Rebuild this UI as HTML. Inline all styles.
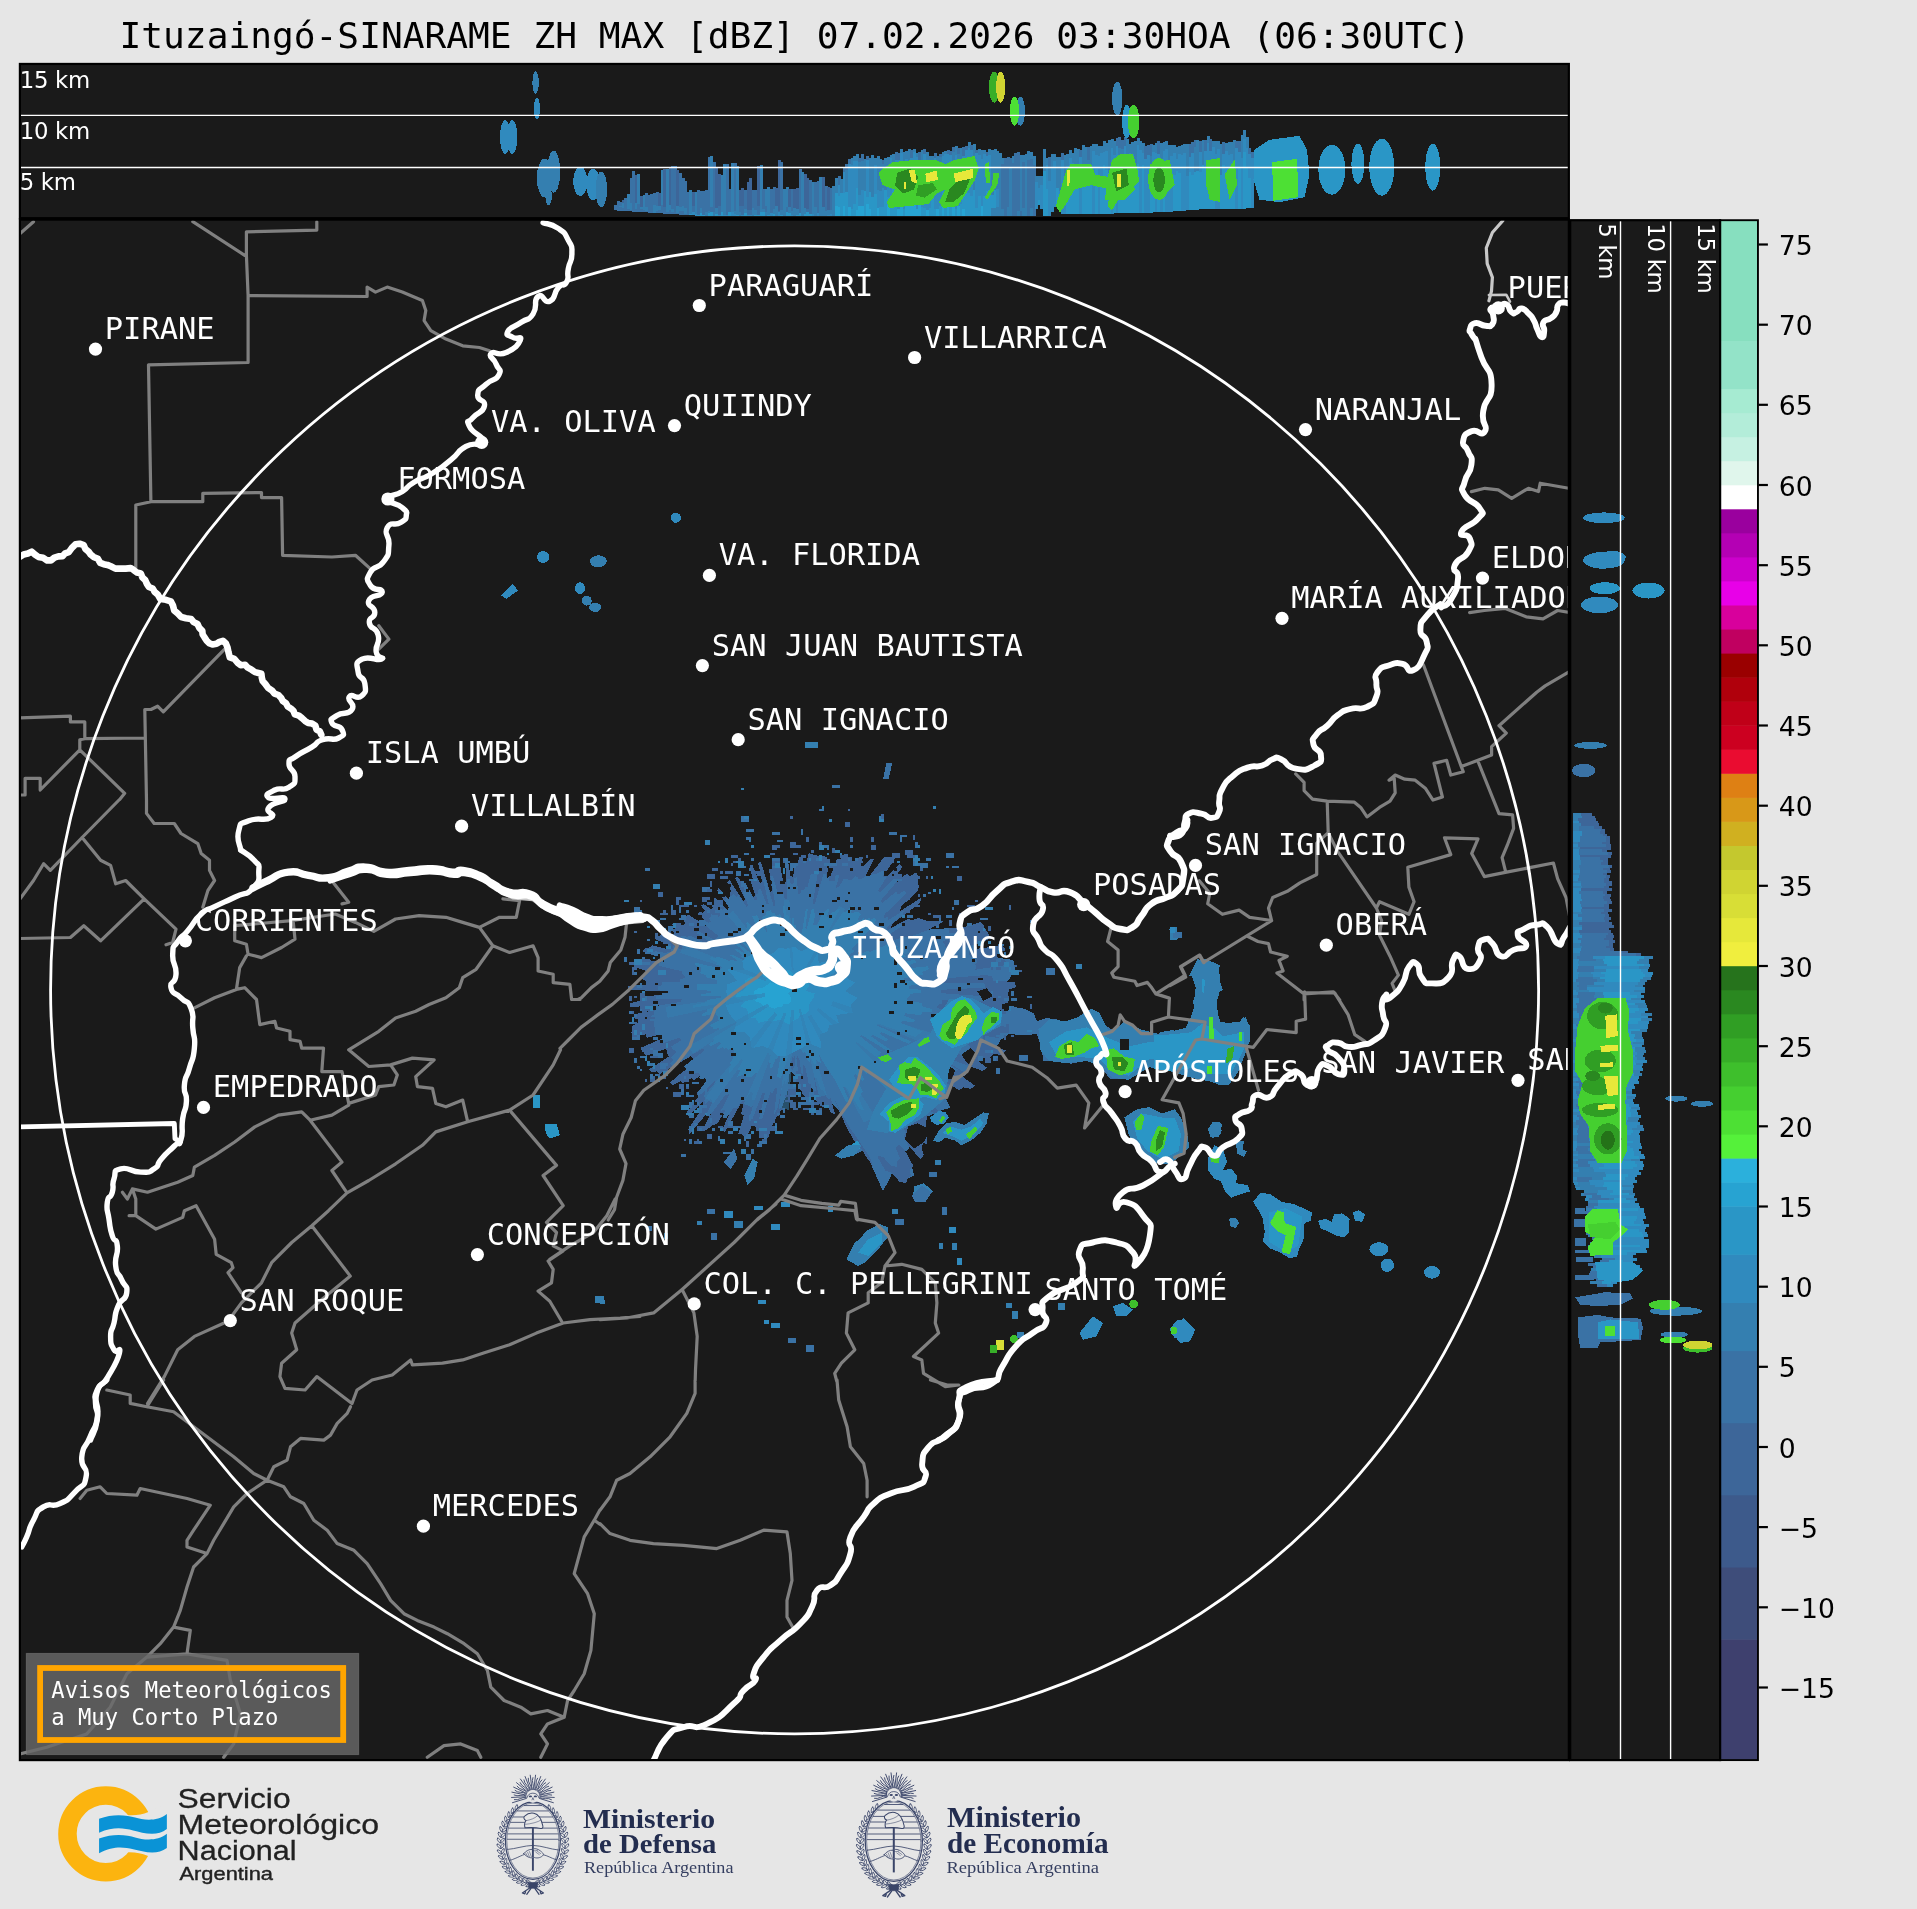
<!DOCTYPE html>
<html lang="es"><head><meta charset="utf-8"><title>Ituzaingó-SINARAME ZH MAX</title>
<style>
html,body{margin:0;padding:0;background:#e6e6e6;}
body{width:1917px;height:1909px;overflow:hidden;}
svg{display:block;position:absolute;left:0;top:0;will-change:transform;}
.mono{font-family:"DejaVu Sans Mono","Liberation Mono",monospace;}
.sans{font-family:"DejaVu Sans","Liberation Sans",sans-serif;}
.city{font-family:"DejaVu Sans Mono","Liberation Mono",monospace;font-size:29.4px;fill:#fff;}
.km{font-family:"DejaVu Sans","Liberation Sans",sans-serif;font-size:22.8px;letter-spacing:-0.3px;fill:#fff;}
.tick{font-family:"DejaVu Sans","Liberation Sans",sans-serif;font-size:26.6px;fill:#000;}
.w{fill:none;stroke:#fff;stroke-linejoin:round;stroke-linecap:round;}
.g{fill:none;stroke:#808080;stroke-width:3.2;stroke-linejoin:round;stroke-linecap:round;}
</style></head><body>
<svg width="1917" height="1909" viewBox="0 0 1917 1909">
<rect width="1917" height="1909" fill="#e6e6e6"/>
<text class="mono" x="119.5" y="48" font-size="36.2" fill="#000" xml:space="preserve">Ituzaingó-SINARAME ZH MAX [dBZ] 07.02.2026 03:30HOA (06:30UTC)</text>
<defs>
<clipPath id="cTop"><rect x="20" y="64" width="1548.8" height="154"/></clipPath>
<clipPath id="cMap"><rect x="20" y="220" width="1548.8" height="1540"/></clipPath>
<clipPath id="cSide"><rect x="1571" y="220" width="150" height="1540"/></clipPath>
</defs>
<rect x="19.9" y="64" width="1549" height="155" fill="#1a1a1a"/>
<rect x="19.9" y="219" width="1549" height="1541" fill="#1a1a1a"/>
<rect x="1568.9" y="220.2" width="151.2" height="1539.9" fill="#1a1a1a"/>
<g clip-path="url(#cTop)">
<g shape-rendering="crispEdges"><ellipse cx="535.6" cy="82.6" rx="3.2" ry="11.3" fill="#347fb0"/>
<ellipse cx="536.9" cy="108.5" rx="3.2" ry="10.7" fill="#308abe"/>
<ellipse cx="505.2" cy="137" rx="5.2" ry="16.8" fill="#308abe"/>
<ellipse cx="512.3" cy="137" rx="5.2" ry="16.8" fill="#308abe"/>
<ellipse cx="544.7" cy="178" rx="7.8" ry="19.4" fill="#347fb0"/>
<ellipse cx="553.7" cy="171.6" rx="6.5" ry="21" fill="#347fb0"/>
<ellipse cx="548.6" cy="195.8" rx="3.2" ry="9.7" fill="#347fb0"/>
<ellipse cx="580.3" cy="181.3" rx="7.1" ry="14.6" fill="#308abe"/>
<ellipse cx="593.2" cy="184.5" rx="7.1" ry="15.5" fill="#308abe"/>
<ellipse cx="601.3" cy="189.4" rx="5.8" ry="17.8" fill="#347fb0"/>
<rect x="614" y="204.7" width="2.9" height="4.9" fill="#3a72a5"/>
<rect x="614" y="209.2" width="2.9" height="1.2" fill="#3a72a5"/>
<rect x="616.6" y="200.9" width="2.9" height="0.7" fill="#3d6699"/>
<rect x="616.6" y="201.3" width="2.9" height="8.8" fill="#3a72a5"/>
<rect x="616.6" y="209.8" width="2.9" height="0.8" fill="#3a72a5"/>
<rect x="619.2" y="202.3" width="2.9" height="4.1" fill="#3a72a5"/>
<rect x="619.2" y="206.1" width="2.9" height="1.1" fill="#347fb0"/>
<rect x="619.2" y="207" width="2.9" height="3.7" fill="#3a72a5"/>
<rect x="621.8" y="200.1" width="2.9" height="3.4" fill="#3d6699"/>
<rect x="621.8" y="203.2" width="2.9" height="5.5" fill="#347fb0"/>
<rect x="621.8" y="208.4" width="2.9" height="2.5" fill="#3a72a5"/>
<rect x="624.4" y="197.7" width="2.9" height="7.1" fill="#3a72a5"/>
<rect x="624.4" y="204.5" width="2.9" height="4.3" fill="#3a72a5"/>
<rect x="624.4" y="208.6" width="2.9" height="2.5" fill="#3a72a5"/>
<rect x="627" y="194.1" width="2.9" height="8.5" fill="#347fb0"/>
<rect x="627" y="202.3" width="2.9" height="7.1" fill="#347fb0"/>
<rect x="627" y="209.1" width="2.9" height="2.2" fill="#3a72a5"/>
<rect x="629.6" y="177.9" width="2.9" height="25.3" fill="#3a72a5"/>
<rect x="629.6" y="202.9" width="2.9" height="7.5" fill="#347fb0"/>
<rect x="629.6" y="210.1" width="2.9" height="1.3" fill="#3a72a5"/>
<rect x="632.2" y="170.5" width="2.9" height="32.7" fill="#3a72a5"/>
<rect x="632.2" y="202.9" width="2.9" height="7.5" fill="#3a72a5"/>
<rect x="632.2" y="210.1" width="2.9" height="1.5" fill="#3a72a5"/>
<rect x="634.8" y="174.7" width="2.9" height="28.4" fill="#3d6699"/>
<rect x="634.8" y="202.9" width="2.9" height="6.6" fill="#347fb0"/>
<rect x="634.8" y="209.1" width="2.9" height="2.6" fill="#3a72a5"/>
<rect x="637.4" y="174.1" width="2.9" height="30.3" fill="#347fb0"/>
<rect x="637.4" y="204.1" width="2.9" height="6" fill="#3a72a5"/>
<rect x="637.4" y="209.8" width="2.9" height="2.1" fill="#3a72a5"/>
<rect x="640" y="196.4" width="2.9" height="11.4" fill="#3d6699"/>
<rect x="640" y="207.4" width="2.9" height="1.9" fill="#347fb0"/>
<rect x="640" y="209" width="2.9" height="3.1" fill="#3a72a5"/>
<rect x="642.6" y="195" width="2.9" height="11.5" fill="#347fb0"/>
<rect x="642.6" y="206.2" width="2.9" height="4.5" fill="#347fb0"/>
<rect x="642.6" y="210.4" width="2.9" height="1.8" fill="#3a72a5"/>
<rect x="645.2" y="193.4" width="2.9" height="14.3" fill="#3a72a5"/>
<rect x="645.2" y="207.3" width="2.9" height="4.1" fill="#347fb0"/>
<rect x="645.2" y="211.1" width="2.9" height="1.3" fill="#3a72a5"/>
<rect x="647.8" y="194.8" width="2.9" height="11.1" fill="#3a72a5"/>
<rect x="647.8" y="205.6" width="2.9" height="4.8" fill="#3a72a5"/>
<rect x="647.8" y="210.1" width="2.9" height="2.5" fill="#3a72a5"/>
<rect x="650.4" y="194.1" width="2.9" height="10.5" fill="#3a72a5"/>
<rect x="650.4" y="204.4" width="2.9" height="6.9" fill="#3a72a5"/>
<rect x="650.4" y="210.9" width="2.9" height="1.8" fill="#3a72a5"/>
<rect x="653" y="192.9" width="2.9" height="12.1" fill="#3a72a5"/>
<rect x="653" y="204.7" width="2.9" height="8.2" fill="#347fb0"/>
<rect x="653" y="212.6" width="2.9" height="0.3" fill="#3a72a5"/>
<rect x="655.6" y="191.8" width="2.9" height="14.8" fill="#3a72a5"/>
<rect x="655.6" y="206.3" width="2.9" height="5.3" fill="#347fb0"/>
<rect x="655.6" y="211.3" width="2.9" height="1.8" fill="#3a72a5"/>
<rect x="658.2" y="192.9" width="2.9" height="13.6" fill="#3d6699"/>
<rect x="658.2" y="206.2" width="2.9" height="3.6" fill="#347fb0"/>
<rect x="658.2" y="209.5" width="2.9" height="3.8" fill="#3a72a5"/>
<rect x="660.8" y="169.8" width="2.9" height="35.8" fill="#347fb0"/>
<rect x="660.8" y="205.3" width="2.9" height="7.9" fill="#3a72a5"/>
<rect x="660.8" y="212.9" width="2.9" height="0.5" fill="#3a72a5"/>
<rect x="663.4" y="169.1" width="2.9" height="38.5" fill="#3d6699"/>
<rect x="663.4" y="207.3" width="2.9" height="6.1" fill="#3a72a5"/>
<rect x="663.4" y="213.1" width="2.9" height="0.5" fill="#3a72a5"/>
<rect x="666" y="169.4" width="2.9" height="39.4" fill="#347fb0"/>
<rect x="666" y="208.6" width="2.9" height="4.2" fill="#347fb0"/>
<rect x="666" y="212.4" width="2.9" height="1.3" fill="#3a72a5"/>
<rect x="668.6" y="167.6" width="2.9" height="37.3" fill="#3d6699"/>
<rect x="668.6" y="204.5" width="2.9" height="5.4" fill="#347fb0"/>
<rect x="668.6" y="209.6" width="2.9" height="4.3" fill="#3a72a5"/>
<rect x="671.2" y="166.3" width="2.9" height="43.1" fill="#3a72a5"/>
<rect x="671.2" y="209.2" width="2.9" height="3.5" fill="#347fb0"/>
<rect x="671.2" y="212.4" width="2.9" height="1.7" fill="#3a72a5"/>
<rect x="673.8" y="166.4" width="2.9" height="42.9" fill="#3a72a5"/>
<rect x="673.8" y="209.1" width="2.9" height="3" fill="#3a72a5"/>
<rect x="673.8" y="211.8" width="2.9" height="2.5" fill="#3a72a5"/>
<rect x="676.4" y="170.1" width="2.9" height="36.1" fill="#3d6699"/>
<rect x="676.4" y="205.9" width="2.9" height="7.4" fill="#347fb0"/>
<rect x="676.4" y="213.1" width="2.9" height="1.3" fill="#3a72a5"/>
<rect x="679" y="173.2" width="2.9" height="34.1" fill="#3a72a5"/>
<rect x="679" y="207.1" width="2.9" height="4.4" fill="#347fb0"/>
<rect x="679" y="211.2" width="2.9" height="3.4" fill="#3a72a5"/>
<rect x="681.6" y="178.3" width="2.9" height="27.6" fill="#3a72a5"/>
<rect x="681.6" y="205.6" width="2.9" height="5.9" fill="#347fb0"/>
<rect x="681.6" y="211.2" width="2.9" height="3.6" fill="#3a72a5"/>
<rect x="684.2" y="181.3" width="2.9" height="26.8" fill="#3a72a5"/>
<rect x="684.2" y="207.8" width="2.9" height="6.4" fill="#347fb0"/>
<rect x="684.2" y="213.8" width="2.9" height="1.1" fill="#3a72a5"/>
<rect x="686.8" y="192.4" width="2.9" height="12.9" fill="#3a72a5"/>
<rect x="686.8" y="205" width="2.9" height="8.6" fill="#3a72a5"/>
<rect x="686.8" y="213.3" width="2.9" height="1.8" fill="#3a72a5"/>
<rect x="689.4" y="189.6" width="2.9" height="20.4" fill="#347fb0"/>
<rect x="689.4" y="209.7" width="2.9" height="4.7" fill="#347fb0"/>
<rect x="689.4" y="214.1" width="2.9" height="1.1" fill="#2a96c6"/>
<rect x="692" y="191.6" width="2.9" height="14.3" fill="#3d6699"/>
<rect x="692" y="205.6" width="2.9" height="6.6" fill="#3a72a5"/>
<rect x="692" y="212" width="2.9" height="3.4" fill="#308abe"/>
<rect x="694.6" y="191.5" width="2.9" height="15.3" fill="#347fb0"/>
<rect x="694.6" y="206.5" width="2.9" height="7.7" fill="#347fb0"/>
<rect x="694.6" y="213.9" width="2.9" height="1.6" fill="#308abe"/>
<rect x="697.2" y="190" width="2.9" height="20.7" fill="#3a72a5"/>
<rect x="697.2" y="210.4" width="2.9" height="4.8" fill="#3a72a5"/>
<rect x="697.2" y="214.9" width="2.9" height="0.8" fill="#2a96c6"/>
<rect x="699.8" y="191.2" width="2.9" height="16.9" fill="#3a72a5"/>
<rect x="699.8" y="207.8" width="2.9" height="5.6" fill="#347fb0"/>
<rect x="699.8" y="213.1" width="2.9" height="2.7" fill="#2a96c6"/>
<rect x="702.4" y="191.2" width="2.9" height="17.3" fill="#3a72a5"/>
<rect x="702.4" y="208.2" width="2.9" height="7.1" fill="#3a72a5"/>
<rect x="702.4" y="215" width="2.9" height="0.8" fill="#2a96c6"/>
<rect x="705" y="190.3" width="2.9" height="18.9" fill="#3a72a5"/>
<rect x="705" y="208.9" width="2.9" height="3.4" fill="#3a72a5"/>
<rect x="705" y="212" width="2.9" height="3.8" fill="#347fb0"/>
<rect x="707.6" y="157.1" width="2.9" height="54.3" fill="#3a72a5"/>
<rect x="707.6" y="211.1" width="2.9" height="1.7" fill="#347fb0"/>
<rect x="707.6" y="212.5" width="2.9" height="3.3" fill="#2a96c6"/>
<rect x="710.2" y="156.4" width="2.9" height="50.4" fill="#347fb0"/>
<rect x="710.2" y="206.5" width="2.9" height="5.8" fill="#3a72a5"/>
<rect x="710.2" y="212" width="2.9" height="3.8" fill="#2a96c6"/>
<rect x="712.8" y="161.9" width="2.9" height="46.3" fill="#3a72a5"/>
<rect x="712.8" y="207.8" width="2.9" height="4.8" fill="#3a72a5"/>
<rect x="712.8" y="212.4" width="2.9" height="3.4" fill="#347fb0"/>
<rect x="715.4" y="167.9" width="2.9" height="40.5" fill="#3d6699"/>
<rect x="715.4" y="208.2" width="2.9" height="6.3" fill="#347fb0"/>
<rect x="715.4" y="214.2" width="2.9" height="1.6" fill="#2a96c6"/>
<rect x="718" y="173.9" width="2.9" height="32.6" fill="#3d6699"/>
<rect x="718" y="206.2" width="2.9" height="9.4" fill="#3a72a5"/>
<rect x="718" y="215.3" width="2.9" height="0.5" fill="#308abe"/>
<rect x="720.6" y="174.5" width="2.9" height="35.3" fill="#347fb0"/>
<rect x="720.6" y="209.5" width="2.9" height="2.4" fill="#347fb0"/>
<rect x="720.6" y="211.6" width="2.9" height="4.2" fill="#2a96c6"/>
<rect x="723.2" y="164.1" width="2.9" height="44.6" fill="#347fb0"/>
<rect x="723.2" y="208.5" width="2.9" height="6.4" fill="#347fb0"/>
<rect x="723.2" y="214.5" width="2.9" height="1.3" fill="#308abe"/>
<rect x="725.8" y="163.5" width="2.9" height="43.3" fill="#3a72a5"/>
<rect x="725.8" y="206.5" width="2.9" height="8.8" fill="#3a72a5"/>
<rect x="725.8" y="215" width="2.9" height="0.8" fill="#308abe"/>
<rect x="728.4" y="189.2" width="2.9" height="17.9" fill="#3a72a5"/>
<rect x="728.4" y="206.8" width="2.9" height="5.4" fill="#3a72a5"/>
<rect x="728.4" y="211.9" width="2.9" height="3.9" fill="#2a96c6"/>
<rect x="731" y="163" width="2.9" height="47.5" fill="#347fb0"/>
<rect x="731" y="210.2" width="2.9" height="1.8" fill="#347fb0"/>
<rect x="731" y="211.7" width="2.9" height="4.1" fill="#308abe"/>
<rect x="733.6" y="163.2" width="2.9" height="47.6" fill="#3a72a5"/>
<rect x="733.6" y="210.5" width="2.9" height="3.5" fill="#347fb0"/>
<rect x="733.6" y="213.8" width="2.9" height="2" fill="#308abe"/>
<rect x="736.2" y="166.2" width="2.9" height="43" fill="#347fb0"/>
<rect x="736.2" y="208.9" width="2.9" height="6.9" fill="#347fb0"/>
<rect x="736.2" y="215.4" width="2.9" height="0.4" fill="#2a96c6"/>
<rect x="738.8" y="189.5" width="2.9" height="16.4" fill="#3d6699"/>
<rect x="738.8" y="205.6" width="2.9" height="7.1" fill="#3a72a5"/>
<rect x="738.8" y="212.3" width="2.9" height="3.5" fill="#347fb0"/>
<rect x="741.4" y="188.3" width="2.9" height="18" fill="#3d6699"/>
<rect x="741.4" y="206.1" width="2.9" height="9" fill="#3a72a5"/>
<rect x="741.4" y="214.8" width="2.9" height="1" fill="#308abe"/>
<rect x="744" y="190" width="2.9" height="19.3" fill="#3a72a5"/>
<rect x="744" y="209.1" width="2.9" height="4.6" fill="#347fb0"/>
<rect x="744" y="213.4" width="2.9" height="2.4" fill="#2a96c6"/>
<rect x="746.6" y="182.1" width="2.9" height="28" fill="#3d6699"/>
<rect x="746.6" y="209.9" width="2.9" height="5.8" fill="#3a72a5"/>
<rect x="746.6" y="215.4" width="2.9" height="0.4" fill="#308abe"/>
<rect x="749.2" y="178.4" width="2.9" height="31.8" fill="#3d6699"/>
<rect x="749.2" y="209.9" width="2.9" height="5.4" fill="#3a72a5"/>
<rect x="749.2" y="215" width="2.9" height="0.8" fill="#308abe"/>
<rect x="751.8" y="190.3" width="2.9" height="17.8" fill="#3a72a5"/>
<rect x="751.8" y="207.8" width="2.9" height="7.9" fill="#347fb0"/>
<rect x="751.8" y="215.3" width="2.9" height="0.5" fill="#347fb0"/>
<rect x="754.4" y="190.1" width="2.9" height="20.2" fill="#3a72a5"/>
<rect x="754.4" y="209.9" width="2.9" height="5.1" fill="#347fb0"/>
<rect x="754.4" y="214.8" width="2.9" height="1" fill="#2a96c6"/>
<rect x="757" y="165.5" width="2.9" height="40.3" fill="#3d6699"/>
<rect x="757" y="205.5" width="2.9" height="10.1" fill="#3a72a5"/>
<rect x="757" y="215.4" width="2.9" height="0.4" fill="#2a96c6"/>
<rect x="759.6" y="165.3" width="2.9" height="45.9" fill="#347fb0"/>
<rect x="759.6" y="210.9" width="2.9" height="1.7" fill="#347fb0"/>
<rect x="759.6" y="212.2" width="2.9" height="3.6" fill="#2a96c6"/>
<rect x="762.2" y="188.6" width="2.9" height="21.2" fill="#3a72a5"/>
<rect x="762.2" y="209.4" width="2.9" height="3" fill="#347fb0"/>
<rect x="762.2" y="212.2" width="2.9" height="3.6" fill="#2a96c6"/>
<rect x="764.8" y="188.9" width="2.9" height="16.9" fill="#347fb0"/>
<rect x="764.8" y="205.6" width="2.9" height="6.3" fill="#3a72a5"/>
<rect x="764.8" y="211.6" width="2.9" height="4.2" fill="#347fb0"/>
<rect x="767.4" y="187.2" width="2.9" height="23.6" fill="#347fb0"/>
<rect x="767.4" y="210.5" width="2.9" height="4.9" fill="#347fb0"/>
<rect x="767.4" y="215.2" width="2.9" height="0.6" fill="#2a96c6"/>
<rect x="770" y="188.9" width="2.9" height="19.3" fill="#3a72a5"/>
<rect x="770" y="207.9" width="2.9" height="5.1" fill="#3a72a5"/>
<rect x="770" y="212.7" width="2.9" height="3.1" fill="#308abe"/>
<rect x="772.6" y="187.4" width="2.9" height="21.7" fill="#3a72a5"/>
<rect x="772.6" y="208.8" width="2.9" height="5.9" fill="#347fb0"/>
<rect x="772.6" y="214.4" width="2.9" height="1.4" fill="#2a96c6"/>
<rect x="775.2" y="187.8" width="2.9" height="18.2" fill="#3d6699"/>
<rect x="775.2" y="205.7" width="2.9" height="8.9" fill="#347fb0"/>
<rect x="775.2" y="214.3" width="2.9" height="1.5" fill="#347fb0"/>
<rect x="777.8" y="159.9" width="2.9" height="51.4" fill="#3d6699"/>
<rect x="777.8" y="211" width="2.9" height="1.6" fill="#3a72a5"/>
<rect x="777.8" y="212.2" width="2.9" height="3.6" fill="#308abe"/>
<rect x="780.4" y="161.7" width="2.9" height="48.3" fill="#3a72a5"/>
<rect x="780.4" y="209.7" width="2.9" height="5.2" fill="#347fb0"/>
<rect x="780.4" y="214.6" width="2.9" height="1.2" fill="#2a96c6"/>
<rect x="783" y="189.2" width="2.9" height="18" fill="#347fb0"/>
<rect x="783" y="206.9" width="2.9" height="6" fill="#347fb0"/>
<rect x="783" y="212.6" width="2.9" height="3.2" fill="#347fb0"/>
<rect x="785.6" y="187.4" width="2.9" height="20" fill="#347fb0"/>
<rect x="785.6" y="207.1" width="2.9" height="5.5" fill="#3a72a5"/>
<rect x="785.6" y="212.3" width="2.9" height="3.5" fill="#2a96c6"/>
<rect x="788.2" y="188.8" width="2.9" height="18.1" fill="#3d6699"/>
<rect x="788.2" y="206.5" width="2.9" height="6.9" fill="#347fb0"/>
<rect x="788.2" y="213.2" width="2.9" height="2.6" fill="#2a96c6"/>
<rect x="790.8" y="189.3" width="2.9" height="22" fill="#3a72a5"/>
<rect x="790.8" y="211" width="2.9" height="4.6" fill="#347fb0"/>
<rect x="790.8" y="215.3" width="2.9" height="0.5" fill="#308abe"/>
<rect x="793.4" y="189.3" width="2.9" height="18.8" fill="#3d6699"/>
<rect x="793.4" y="207.7" width="2.9" height="5.6" fill="#347fb0"/>
<rect x="793.4" y="213" width="2.9" height="2.8" fill="#347fb0"/>
<rect x="796" y="187.8" width="2.9" height="21.3" fill="#3d6699"/>
<rect x="796" y="208.8" width="2.9" height="6.8" fill="#347fb0"/>
<rect x="796" y="215.2" width="2.9" height="0.6" fill="#2a96c6"/>
<rect x="798.6" y="168.9" width="2.9" height="41.5" fill="#3a72a5"/>
<rect x="798.6" y="210.1" width="2.9" height="2.7" fill="#3a72a5"/>
<rect x="798.6" y="212.5" width="2.9" height="3.3" fill="#2a96c6"/>
<rect x="801.2" y="172.3" width="2.9" height="39.1" fill="#347fb0"/>
<rect x="801.2" y="211" width="2.9" height="1.1" fill="#347fb0"/>
<rect x="801.2" y="211.9" width="2.9" height="3.9" fill="#347fb0"/>
<rect x="803.8" y="174.2" width="2.9" height="34" fill="#3d6699"/>
<rect x="803.8" y="207.9" width="2.9" height="6.6" fill="#347fb0"/>
<rect x="803.8" y="214.2" width="2.9" height="1.6" fill="#2a96c6"/>
<rect x="806.4" y="177.8" width="2.9" height="31.1" fill="#3d6699"/>
<rect x="806.4" y="208.6" width="2.9" height="3.3" fill="#3a72a5"/>
<rect x="806.4" y="211.6" width="2.9" height="4.2" fill="#2a96c6"/>
<rect x="809" y="179.9" width="2.9" height="29.1" fill="#3a72a5"/>
<rect x="809" y="208.7" width="2.9" height="5.2" fill="#3a72a5"/>
<rect x="809" y="213.6" width="2.9" height="2.2" fill="#2a96c6"/>
<rect x="811.6" y="182.1" width="2.9" height="29.6" fill="#347fb0"/>
<rect x="811.6" y="211.4" width="2.9" height="2.6" fill="#347fb0"/>
<rect x="811.6" y="213.7" width="2.9" height="2.1" fill="#308abe"/>
<rect x="814.2" y="181.5" width="2.9" height="25.9" fill="#3a72a5"/>
<rect x="814.2" y="207" width="2.9" height="7.7" fill="#347fb0"/>
<rect x="814.2" y="214.5" width="2.9" height="1.3" fill="#347fb0"/>
<rect x="816.8" y="181.4" width="2.9" height="25.1" fill="#3a72a5"/>
<rect x="816.8" y="206.2" width="2.9" height="6.8" fill="#3a72a5"/>
<rect x="816.8" y="212.7" width="2.9" height="3.1" fill="#308abe"/>
<rect x="819.4" y="176.9" width="2.9" height="30.9" fill="#347fb0"/>
<rect x="819.4" y="207.4" width="2.9" height="6.8" fill="#347fb0"/>
<rect x="819.4" y="213.9" width="2.9" height="1.9" fill="#347fb0"/>
<rect x="822" y="176.6" width="2.9" height="30.2" fill="#3d6699"/>
<rect x="822" y="206.5" width="2.9" height="9.3" fill="#347fb0"/>
<rect x="822" y="215.5" width="2.9" height="0.3" fill="#308abe"/>
<rect x="824.6" y="186.1" width="2.9" height="25.3" fill="#3a72a5"/>
<rect x="824.6" y="211.1" width="2.9" height="3.1" fill="#347fb0"/>
<rect x="824.6" y="213.9" width="2.9" height="1.9" fill="#347fb0"/>
<rect x="827.2" y="186.7" width="2.9" height="23.4" fill="#3d6699"/>
<rect x="827.2" y="209.8" width="2.9" height="5.8" fill="#347fb0"/>
<rect x="827.2" y="215.3" width="2.9" height="0.5" fill="#308abe"/>
<rect x="829.8" y="187.5" width="2.9" height="22.8" fill="#3a72a5"/>
<rect x="829.8" y="210" width="2.9" height="4.7" fill="#347fb0"/>
<rect x="829.8" y="214.4" width="2.9" height="1.4" fill="#308abe"/>
<rect x="832.4" y="186.1" width="2.9" height="20.2" fill="#347fb0"/>
<rect x="832.4" y="206" width="2.9" height="6" fill="#347fb0"/>
<rect x="832.4" y="211.7" width="2.9" height="4.1" fill="#347fb0"/>
<rect x="835" y="178.3" width="2.9" height="3.6" fill="#347fb0"/>
<rect x="835" y="181.5" width="2.9" height="11.7" fill="#347fb0"/>
<rect x="835" y="193" width="2.9" height="12.9" fill="#2a96c6"/>
<rect x="835" y="205.6" width="2.9" height="10.2" fill="#27a3d2"/>
<rect x="837.6" y="176.2" width="2.9" height="8.9" fill="#3a72a5"/>
<rect x="837.6" y="184.8" width="2.9" height="11.3" fill="#308abe"/>
<rect x="837.6" y="195.8" width="2.9" height="11.9" fill="#2a96c6"/>
<rect x="837.6" y="207.4" width="2.9" height="8.4" fill="#27a3d2"/>
<rect x="840.2" y="178.7" width="2.9" height="9.2" fill="#347fb0"/>
<rect x="840.2" y="187.6" width="2.9" height="6.2" fill="#347fb0"/>
<rect x="840.2" y="193.4" width="2.9" height="14.6" fill="#2a96c6"/>
<rect x="840.2" y="207.7" width="2.9" height="8.1" fill="#2a96c6"/>
<rect x="842.8" y="168.1" width="2.9" height="4.3" fill="#3a72a5"/>
<rect x="842.8" y="172" width="2.9" height="20.8" fill="#308abe"/>
<rect x="842.8" y="192.5" width="2.9" height="14" fill="#2a96c6"/>
<rect x="842.8" y="206.2" width="2.9" height="9.6" fill="#27a3d2"/>
<rect x="845.4" y="164.4" width="2.9" height="6" fill="#3a72a5"/>
<rect x="845.4" y="170.1" width="2.9" height="22.2" fill="#347fb0"/>
<rect x="845.4" y="192" width="2.9" height="17.2" fill="#2a96c6"/>
<rect x="845.4" y="209" width="2.9" height="6.8" fill="#2a96c6"/>
<rect x="848" y="158.8" width="2.9" height="5.5" fill="#3a72a5"/>
<rect x="848" y="164.1" width="2.9" height="24.9" fill="#308abe"/>
<rect x="848" y="188.6" width="2.9" height="18.9" fill="#308abe"/>
<rect x="848" y="207.2" width="2.9" height="8.6" fill="#27a3d2"/>
<rect x="850.6" y="157.5" width="2.9" height="7.8" fill="#347fb0"/>
<rect x="850.6" y="165" width="2.9" height="30" fill="#308abe"/>
<rect x="850.6" y="194.7" width="2.9" height="14.3" fill="#308abe"/>
<rect x="850.6" y="208.7" width="2.9" height="7.1" fill="#2a96c6"/>
<rect x="853.2" y="156.4" width="2.9" height="4.8" fill="#347fb0"/>
<rect x="853.2" y="160.9" width="2.9" height="30.4" fill="#308abe"/>
<rect x="853.2" y="191" width="2.9" height="13" fill="#308abe"/>
<rect x="853.2" y="203.8" width="2.9" height="12" fill="#2a96c6"/>
<rect x="855.8" y="154.2" width="2.9" height="7.6" fill="#347fb0"/>
<rect x="855.8" y="161.4" width="2.9" height="26.7" fill="#308abe"/>
<rect x="855.8" y="187.8" width="2.9" height="22" fill="#2a96c6"/>
<rect x="855.8" y="209.5" width="2.9" height="6.3" fill="#27a3d2"/>
<rect x="858.4" y="157.8" width="2.9" height="4.8" fill="#3a72a5"/>
<rect x="858.4" y="162.3" width="2.9" height="33.3" fill="#347fb0"/>
<rect x="858.4" y="195.3" width="2.9" height="11.4" fill="#308abe"/>
<rect x="858.4" y="206.4" width="2.9" height="9.4" fill="#27a3d2"/>
<rect x="861" y="153.7" width="2.9" height="8" fill="#3a72a5"/>
<rect x="861" y="161.4" width="2.9" height="28.6" fill="#347fb0"/>
<rect x="861" y="189.7" width="2.9" height="16.7" fill="#308abe"/>
<rect x="861" y="206.1" width="2.9" height="9.7" fill="#27a3d2"/>
<rect x="863.6" y="158.5" width="2.9" height="7.1" fill="#347fb0"/>
<rect x="863.6" y="165.3" width="2.9" height="25.6" fill="#347fb0"/>
<rect x="863.6" y="190.5" width="2.9" height="18.7" fill="#2a96c6"/>
<rect x="863.6" y="208.9" width="2.9" height="6.9" fill="#2a96c6"/>
<rect x="866.2" y="156" width="2.9" height="4.6" fill="#3a72a5"/>
<rect x="866.2" y="160.3" width="2.9" height="37.4" fill="#308abe"/>
<rect x="866.2" y="197.4" width="2.9" height="6.4" fill="#2a96c6"/>
<rect x="866.2" y="203.5" width="2.9" height="12.3" fill="#27a3d2"/>
<rect x="868.8" y="157.7" width="2.9" height="8.6" fill="#347fb0"/>
<rect x="868.8" y="166" width="2.9" height="26.6" fill="#347fb0"/>
<rect x="868.8" y="192.2" width="2.9" height="17.4" fill="#2a96c6"/>
<rect x="868.8" y="209.3" width="2.9" height="6.5" fill="#27a3d2"/>
<rect x="871.4" y="155.1" width="2.9" height="4.5" fill="#347fb0"/>
<rect x="871.4" y="159.2" width="2.9" height="37.7" fill="#347fb0"/>
<rect x="871.4" y="196.7" width="2.9" height="9.1" fill="#2a96c6"/>
<rect x="871.4" y="205.5" width="2.9" height="10.3" fill="#2a96c6"/>
<rect x="874" y="157.6" width="2.9" height="7.5" fill="#347fb0"/>
<rect x="874" y="164.7" width="2.9" height="29.4" fill="#308abe"/>
<rect x="874" y="193.9" width="2.9" height="14.7" fill="#2a96c6"/>
<rect x="874" y="208.3" width="2.9" height="7.5" fill="#2a96c6"/>
<rect x="876.6" y="156.3" width="2.9" height="9.1" fill="#347fb0"/>
<rect x="876.6" y="165.1" width="2.9" height="25" fill="#347fb0"/>
<rect x="876.6" y="189.8" width="2.9" height="18.6" fill="#308abe"/>
<rect x="876.6" y="208.1" width="2.9" height="7.7" fill="#27a3d2"/>
<rect x="879.2" y="159.3" width="2.9" height="5.1" fill="#347fb0"/>
<rect x="879.2" y="164" width="2.9" height="27.7" fill="#347fb0"/>
<rect x="879.2" y="191.4" width="2.9" height="15.5" fill="#308abe"/>
<rect x="879.2" y="206.6" width="2.9" height="9.2" fill="#2a96c6"/>
<rect x="881.8" y="160.3" width="2.9" height="3.6" fill="#3a72a5"/>
<rect x="881.8" y="163.6" width="2.9" height="24.5" fill="#347fb0"/>
<rect x="881.8" y="187.8" width="2.9" height="19.5" fill="#308abe"/>
<rect x="881.8" y="207" width="2.9" height="8.8" fill="#2a96c6"/>
<rect x="884.4" y="157.8" width="2.9" height="8.7" fill="#347fb0"/>
<rect x="884.4" y="166.2" width="2.9" height="24.3" fill="#347fb0"/>
<rect x="884.4" y="190.2" width="2.9" height="14" fill="#2a96c6"/>
<rect x="884.4" y="203.9" width="2.9" height="11.9" fill="#2a96c6"/>
<rect x="887" y="157" width="2.9" height="8.9" fill="#347fb0"/>
<rect x="887" y="165.6" width="2.9" height="31.9" fill="#308abe"/>
<rect x="887" y="197.2" width="2.9" height="7.6" fill="#2a96c6"/>
<rect x="887" y="204.5" width="2.9" height="11.3" fill="#27a3d2"/>
<rect x="889.6" y="155.1" width="2.9" height="3.3" fill="#347fb0"/>
<rect x="889.6" y="158.1" width="2.9" height="38.8" fill="#308abe"/>
<rect x="889.6" y="196.7" width="2.9" height="7.4" fill="#308abe"/>
<rect x="889.6" y="203.8" width="2.9" height="12" fill="#2a96c6"/>
<rect x="892.2" y="153.9" width="2.9" height="7.9" fill="#347fb0"/>
<rect x="892.2" y="161.5" width="2.9" height="28.1" fill="#308abe"/>
<rect x="892.2" y="189.3" width="2.9" height="20" fill="#2a96c6"/>
<rect x="892.2" y="209" width="2.9" height="6.8" fill="#2a96c6"/>
<rect x="894.8" y="151.6" width="2.9" height="8.8" fill="#3a72a5"/>
<rect x="894.8" y="160.1" width="2.9" height="34.5" fill="#308abe"/>
<rect x="894.8" y="194.3" width="2.9" height="15.4" fill="#2a96c6"/>
<rect x="894.8" y="209.3" width="2.9" height="6.5" fill="#2a96c6"/>
<rect x="897.4" y="152.7" width="2.9" height="7.9" fill="#3a72a5"/>
<rect x="897.4" y="160.3" width="2.9" height="33.7" fill="#308abe"/>
<rect x="897.4" y="193.7" width="2.9" height="15.7" fill="#308abe"/>
<rect x="897.4" y="209.1" width="2.9" height="6.7" fill="#27a3d2"/>
<rect x="900" y="149.4" width="2.9" height="3.7" fill="#347fb0"/>
<rect x="900" y="152.8" width="2.9" height="41.3" fill="#308abe"/>
<rect x="900" y="193.9" width="2.9" height="10.2" fill="#308abe"/>
<rect x="900" y="203.8" width="2.9" height="12" fill="#27a3d2"/>
<rect x="902.6" y="152" width="2.9" height="7.4" fill="#347fb0"/>
<rect x="902.6" y="159.2" width="2.9" height="35.7" fill="#347fb0"/>
<rect x="902.6" y="194.5" width="2.9" height="15.1" fill="#308abe"/>
<rect x="902.6" y="209.4" width="2.9" height="6.4" fill="#2a96c6"/>
<rect x="905.2" y="150.5" width="2.9" height="9" fill="#347fb0"/>
<rect x="905.2" y="159.2" width="2.9" height="30.7" fill="#308abe"/>
<rect x="905.2" y="189.6" width="2.9" height="15.3" fill="#308abe"/>
<rect x="905.2" y="204.6" width="2.9" height="11.2" fill="#27a3d2"/>
<rect x="907.8" y="148.8" width="2.9" height="8.1" fill="#347fb0"/>
<rect x="907.8" y="156.6" width="2.9" height="32.9" fill="#347fb0"/>
<rect x="907.8" y="189.3" width="2.9" height="16.9" fill="#2a96c6"/>
<rect x="907.8" y="205.9" width="2.9" height="9.9" fill="#27a3d2"/>
<rect x="910.4" y="150" width="2.9" height="8" fill="#3a72a5"/>
<rect x="910.4" y="157.7" width="2.9" height="34.9" fill="#308abe"/>
<rect x="910.4" y="192.4" width="2.9" height="12.9" fill="#308abe"/>
<rect x="910.4" y="205" width="2.9" height="10.8" fill="#27a3d2"/>
<rect x="913" y="148.9" width="2.9" height="3.5" fill="#347fb0"/>
<rect x="913" y="152.1" width="2.9" height="44.1" fill="#308abe"/>
<rect x="913" y="195.9" width="2.9" height="8.6" fill="#308abe"/>
<rect x="913" y="204.2" width="2.9" height="11.6" fill="#27a3d2"/>
<rect x="915.6" y="152.5" width="2.9" height="4.6" fill="#347fb0"/>
<rect x="915.6" y="156.8" width="2.9" height="36" fill="#308abe"/>
<rect x="915.6" y="192.5" width="2.9" height="16.2" fill="#308abe"/>
<rect x="915.6" y="208.5" width="2.9" height="7.3" fill="#27a3d2"/>
<rect x="918.2" y="151.8" width="2.9" height="8.6" fill="#3a72a5"/>
<rect x="918.2" y="160.1" width="2.9" height="30.2" fill="#347fb0"/>
<rect x="918.2" y="190" width="2.9" height="15.1" fill="#2a96c6"/>
<rect x="918.2" y="204.8" width="2.9" height="11" fill="#27a3d2"/>
<rect x="920.8" y="150.2" width="2.9" height="4.9" fill="#347fb0"/>
<rect x="920.8" y="154.8" width="2.9" height="35.6" fill="#347fb0"/>
<rect x="920.8" y="190.1" width="2.9" height="17" fill="#308abe"/>
<rect x="920.8" y="206.9" width="2.9" height="8.9" fill="#2a96c6"/>
<rect x="923.4" y="149.3" width="2.9" height="5" fill="#3a72a5"/>
<rect x="923.4" y="154" width="2.9" height="40.5" fill="#308abe"/>
<rect x="923.4" y="194.2" width="2.9" height="14.1" fill="#308abe"/>
<rect x="923.4" y="208" width="2.9" height="7.8" fill="#2a96c6"/>
<rect x="926" y="151.9" width="2.9" height="3.9" fill="#347fb0"/>
<rect x="926" y="155.5" width="2.9" height="32.4" fill="#347fb0"/>
<rect x="926" y="187.6" width="2.9" height="22.2" fill="#308abe"/>
<rect x="926" y="209.5" width="2.9" height="6.3" fill="#27a3d2"/>
<rect x="928.6" y="155.8" width="2.9" height="3.5" fill="#347fb0"/>
<rect x="928.6" y="159" width="2.9" height="36.4" fill="#347fb0"/>
<rect x="928.6" y="195.2" width="2.9" height="13.5" fill="#308abe"/>
<rect x="928.6" y="208.4" width="2.9" height="7.4" fill="#2a96c6"/>
<rect x="931.2" y="155.7" width="2.9" height="8.5" fill="#347fb0"/>
<rect x="931.2" y="163.9" width="2.9" height="27.9" fill="#347fb0"/>
<rect x="931.2" y="191.5" width="2.9" height="17.7" fill="#2a96c6"/>
<rect x="931.2" y="208.9" width="2.9" height="6.9" fill="#2a96c6"/>
<rect x="933.8" y="153.2" width="2.9" height="5.3" fill="#3a72a5"/>
<rect x="933.8" y="158.2" width="2.9" height="37.6" fill="#308abe"/>
<rect x="933.8" y="195.5" width="2.9" height="14.1" fill="#308abe"/>
<rect x="933.8" y="209.3" width="2.9" height="6.5" fill="#2a96c6"/>
<rect x="936.4" y="156" width="2.9" height="5.8" fill="#347fb0"/>
<rect x="936.4" y="161.4" width="2.9" height="34.5" fill="#308abe"/>
<rect x="936.4" y="195.6" width="2.9" height="13.7" fill="#308abe"/>
<rect x="936.4" y="209" width="2.9" height="6.8" fill="#27a3d2"/>
<rect x="939" y="153.5" width="2.9" height="3.7" fill="#3a72a5"/>
<rect x="939" y="156.9" width="2.9" height="32.9" fill="#347fb0"/>
<rect x="939" y="189.5" width="2.9" height="16.4" fill="#308abe"/>
<rect x="939" y="205.7" width="2.9" height="10.1" fill="#2a96c6"/>
<rect x="941.6" y="151.7" width="2.9" height="4.9" fill="#347fb0"/>
<rect x="941.6" y="156.3" width="2.9" height="34.8" fill="#308abe"/>
<rect x="941.6" y="190.8" width="2.9" height="13.3" fill="#2a96c6"/>
<rect x="941.6" y="203.8" width="2.9" height="12" fill="#27a3d2"/>
<rect x="944.2" y="150.7" width="2.9" height="3.4" fill="#347fb0"/>
<rect x="944.2" y="153.8" width="2.9" height="37.5" fill="#308abe"/>
<rect x="944.2" y="191.1" width="2.9" height="14.4" fill="#308abe"/>
<rect x="944.2" y="205.1" width="2.9" height="10.7" fill="#2a96c6"/>
<rect x="946.8" y="150" width="2.9" height="4.2" fill="#3a72a5"/>
<rect x="946.8" y="153.9" width="2.9" height="35.7" fill="#308abe"/>
<rect x="946.8" y="189.3" width="2.9" height="17" fill="#2a96c6"/>
<rect x="946.8" y="206" width="2.9" height="9.8" fill="#27a3d2"/>
<rect x="949.4" y="150.8" width="2.9" height="4.1" fill="#3a72a5"/>
<rect x="949.4" y="154.6" width="2.9" height="37.7" fill="#308abe"/>
<rect x="949.4" y="192" width="2.9" height="17.3" fill="#2a96c6"/>
<rect x="949.4" y="209" width="2.9" height="6.8" fill="#2a96c6"/>
<rect x="952" y="146.8" width="2.9" height="5" fill="#3a72a5"/>
<rect x="952" y="151.5" width="2.9" height="37.1" fill="#347fb0"/>
<rect x="952" y="188.2" width="2.9" height="19.3" fill="#308abe"/>
<rect x="952" y="207.2" width="2.9" height="8.6" fill="#27a3d2"/>
<rect x="954.6" y="145.8" width="2.9" height="9" fill="#347fb0"/>
<rect x="954.6" y="154.5" width="2.9" height="40.2" fill="#308abe"/>
<rect x="954.6" y="194.4" width="2.9" height="14.9" fill="#308abe"/>
<rect x="954.6" y="209" width="2.9" height="6.8" fill="#2a96c6"/>
<rect x="957.2" y="147.5" width="2.9" height="7" fill="#3a72a5"/>
<rect x="957.2" y="154.2" width="2.9" height="35.3" fill="#347fb0"/>
<rect x="957.2" y="189.2" width="2.9" height="17.2" fill="#308abe"/>
<rect x="957.2" y="206.1" width="2.9" height="9.7" fill="#27a3d2"/>
<rect x="959.8" y="148.4" width="2.9" height="4.2" fill="#347fb0"/>
<rect x="959.8" y="152.3" width="2.9" height="44.2" fill="#347fb0"/>
<rect x="959.8" y="196.3" width="2.9" height="7.7" fill="#308abe"/>
<rect x="959.8" y="203.7" width="2.9" height="12.1" fill="#2a96c6"/>
<rect x="962.4" y="147.4" width="2.9" height="8.4" fill="#3a72a5"/>
<rect x="962.4" y="155.5" width="2.9" height="35.6" fill="#308abe"/>
<rect x="962.4" y="190.8" width="2.9" height="18.3" fill="#2a96c6"/>
<rect x="962.4" y="208.8" width="2.9" height="7" fill="#27a3d2"/>
<rect x="965" y="145.5" width="2.9" height="5.1" fill="#3a72a5"/>
<rect x="965" y="150.4" width="2.9" height="43.1" fill="#308abe"/>
<rect x="965" y="193.2" width="2.9" height="13.9" fill="#2a96c6"/>
<rect x="965" y="206.8" width="2.9" height="9" fill="#2a96c6"/>
<rect x="967.6" y="141.7" width="2.9" height="7" fill="#347fb0"/>
<rect x="967.6" y="148.4" width="2.9" height="44.7" fill="#308abe"/>
<rect x="967.6" y="192.8" width="2.9" height="12.4" fill="#2a96c6"/>
<rect x="967.6" y="204.9" width="2.9" height="10.9" fill="#2a96c6"/>
<rect x="970.2" y="145" width="2.9" height="5.7" fill="#3a72a5"/>
<rect x="970.2" y="150.4" width="2.9" height="46.1" fill="#308abe"/>
<rect x="970.2" y="196.2" width="2.9" height="11.4" fill="#2a96c6"/>
<rect x="970.2" y="207.3" width="2.9" height="8.5" fill="#2a96c6"/>
<rect x="972.8" y="143.9" width="2.9" height="4.1" fill="#347fb0"/>
<rect x="972.8" y="147.7" width="2.9" height="42.3" fill="#347fb0"/>
<rect x="972.8" y="189.7" width="2.9" height="19.8" fill="#2a96c6"/>
<rect x="972.8" y="209.2" width="2.9" height="6.6" fill="#2a96c6"/>
<rect x="975.4" y="149.7" width="2.9" height="3.7" fill="#3a72a5"/>
<rect x="975.4" y="153.1" width="2.9" height="42.8" fill="#308abe"/>
<rect x="975.4" y="195.6" width="2.9" height="12.5" fill="#308abe"/>
<rect x="975.4" y="207.8" width="2.9" height="8" fill="#2a96c6"/>
<rect x="978" y="149.4" width="2.9" height="5.4" fill="#347fb0"/>
<rect x="978" y="154.5" width="2.9" height="41.7" fill="#308abe"/>
<rect x="978" y="195.9" width="2.9" height="8.5" fill="#2a96c6"/>
<rect x="978" y="204.1" width="2.9" height="11.7" fill="#2a96c6"/>
<rect x="980.6" y="149.9" width="2.9" height="9.1" fill="#347fb0"/>
<rect x="980.6" y="158.7" width="2.9" height="37" fill="#308abe"/>
<rect x="980.6" y="195.4" width="2.9" height="10.7" fill="#308abe"/>
<rect x="980.6" y="205.8" width="2.9" height="10" fill="#27a3d2"/>
<rect x="983.2" y="150" width="2.9" height="4.5" fill="#347fb0"/>
<rect x="983.2" y="154.2" width="2.9" height="42" fill="#308abe"/>
<rect x="983.2" y="195.9" width="2.9" height="9.8" fill="#2a96c6"/>
<rect x="983.2" y="205.4" width="2.9" height="10.4" fill="#2a96c6"/>
<rect x="985.8" y="151.7" width="2.9" height="4.9" fill="#3a72a5"/>
<rect x="985.8" y="156.3" width="2.9" height="35.2" fill="#308abe"/>
<rect x="985.8" y="191.1" width="2.9" height="12.9" fill="#2a96c6"/>
<rect x="985.8" y="203.7" width="2.9" height="12.1" fill="#2a96c6"/>
<rect x="988.4" y="149" width="2.9" height="6.5" fill="#347fb0"/>
<rect x="988.4" y="155.2" width="2.9" height="35.2" fill="#308abe"/>
<rect x="988.4" y="190.1" width="2.9" height="18.1" fill="#2a96c6"/>
<rect x="988.4" y="207.9" width="2.9" height="7.9" fill="#2a96c6"/>
<rect x="991" y="149.5" width="2.9" height="7.9" fill="#347fb0"/>
<rect x="991" y="157.1" width="2.9" height="38.4" fill="#347fb0"/>
<rect x="991" y="195.2" width="2.9" height="12.8" fill="#2a96c6"/>
<rect x="991" y="207.7" width="2.9" height="8.1" fill="#347fb0"/>
<rect x="993.6" y="149.3" width="2.9" height="9.1" fill="#347fb0"/>
<rect x="993.6" y="158.1" width="2.9" height="32.4" fill="#347fb0"/>
<rect x="993.6" y="190.2" width="2.9" height="18.3" fill="#2a96c6"/>
<rect x="993.6" y="208.2" width="2.9" height="7.6" fill="#347fb0"/>
<rect x="996.2" y="151.1" width="2.9" height="5.9" fill="#347fb0"/>
<rect x="996.2" y="156.7" width="2.9" height="32.2" fill="#347fb0"/>
<rect x="996.2" y="188.5" width="2.9" height="18.3" fill="#308abe"/>
<rect x="996.2" y="206.6" width="2.9" height="9.2" fill="#347fb0"/>
<rect x="998.8" y="153.3" width="2.9" height="3.3" fill="#347fb0"/>
<rect x="998.8" y="156.3" width="2.9" height="54" fill="#347fb0"/>
<rect x="998.8" y="210" width="2.9" height="5.8" fill="#347fb0"/>
<rect x="1001.4" y="158.4" width="2.9" height="5.8" fill="#347fb0"/>
<rect x="1001.4" y="163.9" width="2.9" height="44.9" fill="#3a72a5"/>
<rect x="1001.4" y="208.6" width="2.9" height="7.2" fill="#347fb0"/>
<rect x="1004" y="158.2" width="2.9" height="6.1" fill="#3a72a5"/>
<rect x="1004" y="164.1" width="2.9" height="47.6" fill="#3a72a5"/>
<rect x="1004" y="211.4" width="2.9" height="4.4" fill="#3a72a5"/>
<rect x="1006.6" y="156.7" width="2.9" height="3.7" fill="#3a72a5"/>
<rect x="1006.6" y="160.1" width="2.9" height="47.3" fill="#3a72a5"/>
<rect x="1006.6" y="207.1" width="2.9" height="8.7" fill="#347fb0"/>
<rect x="1009.2" y="157.9" width="2.9" height="9.1" fill="#3a72a5"/>
<rect x="1009.2" y="166.7" width="2.9" height="41.9" fill="#347fb0"/>
<rect x="1009.2" y="208.3" width="2.9" height="7.5" fill="#347fb0"/>
<rect x="1011.8" y="156.2" width="2.9" height="6.8" fill="#347fb0"/>
<rect x="1011.8" y="162.6" width="2.9" height="47.9" fill="#3a72a5"/>
<rect x="1011.8" y="210.3" width="2.9" height="5.5" fill="#3a72a5"/>
<rect x="1014.4" y="152.7" width="2.9" height="3.5" fill="#3a72a5"/>
<rect x="1014.4" y="155.9" width="2.9" height="54.8" fill="#3a72a5"/>
<rect x="1014.4" y="210.3" width="2.9" height="5.5" fill="#3a72a5"/>
<rect x="1017" y="151.6" width="2.9" height="6.6" fill="#3a72a5"/>
<rect x="1017" y="157.9" width="2.9" height="53.2" fill="#3a72a5"/>
<rect x="1017" y="210.8" width="2.9" height="5" fill="#347fb0"/>
<rect x="1019.6" y="154.7" width="2.9" height="4.3" fill="#347fb0"/>
<rect x="1019.6" y="158.8" width="2.9" height="52.7" fill="#347fb0"/>
<rect x="1019.6" y="211.2" width="2.9" height="4.6" fill="#3a72a5"/>
<rect x="1022.2" y="154.8" width="2.9" height="7.6" fill="#347fb0"/>
<rect x="1022.2" y="162.1" width="2.9" height="46.1" fill="#3a72a5"/>
<rect x="1022.2" y="207.9" width="2.9" height="7.9" fill="#347fb0"/>
<rect x="1024.8" y="154" width="2.9" height="7.8" fill="#347fb0"/>
<rect x="1024.8" y="161.5" width="2.9" height="49.9" fill="#347fb0"/>
<rect x="1024.8" y="211.1" width="2.9" height="4.7" fill="#347fb0"/>
<rect x="1027.4" y="150.7" width="2.9" height="9.3" fill="#347fb0"/>
<rect x="1027.4" y="159.7" width="2.9" height="51" fill="#3a72a5"/>
<rect x="1027.4" y="210.3" width="2.9" height="5.5" fill="#3a72a5"/>
<rect x="1030" y="151.5" width="2.9" height="7.8" fill="#347fb0"/>
<rect x="1030" y="159" width="2.9" height="49.3" fill="#3a72a5"/>
<rect x="1030" y="207.9" width="2.9" height="7.9" fill="#347fb0"/>
<rect x="1032.6" y="156.4" width="2.9" height="8.8" fill="#347fb0"/>
<rect x="1032.6" y="164.9" width="2.9" height="45.4" fill="#3a72a5"/>
<rect x="1032.6" y="210" width="2.9" height="5.8" fill="#3a72a5"/>
<rect x="1035.2" y="176" width="2.9" height="6.4" fill="#347fb0"/>
<rect x="1035.2" y="182.1" width="2.9" height="27" fill="#308abe"/>
<rect x="1037.8" y="176" width="2.9" height="12.3" fill="#347fb0"/>
<rect x="1037.8" y="188" width="2.9" height="12.6" fill="#308abe"/>
<rect x="1037.8" y="200.3" width="2.9" height="5" fill="#2a96c6"/>
<rect x="1040.4" y="176" width="2.9" height="9.3" fill="#347fb0"/>
<rect x="1040.4" y="185" width="2.9" height="24.3" fill="#308abe"/>
<rect x="1043" y="149.3" width="2.9" height="13" fill="#347fb0"/>
<rect x="1043" y="162" width="2.9" height="9.7" fill="#347fb0"/>
<rect x="1043" y="171.3" width="2.9" height="44.5" fill="#2a96c6"/>
<rect x="1045.6" y="157.5" width="2.9" height="8.2" fill="#347fb0"/>
<rect x="1045.6" y="165.4" width="2.9" height="23.9" fill="#308abe"/>
<rect x="1045.6" y="189" width="2.9" height="26.8" fill="#2a96c6"/>
<rect x="1048.2" y="156.7" width="2.9" height="10.8" fill="#3a72a5"/>
<rect x="1048.2" y="167.3" width="2.9" height="13.5" fill="#347fb0"/>
<rect x="1048.2" y="180.5" width="2.9" height="35.3" fill="#308abe"/>
<rect x="1050.8" y="154.1" width="2.9" height="13.7" fill="#347fb0"/>
<rect x="1050.8" y="167.6" width="2.9" height="20.6" fill="#308abe"/>
<rect x="1050.8" y="187.9" width="2.9" height="23.9" fill="#308abe"/>
<rect x="1053.4" y="153.5" width="2.9" height="7.4" fill="#347fb0"/>
<rect x="1053.4" y="160.6" width="2.9" height="22.8" fill="#308abe"/>
<rect x="1053.4" y="183.1" width="2.9" height="23.7" fill="#308abe"/>
<rect x="1056" y="156.8" width="2.9" height="6.8" fill="#347fb0"/>
<rect x="1056" y="163.4" width="2.9" height="24.9" fill="#347fb0"/>
<rect x="1056" y="188" width="2.9" height="18.5" fill="#2a96c6"/>
<rect x="1058.6" y="157.4" width="2.9" height="6.8" fill="#347fb0"/>
<rect x="1058.6" y="163.9" width="2.9" height="27.1" fill="#347fb0"/>
<rect x="1058.6" y="190.7" width="2.9" height="20.1" fill="#308abe"/>
<rect x="1061.2" y="153.1" width="2.9" height="7.2" fill="#3a72a5"/>
<rect x="1061.2" y="160" width="2.9" height="26.8" fill="#308abe"/>
<rect x="1061.2" y="186.5" width="2.9" height="27.8" fill="#308abe"/>
<rect x="1063.8" y="155.4" width="2.9" height="11.4" fill="#347fb0"/>
<rect x="1063.8" y="166.4" width="2.9" height="17" fill="#347fb0"/>
<rect x="1063.8" y="183.1" width="2.9" height="31.2" fill="#308abe"/>
<rect x="1066.4" y="154.3" width="2.9" height="11.5" fill="#347fb0"/>
<rect x="1066.4" y="165.5" width="2.9" height="15" fill="#308abe"/>
<rect x="1066.4" y="180.1" width="2.9" height="34.1" fill="#2a96c6"/>
<rect x="1069" y="149.6" width="2.9" height="8.4" fill="#347fb0"/>
<rect x="1069" y="157.7" width="2.9" height="14.8" fill="#308abe"/>
<rect x="1069" y="172.2" width="2.9" height="42" fill="#2a96c6"/>
<rect x="1071.6" y="152.5" width="2.9" height="11.1" fill="#347fb0"/>
<rect x="1071.6" y="163.3" width="2.9" height="21.7" fill="#308abe"/>
<rect x="1071.6" y="184.7" width="2.9" height="29.5" fill="#2a96c6"/>
<rect x="1074.2" y="147.9" width="2.9" height="9.6" fill="#347fb0"/>
<rect x="1074.2" y="157.2" width="2.9" height="19.2" fill="#347fb0"/>
<rect x="1074.2" y="176.1" width="2.9" height="38" fill="#2a96c6"/>
<rect x="1076.8" y="149.2" width="2.9" height="6.7" fill="#347fb0"/>
<rect x="1076.8" y="155.6" width="2.9" height="18.5" fill="#347fb0"/>
<rect x="1076.8" y="173.8" width="2.9" height="40.3" fill="#2a96c6"/>
<rect x="1079.4" y="150" width="2.9" height="7.7" fill="#3a72a5"/>
<rect x="1079.4" y="157.4" width="2.9" height="21.2" fill="#308abe"/>
<rect x="1079.4" y="178.3" width="2.9" height="35.8" fill="#308abe"/>
<rect x="1082" y="144.9" width="2.9" height="10.2" fill="#347fb0"/>
<rect x="1082" y="154.8" width="2.9" height="20.7" fill="#347fb0"/>
<rect x="1082" y="175.2" width="2.9" height="38.8" fill="#2a96c6"/>
<rect x="1084.6" y="146.8" width="2.9" height="14" fill="#347fb0"/>
<rect x="1084.6" y="160.4" width="2.9" height="11.8" fill="#347fb0"/>
<rect x="1084.6" y="171.9" width="2.9" height="42.1" fill="#2a96c6"/>
<rect x="1087.2" y="146.9" width="2.9" height="13.8" fill="#3a72a5"/>
<rect x="1087.2" y="160.4" width="2.9" height="14.8" fill="#347fb0"/>
<rect x="1087.2" y="174.8" width="2.9" height="39.1" fill="#2a96c6"/>
<rect x="1089.8" y="146.2" width="2.9" height="10.2" fill="#347fb0"/>
<rect x="1089.8" y="156.1" width="2.9" height="19.1" fill="#347fb0"/>
<rect x="1089.8" y="174.9" width="2.9" height="39" fill="#2a96c6"/>
<rect x="1092.4" y="143.8" width="2.9" height="7.1" fill="#347fb0"/>
<rect x="1092.4" y="150.5" width="2.9" height="26.2" fill="#308abe"/>
<rect x="1092.4" y="176.5" width="2.9" height="37.4" fill="#308abe"/>
<rect x="1095" y="144" width="2.9" height="11.5" fill="#347fb0"/>
<rect x="1095" y="155.2" width="2.9" height="13.6" fill="#308abe"/>
<rect x="1095" y="168.5" width="2.9" height="45.4" fill="#2a96c6"/>
<rect x="1097.6" y="146.2" width="2.9" height="10.3" fill="#347fb0"/>
<rect x="1097.6" y="156.2" width="2.9" height="24.1" fill="#308abe"/>
<rect x="1097.6" y="180" width="2.9" height="33.8" fill="#308abe"/>
<rect x="1100.2" y="146.2" width="2.9" height="7.3" fill="#347fb0"/>
<rect x="1100.2" y="153.2" width="2.9" height="24.3" fill="#308abe"/>
<rect x="1100.2" y="177.3" width="2.9" height="36.5" fill="#2a96c6"/>
<rect x="1102.8" y="140.9" width="2.9" height="11" fill="#347fb0"/>
<rect x="1102.8" y="151.5" width="2.9" height="13.5" fill="#308abe"/>
<rect x="1102.8" y="164.7" width="2.9" height="49" fill="#2a96c6"/>
<rect x="1105.4" y="142.7" width="2.9" height="8.9" fill="#347fb0"/>
<rect x="1105.4" y="151.3" width="2.9" height="19" fill="#308abe"/>
<rect x="1105.4" y="169.9" width="2.9" height="43.7" fill="#2a96c6"/>
<rect x="1108" y="140.2" width="2.9" height="9" fill="#347fb0"/>
<rect x="1108" y="148.9" width="2.9" height="24.2" fill="#347fb0"/>
<rect x="1108" y="172.9" width="2.9" height="40.7" fill="#2a96c6"/>
<rect x="1110.6" y="139.2" width="2.9" height="8.7" fill="#347fb0"/>
<rect x="1110.6" y="147.6" width="2.9" height="23.8" fill="#308abe"/>
<rect x="1110.6" y="171.1" width="2.9" height="42.4" fill="#308abe"/>
<rect x="1113.2" y="141.1" width="2.9" height="14.1" fill="#347fb0"/>
<rect x="1113.2" y="154.9" width="2.9" height="12.4" fill="#308abe"/>
<rect x="1113.2" y="167" width="2.9" height="46.4" fill="#2a96c6"/>
<rect x="1115.8" y="137.5" width="2.9" height="8.9" fill="#3a72a5"/>
<rect x="1115.8" y="146.1" width="2.9" height="16.8" fill="#308abe"/>
<rect x="1115.8" y="162.6" width="2.9" height="50.8" fill="#308abe"/>
<rect x="1118.4" y="137.1" width="2.9" height="11.6" fill="#3a72a5"/>
<rect x="1118.4" y="148.3" width="2.9" height="15.6" fill="#347fb0"/>
<rect x="1118.4" y="163.7" width="2.9" height="49.6" fill="#2a96c6"/>
<rect x="1121" y="139.9" width="2.9" height="9.8" fill="#3a72a5"/>
<rect x="1121" y="149.4" width="2.9" height="14.1" fill="#347fb0"/>
<rect x="1121" y="163.2" width="2.9" height="50" fill="#2a96c6"/>
<rect x="1123.6" y="137.3" width="2.9" height="9.4" fill="#3a72a5"/>
<rect x="1123.6" y="146.4" width="2.9" height="13.3" fill="#308abe"/>
<rect x="1123.6" y="159.4" width="2.9" height="53.7" fill="#2a96c6"/>
<rect x="1126.2" y="139.3" width="2.9" height="14.1" fill="#347fb0"/>
<rect x="1126.2" y="153.1" width="2.9" height="14" fill="#347fb0"/>
<rect x="1126.2" y="166.8" width="2.9" height="46.3" fill="#2a96c6"/>
<rect x="1128.8" y="143.7" width="2.9" height="9.5" fill="#347fb0"/>
<rect x="1128.8" y="152.9" width="2.9" height="16" fill="#308abe"/>
<rect x="1128.8" y="168.6" width="2.9" height="44.5" fill="#2a96c6"/>
<rect x="1131.4" y="141.9" width="2.9" height="12.3" fill="#347fb0"/>
<rect x="1131.4" y="153.9" width="2.9" height="20.5" fill="#308abe"/>
<rect x="1131.4" y="174.1" width="2.9" height="38.9" fill="#2a96c6"/>
<rect x="1134" y="140.7" width="2.9" height="13.3" fill="#347fb0"/>
<rect x="1134" y="153.7" width="2.9" height="17.7" fill="#347fb0"/>
<rect x="1134" y="171.1" width="2.9" height="41.8" fill="#2a96c6"/>
<rect x="1136.6" y="138.1" width="2.9" height="7.3" fill="#347fb0"/>
<rect x="1136.6" y="145.1" width="2.9" height="19.1" fill="#308abe"/>
<rect x="1136.6" y="163.8" width="2.9" height="49" fill="#2a96c6"/>
<rect x="1139.2" y="140.9" width="2.9" height="9.7" fill="#347fb0"/>
<rect x="1139.2" y="150.3" width="2.9" height="21.5" fill="#308abe"/>
<rect x="1139.2" y="171.5" width="2.9" height="41.3" fill="#308abe"/>
<rect x="1141.8" y="143.1" width="2.9" height="9.7" fill="#347fb0"/>
<rect x="1141.8" y="152.5" width="2.9" height="13.1" fill="#308abe"/>
<rect x="1141.8" y="165.3" width="2.9" height="47.4" fill="#2a96c6"/>
<rect x="1144.4" y="145.7" width="2.9" height="13.7" fill="#3a72a5"/>
<rect x="1144.4" y="159.2" width="2.9" height="19.6" fill="#308abe"/>
<rect x="1144.4" y="178.4" width="2.9" height="34.2" fill="#308abe"/>
<rect x="1147" y="144.8" width="2.9" height="10.2" fill="#3a72a5"/>
<rect x="1147" y="154.7" width="2.9" height="12.8" fill="#308abe"/>
<rect x="1147" y="167.3" width="2.9" height="45.3" fill="#308abe"/>
<rect x="1149.6" y="144.2" width="2.9" height="12.6" fill="#3a72a5"/>
<rect x="1149.6" y="156.4" width="2.9" height="16.3" fill="#347fb0"/>
<rect x="1149.6" y="172.4" width="2.9" height="40.1" fill="#2a96c6"/>
<rect x="1152.2" y="144.7" width="2.9" height="7.9" fill="#347fb0"/>
<rect x="1152.2" y="152.3" width="2.9" height="20.8" fill="#308abe"/>
<rect x="1152.2" y="172.8" width="2.9" height="39.6" fill="#2a96c6"/>
<rect x="1154.8" y="143.3" width="2.9" height="9.6" fill="#347fb0"/>
<rect x="1154.8" y="152.6" width="2.9" height="15.5" fill="#308abe"/>
<rect x="1154.8" y="167.8" width="2.9" height="44.6" fill="#308abe"/>
<rect x="1157.4" y="141.4" width="2.9" height="12.4" fill="#3a72a5"/>
<rect x="1157.4" y="153.5" width="2.9" height="18.9" fill="#308abe"/>
<rect x="1157.4" y="172.1" width="2.9" height="40.2" fill="#2a96c6"/>
<rect x="1160" y="142.8" width="2.9" height="8.3" fill="#347fb0"/>
<rect x="1160" y="150.9" width="2.9" height="19.1" fill="#347fb0"/>
<rect x="1160" y="169.6" width="2.9" height="42.6" fill="#308abe"/>
<rect x="1162.6" y="142" width="2.9" height="9.7" fill="#347fb0"/>
<rect x="1162.6" y="151.3" width="2.9" height="21" fill="#308abe"/>
<rect x="1162.6" y="172.1" width="2.9" height="39.9" fill="#2a96c6"/>
<rect x="1165.2" y="140.6" width="2.9" height="8.7" fill="#347fb0"/>
<rect x="1165.2" y="149.1" width="2.9" height="25.2" fill="#308abe"/>
<rect x="1165.2" y="173.9" width="2.9" height="37.9" fill="#308abe"/>
<rect x="1167.8" y="145.3" width="2.9" height="14" fill="#347fb0"/>
<rect x="1167.8" y="159" width="2.9" height="11.2" fill="#347fb0"/>
<rect x="1167.8" y="169.8" width="2.9" height="41.8" fill="#308abe"/>
<rect x="1170.4" y="144.8" width="2.9" height="11.4" fill="#347fb0"/>
<rect x="1170.4" y="155.8" width="2.9" height="18.9" fill="#308abe"/>
<rect x="1170.4" y="174.5" width="2.9" height="37" fill="#308abe"/>
<rect x="1173" y="145.4" width="2.9" height="7.5" fill="#347fb0"/>
<rect x="1173" y="152.6" width="2.9" height="22.8" fill="#308abe"/>
<rect x="1173" y="175.1" width="2.9" height="36.1" fill="#2a96c6"/>
<rect x="1175.6" y="147" width="2.9" height="12.4" fill="#347fb0"/>
<rect x="1175.6" y="159.1" width="2.9" height="11.7" fill="#308abe"/>
<rect x="1175.6" y="170.5" width="2.9" height="40.5" fill="#2a96c6"/>
<rect x="1178.2" y="146.3" width="2.9" height="8.1" fill="#347fb0"/>
<rect x="1178.2" y="154.1" width="2.9" height="19" fill="#308abe"/>
<rect x="1178.2" y="172.8" width="2.9" height="38.1" fill="#2a96c6"/>
<rect x="1180.8" y="145.1" width="2.9" height="10.2" fill="#347fb0"/>
<rect x="1180.8" y="155" width="2.9" height="22" fill="#308abe"/>
<rect x="1180.8" y="176.7" width="2.9" height="34" fill="#308abe"/>
<rect x="1183.4" y="144.3" width="2.9" height="8.9" fill="#347fb0"/>
<rect x="1183.4" y="152.9" width="2.9" height="18.9" fill="#308abe"/>
<rect x="1183.4" y="171.5" width="2.9" height="39" fill="#308abe"/>
<rect x="1186" y="143.7" width="2.9" height="9.2" fill="#347fb0"/>
<rect x="1186" y="152.6" width="2.9" height="23.7" fill="#347fb0"/>
<rect x="1186" y="176" width="2.9" height="34.3" fill="#308abe"/>
<rect x="1188.6" y="143.9" width="2.9" height="13.5" fill="#3a72a5"/>
<rect x="1188.6" y="157.1" width="2.9" height="15.4" fill="#308abe"/>
<rect x="1188.6" y="172.3" width="2.9" height="37.8" fill="#2a96c6"/>
<rect x="1191.2" y="142" width="2.9" height="11.6" fill="#3a72a5"/>
<rect x="1191.2" y="153.3" width="2.9" height="22.5" fill="#308abe"/>
<rect x="1191.2" y="175.4" width="2.9" height="34.4" fill="#2a96c6"/>
<rect x="1193.8" y="139.7" width="2.9" height="7.1" fill="#3a72a5"/>
<rect x="1193.8" y="146.5" width="2.9" height="25.7" fill="#347fb0"/>
<rect x="1193.8" y="172" width="2.9" height="37.7" fill="#2a96c6"/>
<rect x="1196.4" y="139.5" width="2.9" height="7.5" fill="#347fb0"/>
<rect x="1196.4" y="146.7" width="2.9" height="24.6" fill="#347fb0"/>
<rect x="1196.4" y="171" width="2.9" height="38.5" fill="#2a96c6"/>
<rect x="1199" y="141.4" width="2.9" height="11.2" fill="#3a72a5"/>
<rect x="1199" y="152.3" width="2.9" height="19.5" fill="#308abe"/>
<rect x="1199" y="171.5" width="2.9" height="37.8" fill="#2a96c6"/>
<rect x="1201.6" y="140.4" width="2.9" height="7.9" fill="#347fb0"/>
<rect x="1201.6" y="148" width="2.9" height="17.3" fill="#347fb0"/>
<rect x="1201.6" y="165" width="2.9" height="44.2" fill="#2a96c6"/>
<rect x="1204.2" y="139.7" width="2.9" height="11.7" fill="#3a72a5"/>
<rect x="1204.2" y="151.1" width="2.9" height="17.6" fill="#308abe"/>
<rect x="1204.2" y="168.4" width="2.9" height="40.8" fill="#2a96c6"/>
<rect x="1206.8" y="135.9" width="2.9" height="7.4" fill="#347fb0"/>
<rect x="1206.8" y="143" width="2.9" height="21.9" fill="#308abe"/>
<rect x="1206.8" y="164.6" width="2.9" height="44.5" fill="#2a96c6"/>
<rect x="1209.4" y="139" width="2.9" height="11.9" fill="#3a72a5"/>
<rect x="1209.4" y="150.6" width="2.9" height="16.7" fill="#308abe"/>
<rect x="1209.4" y="167" width="2.9" height="42.1" fill="#2a96c6"/>
<rect x="1212" y="140.5" width="2.9" height="6.4" fill="#347fb0"/>
<rect x="1212" y="146.5" width="2.9" height="21.9" fill="#308abe"/>
<rect x="1212" y="168.1" width="2.9" height="40.9" fill="#2a96c6"/>
<rect x="1214.6" y="141.2" width="2.9" height="13" fill="#347fb0"/>
<rect x="1214.6" y="153.9" width="2.9" height="14.7" fill="#308abe"/>
<rect x="1214.6" y="168.3" width="2.9" height="40.7" fill="#308abe"/>
<rect x="1217.2" y="140.5" width="2.9" height="9.2" fill="#347fb0"/>
<rect x="1217.2" y="149.4" width="2.9" height="13.8" fill="#308abe"/>
<rect x="1217.2" y="162.8" width="2.9" height="46.1" fill="#308abe"/>
<rect x="1219.8" y="143.5" width="2.9" height="13.8" fill="#347fb0"/>
<rect x="1219.8" y="157" width="2.9" height="18.6" fill="#347fb0"/>
<rect x="1219.8" y="175.2" width="2.9" height="33.7" fill="#2a96c6"/>
<rect x="1222.4" y="142.2" width="2.9" height="12.4" fill="#3a72a5"/>
<rect x="1222.4" y="154.2" width="2.9" height="10.6" fill="#308abe"/>
<rect x="1222.4" y="164.6" width="2.9" height="44.2" fill="#2a96c6"/>
<rect x="1225" y="142.6" width="2.9" height="9" fill="#347fb0"/>
<rect x="1225" y="151.3" width="2.9" height="18" fill="#308abe"/>
<rect x="1225" y="169" width="2.9" height="39.8" fill="#2a96c6"/>
<rect x="1227.6" y="141.9" width="2.9" height="13.6" fill="#347fb0"/>
<rect x="1227.6" y="155.2" width="2.9" height="14.2" fill="#308abe"/>
<rect x="1227.6" y="169.1" width="2.9" height="39.6" fill="#2a96c6"/>
<rect x="1230.2" y="141.6" width="2.9" height="12.9" fill="#347fb0"/>
<rect x="1230.2" y="154.2" width="2.9" height="13.9" fill="#308abe"/>
<rect x="1230.2" y="167.8" width="2.9" height="40.9" fill="#2a96c6"/>
<rect x="1232.8" y="140.1" width="2.9" height="14.2" fill="#347fb0"/>
<rect x="1232.8" y="154" width="2.9" height="12.6" fill="#347fb0"/>
<rect x="1232.8" y="166.3" width="2.9" height="42.4" fill="#2a96c6"/>
<rect x="1235.4" y="140.6" width="2.9" height="7.2" fill="#3a72a5"/>
<rect x="1235.4" y="147.5" width="2.9" height="19.2" fill="#308abe"/>
<rect x="1235.4" y="166.4" width="2.9" height="42.2" fill="#308abe"/>
<rect x="1238" y="140.7" width="2.9" height="11.4" fill="#3a72a5"/>
<rect x="1238" y="151.8" width="2.9" height="16" fill="#308abe"/>
<rect x="1238" y="167.5" width="2.9" height="41" fill="#2a96c6"/>
<rect x="1240.6" y="134.7" width="2.9" height="6.7" fill="#347fb0"/>
<rect x="1240.6" y="141.1" width="2.9" height="17.2" fill="#347fb0"/>
<rect x="1240.6" y="158" width="2.9" height="50.5" fill="#308abe"/>
<rect x="1243.2" y="129.5" width="2.9" height="10.1" fill="#347fb0"/>
<rect x="1243.2" y="139.3" width="2.9" height="13.2" fill="#308abe"/>
<rect x="1243.2" y="152.3" width="2.9" height="56.2" fill="#2a96c6"/>
<rect x="1245.8" y="137.3" width="2.9" height="11.2" fill="#347fb0"/>
<rect x="1245.8" y="148.2" width="2.9" height="19.5" fill="#308abe"/>
<rect x="1245.8" y="167.4" width="2.9" height="41" fill="#2a96c6"/>
<rect x="1248.4" y="147.7" width="2.9" height="7" fill="#3a72a5"/>
<rect x="1248.4" y="154.3" width="2.9" height="23.6" fill="#308abe"/>
<rect x="1248.4" y="177.7" width="2.9" height="30.7" fill="#2a96c6"/>
<rect x="1251" y="151.6" width="2.9" height="7.1" fill="#3a72a5"/>
<rect x="1251" y="158.4" width="2.9" height="25.9" fill="#308abe"/>
<rect x="1251" y="184" width="2.9" height="24.3" fill="#308abe"/>
<polygon points="878.4,172.7 882.6,168.5 893,162.2 911.8,160.2 936.8,160.2 945.2,164.3 953.5,160.2 974.4,156 978.6,168.5 974.4,181 966.1,193.5 957.7,206.1 943.1,208.1 938.9,201.9 945.2,189.4 936.8,193.5 928.5,204 907.6,206.1 888.9,208.1 886.8,201.9 895.1,189.4 882.6,185.2" fill="#45cf30"/>
<polygon points="897.2,172.7 909.7,168.5 918.1,176.8 913.9,189.4 903.5,193.5 895.1,185.2" fill="#2a8820"/>
<polygon points="949.4,189.4 961.9,176.8 970.2,178.9 964,193.5 953.5,201.9 945.2,201.9" fill="#2a8820"/>
<polygon points="918.1,185.2 932.7,183.1 936.8,189.4 924.3,197.7 916,195.6" fill="#309e24"/>
<polygon points="908.7,169.5 914.9,169.5 917,183.1 911.8,182.1" fill="#e6e83a"/>
<polygon points="925.4,173.7 936.8,170.6 937.9,180 926.4,182.1" fill="#e6e83a"/>
<polygon points="953.5,173.7 973.4,168.5 973.4,177.9 955.6,182.1" fill="#e6e83a"/>
<polygon points="903.5,182.1 906,182.1 906,189.4 903.5,189.4" fill="#e6e83a"/>
<polygon points="984.8,164.3 989,162.2 990.1,183.1 985.9,183.1" fill="#45cf30"/>
<polygon points="993.2,172.7 999.4,172.7 997.4,185.2 986.9,199.8 984.8,197.7 992.1,185.2" fill="#45cf30"/>
<polygon points="1055.8,206.1 1062,185.2 1066.2,170.6 1070.4,164.3 1091.3,164.3 1095.4,174.8 1107.9,176.8 1112.1,160.2 1120.5,153.9 1133,153.9 1137.2,168.5 1139.2,181 1130.9,189.4 1120.5,195.6 1112.1,210.2 1107.9,206.1 1110,189.4 1091.3,185.2 1074.6,189.4 1066.2,204 1060,212.3" fill="#45cf30"/>
<polygon points="1104.8,199.7 1109.8,169.7 1129.7,154.8 1134.7,189.7 1124.7,199.7" fill="#45cf30"/>
<polygon points="1149.7,164.7 1169.7,159.7 1174.7,184.7 1159.7,199.7 1149.7,189.7" fill="#45cf30"/>
<polygon points="1207.1,169.7 1217.1,164.7 1219.6,194.7 1209.6,199.7" fill="#45cf30"/>
<polygon points="1224.6,174.7 1234.6,159.7 1237.1,184.7 1229.6,199.7" fill="#45cf30"/>
<ellipse cx="1160.7" cy="177.2" rx="7" ry="11" fill="#2a8820"/>
<polygon points="1112.1,172.7 1126.7,168.5 1128.8,185.2 1116.3,191.5" fill="#2a8820"/>
<polygon points="1067.3,169.5 1070.4,169.5 1069.3,186.2 1066.6,186.2" fill="#e6e83a"/>
<polygon points="1117.3,173.7 1120.9,173.7 1120.5,187.3 1117.3,187.3" fill="#e6e83a"/>
<ellipse cx="1159.1" cy="178.9" rx="10.9" ry="20.9" fill="#45cf30"/>
<ellipse cx="1159.1" cy="180" rx="5.8" ry="12.5" fill="#2a8820"/>
<polygon points="1206,160.2 1220,158.1 1220,201.9 1210.2,199.8 1206,185.2" fill="#45cf30"/>
<polygon points="1254.5,149.8 1269.5,139.8 1299.5,135.8 1307,149.8 1309.5,174.7 1304.5,197.2 1279.5,202.2 1259.5,199.7 1253.5,179.7" fill="#2a96c6"/>
<polygon points="1272,162.2 1297,158.8 1298.5,197.2 1273.5,200.7" fill="#4de034"/>
<ellipse cx="1331.9" cy="169.7" rx="13.5" ry="25" fill="#2a96c6"/>
<ellipse cx="1357.9" cy="163.7" rx="6.5" ry="20" fill="#2a96c6"/>
<ellipse cx="1381.8" cy="167.2" rx="12.5" ry="28.5" fill="#2a96c6"/>
<ellipse cx="1432.8" cy="167.2" rx="7.5" ry="23.5" fill="#2a96c6"/>
<ellipse cx="994.2" cy="87.1" rx="5.2" ry="15.6" fill="#37ae28"/>
<ellipse cx="1000.7" cy="87.1" rx="4.6" ry="15.6" fill="#d0d432"/>
<ellipse cx="1020.3" cy="111.1" rx="4.6" ry="14.6" fill="#347fb0"/>
<ellipse cx="1014.5" cy="111.1" rx="4.6" ry="14.6" fill="#4de034"/>
<ellipse cx="1117.3" cy="98.6" rx="5.2" ry="16.7" fill="#347fb0"/>
<ellipse cx="1126.7" cy="121.6" rx="4.6" ry="16.7" fill="#2a96c6"/>
<ellipse cx="1133.6" cy="121.6" rx="5.8" ry="16.7" fill="#45cf30"/></g>
<line x1="20" y1="115.4" x2="1569" y2="115.4" stroke="#fff" stroke-width="1.4"/>
<line x1="20" y1="167.5" x2="1569" y2="167.5" stroke="#fff" stroke-width="1.4"/>
<text class="km" x="19.7" y="88.2">15 km</text>
<text class="km" x="19.7" y="138.7">10 km</text>
<text class="km" x="19.7" y="190">5 km</text>
</g>
<g clip-path="url(#cMap)">
<g shape-rendering="crispEdges"><polygon points="788.6,912.9 867.1,936.4 930,947.4 1013.3,960 1014.9,969.4 1008.6,980.4 992.9,988.3 977.2,991.4 970.9,997.7 983.4,1000.9 992.9,1007.1 1002.3,1013.4 1008.6,1010.3 1014.9,1007.1 1024.3,1008.7 1033.7,1013.4 1036.9,1021.3 1046.3,1018.1 1058.9,1019.7 1065.2,1026 1074.6,1019.7 1087.2,1010.3 1096.6,1013.4 1102.9,1022.9 1110.7,1029.1 1120,1029.1 1120,1079.4 1110.7,1079.4 1102.9,1070 1096.6,1063.7 1087.2,1060.6 1071.4,1063.7 1055.7,1060.6 1043.2,1060.6 1041.6,1048 1036.9,1033.9 1024.3,1035.4 1008.6,1033.9 1000.7,1040.1 992.9,1052.7 983.4,1048 977.2,1054.3 970.9,1066.9 961.4,1076.3 955.1,1079.4 950.4,1090.4 945.7,1098.3 950.4,1107.7 939.4,1110.9 930,1115.6 920.6,1118.7 911.1,1125 904.9,1132.9 898.6,1140.7 904.9,1151.7 911.1,1164.3 914.3,1175.3 904.9,1180 898.6,1175.3 893.9,1169 889.1,1180 882.9,1191 876.6,1176.9 870.3,1162.7 864,1150.2 854.6,1154.9 835.7,1156.4 848.3,1147 857.7,1140.7 854.6,1129.7 845.1,1117.2 838.9,1110.9 829.4,1101.4 820,1095.1 788.6,1070" fill="#3a72a5"/>
<polygon points="1008.5,989.8 1008.5,992.3 1008.4,994.8 1008.6,997.3 1008.5,999.8 1008.4,1002.3 1002.2,1004.3 1002,1006.7 1001.8,1009.2 995.8,1011 995.5,1013.3 995.2,1015.6 965.1,1013.8 964.9,1015.8 964.5,1017.7 1009.5,1027.7 1009,1030.2 1008.6,1032.7 1000.2,1033.5 999.7,1035.9 999.1,1038.3 965.3,1032.4 964.7,1034.4 963.7,1036.2 1006.3,1050.5 1004.2,1052.6 1002.2,1054.6 993.3,1054.4 991.2,1056.3 989.2,1058.1 982.9,1058.4 980.8,1060.1 978.8,1061.8 987.2,1067.7 985,1069.4 982.8,1071 950.1,1059.1 948.2,1060.4 946.5,1061.7 966.7,1073.8 964.8,1075.3 962.9,1076.9 975,1085.8 972.9,1087.4 970.9,1088.9 963.5,1087.4 961.5,1088.8 959.4,1090.2 921.9,1069.4 920.3,1070.4 918.6,1071.5 920.5,1074.8 918.8,1075.7 917.6,1077.1 929,1087.5 928.3,1089.4 927.6,1091.3 918.9,1087 918.2,1088.8 917.5,1090.6 937.9,1110.1 937,1112.2 936,1114.3 928.1,1110.1 927.2,1112.1 926.2,1114.1 927.3,1118.1 926.3,1120.1 925.8,1122.6 926.3,1126.3 926.3,1129.5 926.3,1132.8 927.4,1137.4 927.2,1140.7 927,1144 922.8,1142.7 922.4,1145.9 922,1149.2 923.7,1155.1 922.1,1157.1 920.5,1159 905.2,1142.2 903.7,1143.8 902.2,1145.5 913.5,1166.3 911.8,1168.1 910,1170 910.7,1175.7 908.8,1177.5 906.9,1179.4 906.3,1183.5 902.9,1182.6 899.4,1181.7 891.8,1172.8 888.6,1171.8 885.4,1170.8 866,1136.3 863.4,1135.4 860.9,1134.4 873.4,1167 866.8,1157.5 860.5,1147.9 858.3,1147.6 852.1,1137.2 846.1,1126.6 832.8,1095.1 831.3,1094.6 829.8,1094.2 835,1114.3 833.2,1113.7 831.4,1113.1 828.4,1108.1 826.8,1107.4 825.1,1106.8 823.8,1107.3 822.2,1106.6 820.6,1105.9 818.3,1101.9 816.8,1101.2 815.3,1100.4 810.8,1082.3 809.5,1081.3 808.3,1080.2 810,1100.2 808.5,1098.8 807.1,1097.4 805.9,1098 804.5,1096.5 803.1,1095 801.6,1091.5 800.3,1089.5 799.1,1087.5 796.9,1059.7 796.1,1058.3 795.3,1056.8 794.5,1066.4 793.6,1068.1 792.6,1069.8 791.7,1068.9 790.7,1070.6 789.7,1072.2 787.4,1091.9 785.8,1096.9 784,1101.9 782.2,1106.5 780.3,1111.4 778.2,1116.3 776.7,1116.6 774.5,1121.3 772.1,1125.9 768.4,1137.9 766.6,1137.9 764.8,1137.9 763,1137.8 761.2,1137.8 759.4,1137.7 759.4,1130.8 757.6,1130.7 755.9,1130.5 755.4,1126.1 753.7,1125.9 752.1,1125.8 746.7,1136.9 744.9,1136.7 743.1,1136.4 742,1134.1 740.1,1134.1 738.2,1134.1 744.1,1114.5 742.4,1114.5 740.8,1114.4 743.5,1104.4 741.9,1104.3 740.4,1104.1 725.3,1131.6 723.4,1131.4 721.4,1131.2 737.4,1097.2 735.9,1097 734.4,1096.7 717.1,1123.8 714.6,1124.5 712,1125.3 707,1129.8 704.3,1130.4 701.6,1131 711.3,1113.1 708.9,1113.6 707.5,1112.6 689.2,1134.7 688.8,1131.8 688.4,1128.9 703.3,1106.5 703.1,1104 702.9,1101.6 688.2,1116.5 687.6,1114.2 687.1,1111.9 698,1097 697.6,1095 697.2,1092.9 707.1,1080.3 706.8,1078.5 706.1,1077.2 708,1073.3 706.8,1072.5 705.7,1071.7 694.1,1080.2 692.8,1079.3 691.5,1078.3 682.9,1083.4 681.6,1082.3 680.2,1081.2 672.7,1085 671.3,1083.8 669.9,1082.5 694.8,1062.2 693.8,1061.2 692.7,1060.2 692.6,1058.5 691.6,1057.5 690.6,1056.4 659.7,1074 658.4,1072.7 657.1,1071.3 651.4,1072.4 650.3,1070.8 649.2,1069.2 669,1056.5 668.1,1055.1 667.2,1053.7 667.4,1051.8 666.6,1050.4 665.7,1048.9 645.8,1056 644.9,1054.3 644,1052.7 642.2,1051.3 641.3,1049.6 640.5,1047.9 669.4,1035.3 668.7,1033.9 668.1,1032.5 646.9,1037.8 646.2,1036.1 645.5,1034.4 632.7,1036.2 632,1034.4 631.5,1032.5 631.8,1030.4 631.7,1028.4 631.5,1026.4 638,1023.1 637.9,1021.2 637.9,1019.3 633.8,1018.1 633.8,1016.2 633.8,1014.3 666.6,1007.8 666.6,1006.3 666.7,1004.7 630.1,1007.1 630.2,1005.1 630.4,1003.2 640.8,1000.5 641,998.7 641.2,996.9 664.9,994.3 665.1,992.8 665.3,991.3 627.9,989.8 627.8,987.9 627.8,985.9 646.2,984.6 646.2,982.9 646.3,981.2 642.2,979.1 642.3,977.4 642.4,975.6 645.4,974.1 645.5,972.4 645.7,970.7 635.2,967.4 635.5,965.6 635.7,963.7 637.1,962 637.3,960.2 637.7,958.4 670.3,963.4 670.5,961.9 670.8,960.5 642.9,952 643.3,950.2 644.2,948.6 648.9,948 650.4,946.7 651.9,945.3 674,950.6 675.3,949.5 676.6,948.4 655.1,939.1 656.7,937.8 658.3,936.6 659.8,935.4 661.4,934.2 663,933.1 671.3,934.9 672.8,933.9 674.5,933 671.7,929.9 673.6,929.1 675.5,928.3 671.7,924.5 673.7,923.7 675.7,923 682.9,925.4 684,924.3 685.2,923.2 684.1,920.8 685.3,919.8 686.5,918.7 685.6,916.3 686.8,915.3 688.1,914.4 712.2,930 713.2,929.3 714.2,928.5 697.3,913.8 698.5,913 699.7,912.2 702.6,912.7 703.8,911.9 705.1,911.1 701,905.6 702.3,904.9 703.7,904.1 711,909.1 712.2,908.5 713.1,907.5 713.1,905.5 713.8,904.2 714.4,902.9 713.6,900 714.3,898.6 715,897.3 731.5,914.7 732.1,913.7 732.8,912.6 716.9,890.5 717.8,889.2 718.6,887.9 731.2,902.7 731.9,901.6 732.7,900.5 729.5,893.4 730.4,892.3 731.2,891.1 727.3,882.3 728.3,881.1 729.3,879.9 743.3,901.1 744.3,900.5 745.3,899.9 735,877.9 736.3,877.3 737.6,876.6 743.5,885.3 744.8,884.7 746,884.2 753.2,897 754.2,896.5 755.3,896 750.7,881.3 751.9,880.8 753.2,880.4 749.3,865.7 750.8,865.2 752.2,864.7 759.7,882.8 761,882.4 762.2,882 758.1,862.7 759.5,862.3 761,862 770,891.6 771.2,891.4 772.3,891.2 768.9,869.4 770.3,869.2 771.7,869 771.8,861 773.3,860.8 774.8,860.6 776.3,860.4 777.8,860.3 779.4,860.2 783.2,882.4 784.5,882.3 785.7,882.3 785.7,863.7 787.2,863.7 788.6,863.7 790.5,876.4 791.9,876.5 793.2,876.5 794.5,866.1 795.9,866 797.4,866 799.1,856.9 800.7,856.9 802.2,856.9 803.5,860.8 805,860.9 806.5,860.9 808.8,853.4 810.4,853.5 812,853.6 813.5,854.7 815.1,854.8 816.7,855 818,856.4 819.6,856.6 821.2,856.8 822.9,856.2 824.5,856.4 826,856.7 827.2,858.5 828.8,858.8 830.4,858.7 825.1,883.1 826.5,882.8 828,882.6 837,859 838.8,858.8 840.6,858.5 843.8,854.4 845.7,854.2 847.5,854 847.9,857.5 849.8,857.4 851.6,857.3 851.9,860.8 853.8,860.7 855.6,860.7 859.4,856.7 861.3,856.7 863.3,856.8 860.5,865.7 862.3,865.8 864.1,865.9 869.7,859.6 871.9,859.2 874.2,858.8 864.7,877.5 866.6,877.3 868.6,877.1 883.7,857.5 886.1,857.3 888.5,857.2 891.1,856.9 893.5,856.8 895.9,856.8 883.2,876.3 885.3,876.4 887.4,876.5 900,864 901.2,865.6 902.4,867.1 890.2,883.5 891.2,884.8 892.2,886.2 907.1,873.2 908.2,874.8 909.3,876.4 916,872.5 917,874.2 918.1,875.9 916.1,880.3 917.1,882 918,883.7 918.9,885.4 918.5,888.2 918,891 900.9,906.7 900.4,909.1 899.8,911.4 921.4,897.6 920.7,900.3 919.9,903.1 892.4,923.8 891.7,925.9 891,927.9 908.2,918.8 910.1,919.4 912,920.1 918.9,918 920.9,918.8 922.9,919.6 925.5,920.2 927.5,921.1 930.8,921.4 934.7,921.4 939.3,921.3 944,921.2 923.7,932.3 927.7,932.4 931.6,932.5 936.8,932.3 940.8,932.7 944.8,933.1 980.8,922 982.6,923.8 984.3,925.7 984.4,928.1 986,930 987.7,932 988.3,934.2 989.9,936.2 991.5,938.2 974.6,944.9 976,946.8 977.4,948.7 1002.7,945.5 1004.2,947.8 1005.7,950 996.6,954.2 997.3,956.5 998,958.8 1005.4,960.2 1006,962.6 1006.7,965 952.9,973.1 953.4,975 953.8,976.8 992.2,976 992.7,978.3 993.1,980.5 1015.1,982.1 1015.5,984.7 1015.9,987.2" fill="#3d6699"/>
<polygon points="941.3,989.8 941.3,991.5 941.3,993.2 986.1,996.5 986,998.7 985.9,1000.9 942,1000.1 941.9,1001.8 941.8,1003.5 937.6,1004.8 937.4,1006.5 937.2,1008.2 958.6,1012.9 958.3,1014.8 958,1016.7 986.6,1023.7 986.2,1025.9 985.8,1028.1 957.9,1024.5 957.5,1026.4 957.1,1028.3 985.8,1037.5 985.2,1039.7 984.1,1041.8 971.5,1040.6 969.8,1042.3 968.1,1044 970.5,1047 968.7,1048.7 966.9,1050.3 965.3,1052 963.4,1053.5 961.6,1055.1 938.8,1048.1 937.1,1049.4 935.5,1050.6 937.4,1053.4 935.7,1054.6 934.1,1055.9 957.9,1069.5 956.1,1071 954.3,1072.4 943.5,1069 941.8,1070.4 940.1,1071.6 943.3,1075.7 941.5,1077 939.7,1078.2 909.1,1061.4 907.7,1062.4 906.2,1063.3 913.2,1069.8 911.6,1070.8 910.5,1072 921.6,1082.1 921,1084 920.3,1085.8 917.5,1085.9 916.8,1087.7 916.1,1089.5 919.7,1094.9 918.9,1096.7 918.1,1098.5 912.8,1096.4 912,1098.1 911.2,1099.9 892.2,1084.1 891.4,1085.6 891,1087.5 913.6,1113.2 913.6,1116.1 913.6,1119 896.7,1103.3 896.6,1105.9 896.4,1108.4 885,1097.7 884.8,1100 884.5,1102.3 906.1,1132.7 904.8,1134.4 903.4,1136 909.4,1147.9 907.8,1149.7 906.3,1151.4 899,1144.8 897.5,1146.4 895.9,1148 899.9,1158.5 898.2,1160.2 896.5,1161.8 896.8,1166.9 893.6,1166.1 890.4,1165.3 883.5,1157.2 880.6,1156.3 877.7,1155.4 877.8,1160.6 874.8,1159.5 871.9,1158.4 867.3,1153.3 861.2,1144.5 855.4,1135.7 850.7,1128.9 845.2,1119.7 840,1110.3 834.2,1098.8 832.6,1098.4 831,1097.9 830,1099.1 828.5,1098.6 826.9,1098.1 823.4,1090.7 822,1090.1 820.6,1089.5 816.6,1078.5 815.4,1078 814.2,1077.4 816.2,1091.7 814.8,1091 813.4,1090.3 811.2,1084.8 809.9,1083.7 808.6,1082.6 805.4,1067.2 804.3,1066.3 803.3,1065.3 803.4,1074.8 802.3,1073.6 801.2,1072.4 799.3,1058.8 798.4,1057.4 797.6,1056.1 796.9,1059.1 796.1,1057.7 795.3,1056.2 794.5,1056.4 793.7,1057.9 792.9,1059.4 792.2,1055.2 791.4,1056.6 790.5,1057.9 788.5,1076.2 787.1,1080.4 785.6,1084.7 785.1,1079.6 783.6,1083.4 782,1087.1 778.1,1106.5 776.1,1110.8 773.9,1115 777.2,1088.2 776,1088.2 774.8,1088.2 772.7,1092.5 771.4,1092.5 770.2,1092.4 762.3,1119 760.7,1119 759.1,1118.8 764.8,1093.4 763.5,1093.2 762.3,1093.1 752.5,1119.1 750.9,1118.9 749.3,1118.7 754.5,1099.6 753.1,1099.6 751.6,1099.6 753,1092.5 751.6,1092.5 750.2,1092.4 744.9,1101.2 743.4,1101.1 741.9,1101 736.7,1108.2 735.1,1108 733.5,1107.8 726.3,1118.2 724.5,1117.9 722.7,1117.6 725.5,1109.3 723.2,1110 720.9,1110.7 729.3,1094.2 727.3,1094.7 725.2,1095.1 709.5,1115.8 707,1116.3 705.6,1115.3 712.1,1103.3 711.7,1101 711.4,1098.7 704.9,1104.5 704.6,1102.1 704.4,1099.7 715.6,1083.8 715.2,1082.1 714.8,1080.4 698.4,1096.6 697.9,1094.6 697.6,1092.5 706.1,1081.3 705.8,1079.5 705.1,1078.2 701.7,1079.4 700.5,1078.5 699.2,1077.6 700.2,1074.7 699,1073.8 697.8,1072.9 694.6,1073.6 693.4,1072.6 692.2,1071.7 689.2,1072.1 688,1071 686.8,1070 686.1,1068.6 684.9,1067.5 683.8,1066.4 704.9,1050.2 704,1049.3 703.1,1048.4 672.2,1066.2 671,1065 669.9,1063.7 673.1,1059.9 672.2,1058.5 671.2,1057.2 676.3,1052.6 675.5,1051.3 674.6,1050 672.7,1049.2 671.9,1047.8 671.1,1046.5 681.3,1040.2 680.6,1038.9 679.9,1037.6 661.9,1043.4 661.2,1041.9 660.4,1040.4 662.6,1037.8 661.9,1036.3 661.2,1034.8 656,1034.8 655.3,1033.2 654.7,1031.7 655.3,1029.7 654.7,1028.1 654.4,1026.5 653.8,1024.9 653.7,1023.2 653.6,1021.5 649.7,1020.6 649.6,1018.8 649.6,1017.1 653.7,1014.6 653.7,1012.9 653.7,1011.3 656,1009.3 656.1,1007.6 656.2,1006 681.4,1001.7 681.5,1000.4 681.6,999 656.1,999.5 656.3,997.8 656.5,996.2 662.3,994.4 662.5,992.9 662.7,991.3 657.9,989.8 657.9,988.2 657.8,986.6 662.2,985.2 662.2,983.6 662.3,982.1 679.9,981.8 680,980.5 680.1,979.1 684.6,978.2 684.7,977 684.8,975.7 681.9,974 682,972.7 682.2,971.3 659,965.9 659.3,964.3 659.5,962.7 663.6,962 663.8,960.4 664.2,958.9 650.6,953.9 651,952.2 651.9,950.7 666.7,953.1 668,951.9 669.3,950.7 667,948.4 668.4,947.2 669.8,946.1 684.2,949.7 685.5,948.7 686.8,947.7 670.6,939.7 672.1,938.7 673.6,937.7 682.9,940.1 684.3,939.2 685.8,938.3 686.6,937.2 688.3,936.5 690,935.8 711.7,945.8 713,945.2 714.4,944.8 696.6,933.2 697.5,932.3 698.6,931.4 714.4,939.8 715.3,939 716.2,938.3 717.1,937.6 717.9,936.9 718.8,936.2 700.7,921.6 701.8,920.8 702.9,920 708.8,922.9 709.9,922.1 711,921.4 709.2,918.2 710.4,917.5 711.5,916.8 710.8,914.4 712,913.7 713.1,913 718.8,916.7 719.9,916.1 720.8,915.2 717.7,910.2 718.3,909 718.9,907.7 722.9,910.3 723.5,909.1 724.2,907.9 727.5,909.9 728.1,908.8 728.8,907.7 724.9,900.7 725.6,899.5 726.4,898.3 728.4,898.8 729.2,897.7 730,896.5 731.5,896.3 732.3,895.2 733.1,894.1 736.4,896.8 737.3,895.8 738.1,894.7 746.5,906.7 747.5,906.1 748.4,905.6 742.3,891.7 743.5,891.1 744.6,890.5 742.7,883.7 744,883.1 745.2,882.5 754.8,900.6 755.8,900.1 756.9,899.7 756,894.6 757.1,894.1 758.3,893.7 758.1,889.8 759.3,889.4 760.5,889 766.7,904.2 767.7,903.9 768.7,903.6 762.8,879.3 764.1,878.9 765.4,878.6 773.5,905.7 774.5,905.5 775.5,905.4 770.4,876.5 771.8,876.3 773.1,876.2 777.2,891.7 778.4,891.6 779.5,891.5 781,894 782.2,893.9 783.3,893.8 785,899.2 786,899.1 787.1,899.1 786.7,878.6 788,878.6 789.3,878.6 790.8,883.8 792,883.8 793.3,883.9 794.5,877.5 795.8,877.5 797.1,877.4 797.9,893.8 799,893.8 800.1,893.8 801.5,890.4 802.6,890.4 803.8,890.4 805.3,886.9 806.5,886.9 807.7,887 810.8,873.7 812.2,873.8 813.5,874 814.9,874.1 816.3,874.3 817.6,874.5 812.8,903.5 813.9,903.7 814.9,903.9 823.5,873.6 824.8,873.9 826.3,873.8 826.6,877.8 828.1,877.5 829.6,877.2 829.7,881.5 831.2,881.3 832.7,881.1 836.2,875.1 837.8,874.9 839.4,874.8 835.8,887.6 837.2,887.5 838.7,887.4 844,878.6 845.6,878.6 847.2,878.6 847.9,880.3 849.5,880.3 851.1,880.4 854.8,876.4 856.4,876.5 858.1,876.7 858.4,879.1 860.3,878.8 862.2,878.5 865.5,876.2 867.5,876 869.5,875.7 872.8,873.8 874.9,873.6 876.9,873.5 880.5,871.5 882.6,871.4 884.8,871.4 882.3,877.4 884.4,877.4 886.5,877.5 878,890.3 878.9,891.5 879.9,892.7 898,874.9 899,876.4 900.1,877.9 880.5,900.8 881.3,902 882.1,903.2 896.1,891.6 897,893.1 897.9,894.5 904.6,890.6 905.5,892.2 906.4,893.7 884.7,914.2 884.3,916.2 884,918.2 888.5,916.3 888.1,918.4 887.6,920.5 904.2,910.1 903.5,912.5 902.8,914.9 887.2,927.3 886.6,929.3 885.9,931.2 900.2,923.7 902,924.3 903.8,925 883.4,938.5 884.9,939 886.3,939.6 885.6,941.3 887,942 889.3,942.2 903.3,936.7 906.9,936.6 910.5,936.5 931.8,928.7 936,928.8 940.2,929 947,928.2 951.3,928.6 955.6,929 959.6,929.7 961.2,931.3 962.7,933 942.3,941.8 943.6,943.3 944.9,944.8 945.5,946.5 946.8,948 948,949.6 973.3,945.2 974.7,947.1 976,949 968.3,952.9 969.5,954.7 970.8,956.6 975.8,957.8 976.4,959.9 977.1,962 975.4,964.4 975.9,966.4 976.5,968.5 971.5,971.2 972,973.2 972.4,975.3 938.9,979.7 939.3,981.4 939.6,983 984.4,983.2 984.8,985.4 985.1,987.6" fill="#3a72a5"/>
<polygon points="921.3,989.8 921.3,991.3 921.3,992.8 909.6,993.8 909.6,995.2 909.5,996.5 907.4,997.7 907.3,999 907.2,1000.3 922.1,1003.2 922,1004.7 921.8,1006.2 932.3,1009.2 932.1,1010.8 931.8,1012.4 921.8,1012.2 921.5,1013.7 921.3,1015.2 904.9,1013.3 904.7,1014.6 904.4,1015.8 914.9,1019.8 914.6,1021.2 913.8,1022.5 902.6,1020.8 901.6,1021.9 900.5,1022.9 922.1,1031.3 920.8,1032.5 919.5,1033.6 918.1,1034.8 916.8,1035.9 915.4,1037 878.3,1023.6 877.3,1024.4 876.4,1025.1 911.1,1041.7 909.7,1042.7 908.4,1043.7 881.7,1032.3 880.7,1033.1 879.8,1033.9 887.9,1039.4 886.8,1040.3 885.7,1041.1 872.5,1034.9 871.6,1035.5 870.7,1036.2 891.8,1050.6 890.5,1051.4 889.3,1052.1 861.8,1035.2 860.9,1035.7 860.3,1036.5 880.8,1052.5 880.3,1053.7 879.9,1054.9 878.1,1055.2 877.7,1056.4 877.2,1057.6 856.7,1042 856.3,1042.9 855.9,1043.8 882,1068.6 881.4,1069.9 880.8,1071.2 878.3,1070.7 877.6,1072 877.3,1073.6 877.6,1075.9 877.6,1077.9 877.6,1080 867.2,1070.5 867.1,1072.4 867,1074.2 860.7,1068.6 860.5,1070.3 860.3,1072 864.1,1078.8 863.2,1079.9 862.3,1080.9 855.4,1073.6 854.5,1074.5 853.7,1075.4 863,1091.4 862,1092.5 861,1093.5 860.6,1095.6 859.6,1096.7 858.5,1097.7 864.1,1110.4 861.9,1109.8 859.8,1109.3 846.4,1087.5 844.7,1086.9 843,1086.4 849.8,1103.1 847.8,1102.4 845.9,1101.7 834,1078.4 830.7,1073.7 827.5,1068.9 824.6,1064.2 821.6,1059.2 818.8,1054.2 821,1062.7 820,1062.4 818.9,1062.1 817.5,1060.6 816.5,1060.2 815.5,1059.9 815.8,1064.2 814.8,1063.8 813.8,1063.4 811.7,1058.9 810.8,1058.5 809.8,1058 809.9,1062.2 808.9,1061.7 808,1061.2 805.7,1053.5 804.8,1052.7 804,1052 803.4,1052.8 802.5,1052 801.7,1051.2 799.8,1040.4 799.2,1039.7 798.5,1039 797.7,1036.2 797.2,1035.3 796.6,1034.4 796.4,1043.8 795.7,1042.7 795.1,1041.5 794.5,1043 793.9,1044.2 793.2,1045.4 792.4,1049.2 791.7,1050.4 790.9,1051.6 790.4,1048.2 789.5,1051.1 788.5,1053.9 787,1060.8 785.9,1063.8 784.6,1066.8 782.8,1072.8 781.4,1075.8 779.9,1078.8 779.1,1077.1 778,1077.2 777,1077.2 780.5,1055.5 779.7,1055.5 778.9,1055.5 777.2,1059 776.4,1059 775.5,1058.9 772.1,1068.1 771.1,1068 770.1,1067.9 770.6,1063.3 769.7,1063.2 768.8,1063.1 770.9,1054.7 770,1054.7 769.2,1054.7 768.8,1053.4 767.9,1053.4 767.1,1053.4 757.6,1072.8 756.4,1072.7 755.3,1072.6 752.1,1076.8 750.9,1076.7 749.7,1076.6 748.1,1077 746.9,1076.8 745.7,1076.6 746,1073.8 744.4,1074.3 742.8,1074.8 740.7,1075.9 739,1076.3 737.3,1076.7 740.3,1070.2 738.7,1070.5 737.7,1069.9 742.6,1061.2 742.4,1059.7 742.2,1058.3 728.9,1073.8 728.7,1072.1 728.5,1070.3 730.9,1065.5 730.6,1064.2 730.3,1062.8 732.9,1058.2 732.6,1056.9 732.4,1055.6 734.3,1052.1 734.2,1050.9 733.6,1050 731.8,1050.4 730.9,1049.8 730.1,1049.2 728.1,1049.6 727.3,1048.9 726.4,1048.3 724.5,1048.5 723.7,1047.8 722.8,1047.1 718.3,1049.3 717.5,1048.6 716.6,1047.8 720.7,1043.4 719.9,1042.7 719.1,1042 711,1046.1 710.2,1045.3 709.3,1044.4 714.1,1040.1 713.3,1039.2 712.5,1038.4 736.4,1023.4 735.9,1022.7 735.5,1022.1 719.4,1029.7 718.9,1028.9 718.4,1028 713.6,1029.3 713.1,1028.4 712.5,1027.4 710.8,1027.1 710.3,1026.1 709.8,1025.2 718.6,1020.5 718.2,1019.6 717.7,1018.8 718.2,1017.6 717.8,1016.7 717.4,1015.8 716.4,1015.2 716,1014.3 715.6,1013.4 702.5,1016.2 702.1,1015.1 701.8,1014.1 707.1,1011.6 707,1010.5 707,1009.5 721.1,1005.4 721.1,1004.5 721,1003.6 692.7,1007.8 692.7,1006.5 692.7,1005.3 706.6,1002.2 706.6,1001.1 706.7,1000.1 720.6,997.6 720.6,996.7 720.7,995.8 700.7,996.4 700.9,995.3 701,994.2 710.9,992.7 711,991.7 711.2,990.8 697.2,989.8 697.1,988.7 697.1,987.5 697,986.4 697,985.3 697,984.1 716.9,984.4 716.9,983.5 717,982.6 716.5,981.6 716.6,980.7 716.7,979.8 706.1,977.4 706.2,976.3 706.4,975.3 700.2,973.2 700.4,972.1 700.6,971 701,969.9 701.3,968.8 701.5,967.8 694.7,964.9 695,963.8 695.6,962.7 720.8,968.7 721.6,968 722.4,967.3 715.7,964.2 716.6,963.5 717.4,962.8 709.6,958.9 710.6,958.1 711.6,957.4 715.2,957.8 716.2,957.1 717.1,956.4 729.3,960.8 730.1,960.2 731,959.7 735.5,961 736.4,960.6 737.3,960.3 729.7,955.3 730.7,954.9 731.8,954.6 744,960.7 744.6,960.2 745.1,959.7 740.9,956.3 741.5,955.8 742.1,955.3 734.7,949.5 735.4,948.9 736.1,948.4 743.7,952.9 744.3,952.4 744.9,952 732.2,941.1 733,940.6 733.8,940 750,952.5 750.6,952.1 751.2,951.7 740.5,941.2 741.3,940.7 742,940.3 753.3,950 753.9,949.7 754.4,949.2 753.8,947.7 754.1,947 754.4,946.3 744.6,934.4 745.1,933.6 745.5,932.8 749.3,936 749.8,935.2 750.2,934.5 746.3,928.2 746.9,927.3 747.4,926.5 746.1,923.2 746.7,922.4 747.3,921.5 753.9,929.6 754.4,928.8 755,928.1 754.8,926.3 755.4,925.6 756,924.8 752.1,916.4 753,915.9 753.8,915.4 755.1,915.8 756,915.3 756.9,914.9 766.3,931.9 767,931.6 767.6,931.3 762.1,917 762.9,916.7 763.8,916.3 764.6,915.8 765.4,915.4 766.3,915.1 766.2,912 767.1,911.6 768,911.3 768.9,910.9 769.8,910.6 770.7,910.3 772.5,913.1 773.4,912.8 774.3,912.6 776,915.7 776.9,915.5 777.8,915.3 778.5,914.5 779.4,914.3 780.3,914.2 783.8,929.2 784.5,929.2 785.2,929.1 782.7,905.6 783.7,905.6 784.6,905.5 786.7,915.4 787.6,915.4 788.4,915.4 789.9,924.5 790.7,924.5 791.5,924.5 792,917.7 792.8,917.8 793.7,917.8 794.5,925 795.3,925 796,925 796.5,931.6 797.2,931.6 797.9,931.6 798.3,935.1 799,935.2 799.6,935.2 800.5,933 801.1,933 801.8,933.1 805.9,909 806.8,909.1 807.8,909.2 805.3,928.4 806,928.5 806.8,928.6 811.8,908.6 812.7,908.8 813.7,908.9 813.7,913 814.6,913.1 815.5,913.1 813.1,924.8 814,924.7 814.9,924.5 815.4,925.5 816.3,925.3 817.2,925.2 822.6,912.6 823.7,912.4 824.8,912.3 827.3,908.7 828.4,908.6 829.6,908.5 826.9,917 828,917 829,917 832.3,912.2 833.4,912.3 834.6,912.3 837.4,909.2 838.5,909.2 839.7,909.3 828.3,931.2 829.3,931.1 830.4,930.9 843,912.2 844.3,912.1 845.7,911.9 850.8,906.4 852.3,906.3 853.8,906.2 850.4,912.8 851.8,912.8 853.2,912.8 855.2,912.1 856.6,912.2 858.1,912.2 859.2,912.7 859.9,913.7 860.6,914.6 857.8,919.5 858.5,920.4 859.2,921.3 863.6,918.2 864.3,919.2 864.9,920.2 869.2,917.7 869.8,918.7 870.5,919.8 874.7,917.6 875.4,918.7 876,919.8 874.8,922.4 874.5,924.2 874.2,926 863.1,936.2 862.8,937.7 862.5,939.2 852.2,947.9 851.8,949.2 851.5,950.4 854.3,949.5 853.8,950.8 853.4,952 846.9,957 847.8,957.3 848.7,957.7 855.6,954.5 856.6,954.9 857.6,955.3 867.4,951 868.6,951.5 870.4,951.7 887.8,944.3 890.9,944.2 894,944.1 892.8,946 895.8,946.1 898.8,946.2 892.6,950.2 895.4,950.4 898.2,950.7 893.2,953.9 894.1,954.9 895,955.8 903.8,954.3 904.7,955.4 905.7,956.5 893.5,961.4 894.3,962.4 895.1,963.5 914.4,959.9 915.3,961.2 916.2,962.4 908.3,965.6 909.1,966.8 909.9,968.1 927.9,966.3 928.4,967.8 928.9,969.3 922.1,971.9 922.5,973.3 922.9,974.8 903.7,978.3 904,979.6 904.3,980.8 926.8,980.6 927.1,982.1 927.4,983.6 908.5,985.8 908.7,987.1 908.9,988.5" fill="#347fb0"/>
<polygon points="857.2,997.8 850.6,1004.9 852.6,1012.7 836,1015 838.8,1023.1 829.5,1025.5 827.2,1031.9 819.8,1034.2 821.4,1048.5 809,1043.4 802.5,1047.9 795,1051.7 786.5,1055.8 777.3,1056.3 770.1,1049.1 762.8,1045.9 751.7,1048.3 750,1037.7 745.3,1032.4 733.8,1031.7 736.7,1021.9 731.5,1016.9 727.9,1011 725.5,1004.5 727.1,997.8 726.3,991.2 727.5,984.5 737,980.6 727.4,969.2 743.8,970.3 742.3,960.7 748.2,956 756.4,954.1 764.7,953.8 772.4,953.6 778.7,948.2 786.5,948.7 794.6,946.5 801.2,951.6 812,946.2 817.4,952.9 818.7,962.6 829.1,962.1 842.6,961.7 832.3,975.6 845.4,977.3 854.7,982.5 845.5,991.3" fill="#308abe"/>
<polygon points="813.6,997.8 810.7,1001.7 808.7,1005.4 809.6,1010 806.4,1013.5 800.5,1015.2 797.6,1018.8 792.9,1021.1 788.5,1024.4 781.4,1020 776.5,1020.6 771.3,1021.6 766.1,1020.8 758.7,1023 755.8,1018.4 748.3,1018.2 748.2,1012.6 746.5,1008.8 740.4,1006.3 745.4,1001.4 735.3,997.8 737.4,993.3 744,990.2 746.2,986.6 744.6,981.1 748.8,977.8 754.4,975.9 762.3,977.7 764.5,971.1 771.6,975.6 776.5,970.8 782.2,971.7 789.1,969.9 793.5,973.7 794.6,979.8 805.3,977 807.8,981.4 809.3,985.7 805.7,991 814.6,993.4" fill="#2a96c6"/>
<polygon points="790.1,995.8 791.1,998.4 791.3,1001.4 788.9,1003.7 783,1003.6 782.3,1007.1 778,1007 774.5,1008.6 770.7,1007.3 767,1007 763.7,1006 761.8,1003.7 758.7,1002.5 754.9,1001 757.2,998 756.6,995.8 753.1,993.1 755.2,990.7 757.7,988.6 761.9,987.9 764.5,986.6 767.3,985 770.4,982.2 774.4,983.7 778.8,982.9 780.7,986.3 784.2,987.1 787.2,988.7 790.6,990.4 788.1,993.6" fill="#27a3d2"/>
<polygon points="794,1009.8 789.2,1109.7 778.9,1108.8 791.5,1009.6" fill="#347fb0" fill-opacity="0.55"/>
<polygon points="786.4,1013.4 752,1107.3 743.5,1103.9 783.9,1012.5" fill="#347fb0" fill-opacity="0.55"/>
<polygon points="777.5,1014.5 713.1,1103.7 703.7,1096.3 774.6,1012.3" fill="#347fb0" fill-opacity="0.55"/>
<polygon points="800.7,1008.8 826.8,1094.9 819.1,1097 798.7,1009.4" fill="#347fb0" fill-opacity="0.55"/>
<polygon points="769.3,1006.1 692.8,1053.6 688.4,1046 767.8,1003.4" fill="#347fb0" fill-opacity="0.55"/>
<polygon points="765.3,996.8 667.6,1017.8 665.6,1006.9 764.7,993.2" fill="#347fb0" fill-opacity="0.55"/>
<polygon points="765.8,981 680.3,952.9 683.3,944.7 766.9,978.1" fill="#347fb0" fill-opacity="0.55"/>
<polygon points="777.5,971.5 727.5,915.6 733.1,910.9 779.5,969.8" fill="#347fb0" fill-opacity="0.55"/>
<polygon points="811.1,1014.8 875,1116.4 863.9,1122.8 807.9,1016.6" fill="#347fb0" fill-opacity="0.55"/>
<polygon points="818.5,1007.9 905,1075.8 898.4,1083.7 816.4,1010.3" fill="#347fb0" fill-opacity="0.55"/>
<polygon points="832.9,1001.2 937.5,1035 933.1,1047.1 831.2,1005.7" fill="#347fb0" fill-opacity="0.55"/>
<polygon points="822.1,978.1 905.7,944.7 908.7,952.9 823.2,981" fill="#347fb0" fill-opacity="0.55"/>
<polygon points="805.8,967.5 839,905.8 845,909.3 808.1,968.8" fill="#347fb0" fill-opacity="0.55"/>
<polygon points="791.9,970 783.9,900.4 789.4,899.9 793.6,969.8" fill="#347fb0" fill-opacity="0.55"/>
<rect x="925.6" y="858" width="5.2" height="2.6" fill="#3a72a5"/>
<rect x="642.2" y="995.8" width="5.2" height="5.2" fill="#3a72a5"/>
<rect x="787.8" y="860.6" width="2.6" height="2.6" fill="#3a72a5"/>
<rect x="686.4" y="1094.6" width="7.8" height="2.6" fill="#3a72a5"/>
<rect x="655.2" y="920.4" width="5.2" height="5.2" fill="#3a72a5"/>
<rect x="717.6" y="1136.2" width="2.6" height="5.2" fill="#3a72a5"/>
<rect x="683.8" y="1138.8" width="2.6" height="2.6" fill="#3d6699"/>
<rect x="764.4" y="855.4" width="5.2" height="2.6" fill="#347fb0"/>
<rect x="665.6" y="1068.6" width="2.6" height="5.2" fill="#3d6699"/>
<rect x="738.4" y="871" width="2.6" height="2.6" fill="#3a72a5"/>
<rect x="668.2" y="930.8" width="2.6" height="2.6" fill="#3d6699"/>
<rect x="795.6" y="1076.4" width="2.6" height="5.2" fill="#347fb0"/>
<rect x="709.8" y="1118" width="2.6" height="5.2" fill="#3a72a5"/>
<rect x="686.4" y="1112.8" width="7.8" height="2.6" fill="#347fb0"/>
<rect x="897" y="860.6" width="2.6" height="2.6" fill="#347fb0"/>
<rect x="930.8" y="876.2" width="2.6" height="2.6" fill="#347fb0"/>
<rect x="652.6" y="1003.6" width="5.2" height="2.6" fill="#3a72a5"/>
<rect x="915.2" y="845" width="5.2" height="2.6" fill="#347fb0"/>
<rect x="832" y="876.2" width="5.2" height="5.2" fill="#3a72a5"/>
<rect x="738.4" y="1138.8" width="2.6" height="5.2" fill="#347fb0"/>
<rect x="806" y="1099.8" width="7.8" height="5.2" fill="#3a72a5"/>
<rect x="647.4" y="925.6" width="2.6" height="2.6" fill="#347fb0"/>
<rect x="1008.8" y="904.8" width="2.6" height="5.2" fill="#3d6699"/>
<rect x="691.6" y="1102.4" width="2.6" height="2.6" fill="#3d6699"/>
<rect x="650" y="1076.4" width="5.2" height="5.2" fill="#3d6699"/>
<rect x="634.4" y="1058.2" width="2.6" height="5.2" fill="#3a72a5"/>
<rect x="694.2" y="904.8" width="2.6" height="2.6" fill="#3d6699"/>
<rect x="644.8" y="1001" width="5.2" height="2.6" fill="#3d6699"/>
<rect x="907.4" y="907.4" width="2.6" height="5.2" fill="#3d6699"/>
<rect x="915.2" y="842.4" width="2.6" height="5.2" fill="#3a72a5"/>
<rect x="847.6" y="808.6" width="2.6" height="2.6" fill="#3d6699"/>
<rect x="811.2" y="850.2" width="2.6" height="2.6" fill="#3d6699"/>
<rect x="751.4" y="1131" width="2.6" height="2.6" fill="#347fb0"/>
<rect x="650" y="972.4" width="7.8" height="2.6" fill="#3d6699"/>
<rect x="689" y="1102.4" width="2.6" height="2.6" fill="#3a72a5"/>
<rect x="712.4" y="1128.4" width="2.6" height="2.6" fill="#3a72a5"/>
<rect x="980.2" y="1047.8" width="2.6" height="2.6" fill="#3d6699"/>
<rect x="959.4" y="912.6" width="2.6" height="2.6" fill="#3d6699"/>
<rect x="793" y="1076.4" width="2.6" height="5.2" fill="#347fb0"/>
<rect x="787.8" y="1094.6" width="2.6" height="5.2" fill="#3d6699"/>
<rect x="806" y="1094.6" width="7.8" height="2.6" fill="#3d6699"/>
<rect x="644.8" y="951.6" width="5.2" height="2.6" fill="#3a72a5"/>
<rect x="819" y="1107.6" width="2.6" height="2.6" fill="#3d6699"/>
<rect x="988" y="977.6" width="2.6" height="2.6" fill="#3d6699"/>
<rect x="707.2" y="1133.6" width="5.2" height="5.2" fill="#3d6699"/>
<rect x="634.4" y="1014" width="2.6" height="2.6" fill="#3a72a5"/>
<rect x="1011.4" y="1034.8" width="2.6" height="2.6" fill="#3d6699"/>
<rect x="920.4" y="868.4" width="2.6" height="2.6" fill="#3d6699"/>
<rect x="936" y="923" width="2.6" height="2.6" fill="#3d6699"/>
<rect x="741" y="816.4" width="7.8" height="5.2" fill="#3a72a5"/>
<rect x="689" y="1105" width="2.6" height="2.6" fill="#3a72a5"/>
<rect x="741" y="881.4" width="2.6" height="2.6" fill="#347fb0"/>
<rect x="629.2" y="962" width="5.2" height="2.6" fill="#3d6699"/>
<rect x="813.8" y="1094.6" width="2.6" height="5.2" fill="#347fb0"/>
<rect x="998.4" y="943.8" width="5.2" height="2.6" fill="#3a72a5"/>
<rect x="681.2" y="904.8" width="5.2" height="2.6" fill="#3d6699"/>
<rect x="629.2" y="1021.8" width="5.2" height="2.6" fill="#3a72a5"/>
<rect x="782.6" y="860.6" width="2.6" height="2.6" fill="#3d6699"/>
<rect x="650" y="1063.4" width="2.6" height="2.6" fill="#3a72a5"/>
<rect x="990.6" y="1008.8" width="2.6" height="2.6" fill="#3a72a5"/>
<rect x="886.6" y="860.6" width="7.8" height="2.6" fill="#3d6699"/>
<rect x="689" y="1125.8" width="5.2" height="5.2" fill="#3a72a5"/>
<rect x="657.8" y="1055.6" width="5.2" height="2.6" fill="#347fb0"/>
<rect x="933.4" y="806" width="2.6" height="2.6" fill="#347fb0"/>
<rect x="655.2" y="933.4" width="2.6" height="2.6" fill="#347fb0"/>
<rect x="639.6" y="899.6" width="2.6" height="2.6" fill="#3d6699"/>
<rect x="715" y="902.2" width="7.8" height="5.2" fill="#3a72a5"/>
<rect x="743.6" y="873.6" width="5.2" height="2.6" fill="#3a72a5"/>
<rect x="668.2" y="925.6" width="5.2" height="5.2" fill="#3a72a5"/>
<rect x="993.2" y="1024.4" width="2.6" height="2.6" fill="#3a72a5"/>
<rect x="839.8" y="852.8" width="2.6" height="2.6" fill="#347fb0"/>
<rect x="694.2" y="1123.2" width="2.6" height="2.6" fill="#3a72a5"/>
<rect x="722.8" y="1151.8" width="7.8" height="2.6" fill="#3a72a5"/>
<rect x="839.8" y="860.6" width="2.6" height="5.2" fill="#3d6699"/>
<rect x="837.2" y="850.2" width="2.6" height="2.6" fill="#3a72a5"/>
<rect x="743.6" y="1136.2" width="2.6" height="5.2" fill="#3a72a5"/>
<rect x="639.6" y="1019.2" width="7.8" height="2.6" fill="#3d6699"/>
<rect x="1014" y="964.6" width="2.6" height="2.6" fill="#3d6699"/>
<rect x="699.4" y="912.6" width="7.8" height="2.6" fill="#3d6699"/>
<rect x="639.6" y="1055.6" width="5.2" height="2.6" fill="#347fb0"/>
<rect x="785.2" y="1099.8" width="7.8" height="2.6" fill="#3d6699"/>
<rect x="985.4" y="1016.6" width="2.6" height="2.6" fill="#347fb0"/>
<rect x="819" y="842.4" width="2.6" height="5.2" fill="#3d6699"/>
<rect x="985.4" y="1021.8" width="2.6" height="2.6" fill="#3a72a5"/>
<rect x="946.4" y="915.2" width="5.2" height="2.6" fill="#3a72a5"/>
<rect x="821.6" y="806" width="2.6" height="2.6" fill="#347fb0"/>
<rect x="995.8" y="980.2" width="2.6" height="2.6" fill="#347fb0"/>
<rect x="795.6" y="1079" width="5.2" height="2.6" fill="#3d6699"/>
<rect x="644.8" y="1055.6" width="2.6" height="5.2" fill="#347fb0"/>
<rect x="644.8" y="1079" width="2.6" height="2.6" fill="#3d6699"/>
<rect x="655.2" y="1053" width="7.8" height="5.2" fill="#3a72a5"/>
<rect x="663" y="910" width="2.6" height="5.2" fill="#3d6699"/>
<rect x="808.6" y="858" width="2.6" height="5.2" fill="#347fb0"/>
<rect x="772.2" y="845" width="7.8" height="2.6" fill="#3d6699"/>
<rect x="639.6" y="1032.2" width="2.6" height="2.6" fill="#347fb0"/>
<rect x="780" y="1115.4" width="5.2" height="2.6" fill="#3a72a5"/>
<rect x="642.2" y="990.6" width="2.6" height="5.2" fill="#347fb0"/>
<rect x="660.4" y="1076.4" width="5.2" height="2.6" fill="#3d6699"/>
<rect x="977.6" y="1055.6" width="5.2" height="5.2" fill="#3a72a5"/>
<rect x="715" y="915.2" width="2.6" height="5.2" fill="#3a72a5"/>
<rect x="1019.2" y="969.8" width="2.6" height="2.6" fill="#3d6699"/>
<rect x="816.4" y="1110.2" width="5.2" height="5.2" fill="#3a72a5"/>
<rect x="785.2" y="860.6" width="2.6" height="5.2" fill="#3a72a5"/>
<rect x="652.6" y="1037.4" width="5.2" height="2.6" fill="#3a72a5"/>
<rect x="639.6" y="1055.6" width="5.2" height="2.6" fill="#3a72a5"/>
<rect x="782.6" y="858" width="5.2" height="2.6" fill="#3a72a5"/>
<rect x="733.2" y="860.6" width="7.8" height="2.6" fill="#3d6699"/>
<rect x="746.2" y="1154.4" width="5.2" height="5.2" fill="#3a72a5"/>
<rect x="652.6" y="1050.4" width="5.2" height="5.2" fill="#3a72a5"/>
<rect x="629.2" y="920.4" width="5.2" height="2.6" fill="#3a72a5"/>
<rect x="787.8" y="1084.2" width="2.6" height="5.2" fill="#3a72a5"/>
<rect x="660.4" y="912.6" width="7.8" height="2.6" fill="#3d6699"/>
<rect x="689" y="923" width="5.2" height="2.6" fill="#3a72a5"/>
<rect x="790.4" y="1102.4" width="5.2" height="5.2" fill="#3d6699"/>
<rect x="980.2" y="975" width="7.8" height="5.2" fill="#3d6699"/>
<rect x="772.2" y="1128.4" width="5.2" height="2.6" fill="#3a72a5"/>
<rect x="702" y="897" width="5.2" height="5.2" fill="#3d6699"/>
<rect x="988" y="1050.4" width="5.2" height="2.6" fill="#347fb0"/>
<rect x="988" y="1016.6" width="2.6" height="2.6" fill="#347fb0"/>
<rect x="748.8" y="868.4" width="2.6" height="2.6" fill="#3a72a5"/>
<rect x="660.4" y="917.8" width="5.2" height="2.6" fill="#3a72a5"/>
<rect x="707.2" y="902.2" width="5.2" height="2.6" fill="#3d6699"/>
<rect x="829.4" y="863.2" width="7.8" height="5.2" fill="#3d6699"/>
<rect x="717.6" y="860.6" width="2.6" height="2.6" fill="#347fb0"/>
<rect x="748.8" y="839.8" width="2.6" height="2.6" fill="#3a72a5"/>
<rect x="1027" y="1029.6" width="5.2" height="2.6" fill="#347fb0"/>
<rect x="637" y="985.4" width="2.6" height="2.6" fill="#3a72a5"/>
<rect x="826.8" y="852.8" width="2.6" height="2.6" fill="#347fb0"/>
<rect x="730.6" y="863.2" width="2.6" height="2.6" fill="#3d6699"/>
<rect x="642.2" y="1008.8" width="5.2" height="5.2" fill="#3d6699"/>
<rect x="889.2" y="858" width="5.2" height="2.6" fill="#3d6699"/>
<rect x="720.2" y="1138.8" width="5.2" height="5.2" fill="#347fb0"/>
<rect x="894.4" y="873.6" width="7.8" height="5.2" fill="#3d6699"/>
<rect x="673.4" y="946.4" width="2.6" height="5.2" fill="#3a72a5"/>
<rect x="982.8" y="1055.6" width="2.6" height="2.6" fill="#3d6699"/>
<rect x="795.6" y="1071.2" width="2.6" height="2.6" fill="#3d6699"/>
<rect x="696.8" y="1102.4" width="2.6" height="2.6" fill="#3a72a5"/>
<rect x="735.8" y="871" width="5.2" height="5.2" fill="#3a72a5"/>
<rect x="743.6" y="852.8" width="5.2" height="2.6" fill="#3a72a5"/>
<rect x="647.4" y="1045.2" width="2.6" height="2.6" fill="#3d6699"/>
<rect x="754" y="1120.6" width="5.2" height="2.6" fill="#347fb0"/>
<rect x="912.6" y="863.2" width="7.8" height="2.6" fill="#3a72a5"/>
<rect x="790.4" y="842.4" width="5.2" height="5.2" fill="#3d6699"/>
<rect x="795.6" y="1092" width="5.2" height="2.6" fill="#347fb0"/>
<rect x="670.8" y="943.8" width="2.6" height="5.2" fill="#3d6699"/>
<rect x="993.2" y="1006.2" width="5.2" height="5.2" fill="#3d6699"/>
<rect x="629.2" y="1047.8" width="5.2" height="5.2" fill="#3d6699"/>
<rect x="676" y="923" width="5.2" height="5.2" fill="#3d6699"/>
<rect x="725.4" y="858" width="2.6" height="5.2" fill="#347fb0"/>
<rect x="988" y="1011.4" width="7.8" height="2.6" fill="#347fb0"/>
<rect x="806" y="837.2" width="2.6" height="5.2" fill="#3d6699"/>
<rect x="785.2" y="1094.6" width="7.8" height="2.6" fill="#3d6699"/>
<rect x="1003.6" y="1034.8" width="2.6" height="5.2" fill="#3d6699"/>
<rect x="925.6" y="876.2" width="2.6" height="2.6" fill="#3d6699"/>
<rect x="728" y="1131" width="5.2" height="2.6" fill="#3a72a5"/>
<rect x="912.6" y="878.8" width="5.2" height="5.2" fill="#3d6699"/>
<rect x="650" y="1073.8" width="2.6" height="2.6" fill="#3d6699"/>
<rect x="803.4" y="1084.2" width="7.8" height="5.2" fill="#3d6699"/>
<rect x="1003.6" y="962" width="7.8" height="2.6" fill="#3a72a5"/>
<rect x="1001" y="998.4" width="5.2" height="2.6" fill="#3d6699"/>
<rect x="624" y="956.8" width="2.6" height="5.2" fill="#3a72a5"/>
<rect x="673.4" y="1092" width="7.8" height="5.2" fill="#3d6699"/>
<rect x="1008.8" y="1006.2" width="5.2" height="2.6" fill="#3a72a5"/>
<rect x="772.2" y="847.6" width="2.6" height="2.6" fill="#3d6699"/>
<rect x="686.4" y="1086.8" width="2.6" height="2.6" fill="#3d6699"/>
<rect x="704.6" y="1112.8" width="2.6" height="2.6" fill="#347fb0"/>
<rect x="982.8" y="1034.8" width="2.6" height="5.2" fill="#3d6699"/>
<rect x="696.8" y="1138.8" width="2.6" height="5.2" fill="#3d6699"/>
<rect x="808.6" y="1097.2" width="2.6" height="5.2" fill="#347fb0"/>
<rect x="652.6" y="956.8" width="2.6" height="2.6" fill="#347fb0"/>
<rect x="793" y="852.8" width="5.2" height="2.6" fill="#3d6699"/>
<rect x="842.4" y="860.6" width="5.2" height="5.2" fill="#3a72a5"/>
<rect x="761.8" y="1120.6" width="7.8" height="2.6" fill="#3d6699"/>
<rect x="910" y="915.2" width="2.6" height="2.6" fill="#3a72a5"/>
<rect x="798.2" y="1102.4" width="7.8" height="2.6" fill="#3a72a5"/>
<rect x="915.2" y="855.4" width="2.6" height="2.6" fill="#347fb0"/>
<rect x="1003.6" y="962" width="5.2" height="5.2" fill="#347fb0"/>
<rect x="928.2" y="891.8" width="2.6" height="2.6" fill="#3a72a5"/>
<rect x="712.4" y="868.4" width="5.2" height="2.6" fill="#3d6699"/>
<rect x="819" y="845" width="5.2" height="5.2" fill="#347fb0"/>
<rect x="769.6" y="1125.8" width="5.2" height="5.2" fill="#3d6699"/>
<rect x="787.8" y="1089.4" width="7.8" height="5.2" fill="#3d6699"/>
<rect x="647.4" y="949" width="7.8" height="2.6" fill="#3d6699"/>
<rect x="990.6" y="990.6" width="2.6" height="5.2" fill="#3a72a5"/>
<rect x="634.4" y="1021.8" width="2.6" height="2.6" fill="#3d6699"/>
<rect x="772.2" y="858" width="7.8" height="2.6" fill="#3a72a5"/>
<rect x="733.2" y="1125.8" width="5.2" height="5.2" fill="#347fb0"/>
<rect x="829.4" y="819" width="2.6" height="2.6" fill="#347fb0"/>
<rect x="657.8" y="891.8" width="5.2" height="5.2" fill="#3d6699"/>
<rect x="652.6" y="920.4" width="7.8" height="2.6" fill="#3a72a5"/>
<rect x="995.8" y="1034.8" width="5.2" height="2.6" fill="#3a72a5"/>
<rect x="980.2" y="917.8" width="7.8" height="2.6" fill="#3a72a5"/>
<rect x="806" y="1084.2" width="5.2" height="2.6" fill="#3d6699"/>
<rect x="751.4" y="858" width="2.6" height="2.6" fill="#3a72a5"/>
<rect x="946.4" y="852.8" width="7.8" height="5.2" fill="#3a72a5"/>
<rect x="759.2" y="1141.4" width="7.8" height="2.6" fill="#3a72a5"/>
<rect x="824.2" y="1105" width="5.2" height="2.6" fill="#347fb0"/>
<rect x="782.6" y="1107.6" width="2.6" height="5.2" fill="#3a72a5"/>
<rect x="738.4" y="863.2" width="5.2" height="5.2" fill="#347fb0"/>
<rect x="660.4" y="1063.4" width="7.8" height="2.6" fill="#3a72a5"/>
<rect x="735.8" y="860.6" width="7.8" height="2.6" fill="#347fb0"/>
<rect x="741" y="881.4" width="2.6" height="5.2" fill="#3a72a5"/>
<rect x="806" y="1089.4" width="5.2" height="2.6" fill="#3d6699"/>
<rect x="993.2" y="993.2" width="2.6" height="2.6" fill="#3d6699"/>
<rect x="946.4" y="865.8" width="2.6" height="2.6" fill="#3a72a5"/>
<rect x="990.6" y="967.2" width="2.6" height="2.6" fill="#3d6699"/>
<rect x="639.6" y="1068.6" width="2.6" height="2.6" fill="#3a72a5"/>
<rect x="933.4" y="889.2" width="2.6" height="2.6" fill="#347fb0"/>
<rect x="634.4" y="995.8" width="2.6" height="2.6" fill="#3d6699"/>
<rect x="982.8" y="928.2" width="2.6" height="2.6" fill="#3a72a5"/>
<rect x="938.6" y="889.2" width="2.6" height="5.2" fill="#347fb0"/>
<rect x="982.8" y="928.2" width="2.6" height="2.6" fill="#347fb0"/>
<rect x="634.4" y="972.4" width="2.6" height="2.6" fill="#3a72a5"/>
<rect x="917.8" y="858" width="2.6" height="2.6" fill="#3d6699"/>
<rect x="865.8" y="855.4" width="2.6" height="2.6" fill="#3d6699"/>
<rect x="811.2" y="1105" width="2.6" height="2.6" fill="#3d6699"/>
<rect x="746.2" y="837.2" width="5.2" height="2.6" fill="#3a72a5"/>
<rect x="803.4" y="1107.6" width="5.2" height="2.6" fill="#3d6699"/>
<rect x="707.2" y="873.6" width="7.8" height="5.2" fill="#3d6699"/>
<rect x="899.6" y="834.6" width="7.8" height="2.6" fill="#3a72a5"/>
<rect x="681.2" y="1089.4" width="2.6" height="5.2" fill="#3a72a5"/>
<rect x="715" y="899.6" width="7.8" height="5.2" fill="#3d6699"/>
<rect x="642.2" y="956.8" width="2.6" height="2.6" fill="#3a72a5"/>
<rect x="967.2" y="923" width="5.2" height="2.6" fill="#3a72a5"/>
<rect x="774.8" y="847.6" width="2.6" height="2.6" fill="#3d6699"/>
<rect x="1008.8" y="1006.2" width="2.6" height="5.2" fill="#347fb0"/>
<rect x="655.2" y="941.2" width="2.6" height="2.6" fill="#347fb0"/>
<rect x="665.6" y="1060.8" width="2.6" height="2.6" fill="#347fb0"/>
<rect x="933.4" y="915.2" width="7.8" height="2.6" fill="#3d6699"/>
<rect x="668.2" y="943.8" width="2.6" height="2.6" fill="#3a72a5"/>
<rect x="707.2" y="910" width="2.6" height="2.6" fill="#3a72a5"/>
<rect x="709.8" y="881.4" width="2.6" height="5.2" fill="#3d6699"/>
<rect x="634.4" y="959.4" width="7.8" height="5.2" fill="#347fb0"/>
<rect x="858" y="860.6" width="5.2" height="2.6" fill="#3d6699"/>
<rect x="790.4" y="816.4" width="2.6" height="2.6" fill="#3d6699"/>
<rect x="642.2" y="1024.4" width="2.6" height="5.2" fill="#347fb0"/>
<rect x="717.6" y="1125.8" width="5.2" height="2.6" fill="#3d6699"/>
<rect x="902.2" y="915.2" width="2.6" height="2.6" fill="#347fb0"/>
<rect x="800.8" y="855.4" width="5.2" height="2.6" fill="#3d6699"/>
<rect x="790.4" y="1099.8" width="2.6" height="5.2" fill="#3d6699"/>
<rect x="670.8" y="904.8" width="2.6" height="5.2" fill="#3a72a5"/>
<rect x="712.4" y="904.8" width="7.8" height="2.6" fill="#3d6699"/>
<rect x="746.2" y="829.4" width="7.8" height="2.6" fill="#3a72a5"/>
<rect x="806" y="1094.6" width="2.6" height="2.6" fill="#3d6699"/>
<rect x="907.4" y="915.2" width="5.2" height="2.6" fill="#3a72a5"/>
<rect x="988" y="941.2" width="2.6" height="2.6" fill="#347fb0"/>
<rect x="738.4" y="858" width="2.6" height="2.6" fill="#3d6699"/>
<rect x="634.4" y="964.6" width="2.6" height="5.2" fill="#3d6699"/>
<rect x="917.8" y="894.4" width="2.6" height="2.6" fill="#3d6699"/>
<rect x="691.6" y="1099.8" width="2.6" height="2.6" fill="#347fb0"/>
<rect x="743.6" y="865.8" width="2.6" height="2.6" fill="#3a72a5"/>
<rect x="806" y="860.6" width="7.8" height="2.6" fill="#3d6699"/>
<rect x="735.8" y="1125.8" width="5.2" height="2.6" fill="#3a72a5"/>
<rect x="1008.8" y="946.4" width="2.6" height="2.6" fill="#347fb0"/>
<rect x="694.2" y="1141.4" width="2.6" height="2.6" fill="#3d6699"/>
<rect x="746.2" y="1133.6" width="5.2" height="5.2" fill="#3a72a5"/>
<rect x="923" y="894.4" width="2.6" height="2.6" fill="#3a72a5"/>
<rect x="686.4" y="1068.6" width="5.2" height="2.6" fill="#3a72a5"/>
<rect x="798.2" y="1084.2" width="2.6" height="2.6" fill="#3a72a5"/>
<rect x="663" y="1071.2" width="5.2" height="5.2" fill="#347fb0"/>
<rect x="761.8" y="1118" width="5.2" height="2.6" fill="#3d6699"/>
<rect x="780" y="1107.6" width="2.6" height="2.6" fill="#3d6699"/>
<rect x="1016.6" y="1032.2" width="2.6" height="2.6" fill="#3a72a5"/>
<rect x="657.8" y="959.4" width="5.2" height="2.6" fill="#3a72a5"/>
<rect x="826.8" y="845" width="2.6" height="5.2" fill="#3a72a5"/>
<rect x="829.4" y="863.2" width="7.8" height="2.6" fill="#3a72a5"/>
<rect x="634.4" y="1029.6" width="2.6" height="5.2" fill="#347fb0"/>
<rect x="678.6" y="907.4" width="2.6" height="5.2" fill="#3a72a5"/>
<rect x="1003.6" y="998.4" width="5.2" height="2.6" fill="#3a72a5"/>
<rect x="855.4" y="858" width="2.6" height="2.6" fill="#3a72a5"/>
<rect x="912.6" y="876.2" width="7.8" height="2.6" fill="#3d6699"/>
<rect x="681.2" y="917.8" width="2.6" height="2.6" fill="#3a72a5"/>
<rect x="629.2" y="1011.4" width="5.2" height="2.6" fill="#3a72a5"/>
<rect x="647.4" y="938.6" width="2.6" height="2.6" fill="#3a72a5"/>
<rect x="657.8" y="1076.4" width="2.6" height="5.2" fill="#347fb0"/>
<rect x="808.6" y="1092" width="5.2" height="5.2" fill="#3a72a5"/>
<rect x="686.4" y="904.8" width="2.6" height="2.6" fill="#3d6699"/>
<rect x="949" y="920.4" width="2.6" height="5.2" fill="#3d6699"/>
<rect x="920.4" y="863.2" width="7.8" height="5.2" fill="#3a72a5"/>
<rect x="691.6" y="1128.4" width="2.6" height="5.2" fill="#347fb0"/>
<rect x="728" y="881.4" width="2.6" height="2.6" fill="#3d6699"/>
<rect x="790.4" y="865.8" width="2.6" height="5.2" fill="#3a72a5"/>
<rect x="891.8" y="852.8" width="7.8" height="5.2" fill="#3d6699"/>
<rect x="972.4" y="1040" width="7.8" height="2.6" fill="#3d6699"/>
<rect x="951.6" y="865.8" width="7.8" height="2.6" fill="#3a72a5"/>
<rect x="691.6" y="1102.4" width="2.6" height="2.6" fill="#3a72a5"/>
<rect x="637" y="1027" width="5.2" height="5.2" fill="#3d6699"/>
<rect x="1011.4" y="972.4" width="2.6" height="2.6" fill="#3d6699"/>
<rect x="998.4" y="949" width="2.6" height="5.2" fill="#347fb0"/>
<rect x="746.2" y="1118" width="2.6" height="2.6" fill="#3d6699"/>
<rect x="689" y="1138.8" width="2.6" height="5.2" fill="#3a72a5"/>
<rect x="676" y="897" width="5.2" height="2.6" fill="#3d6699"/>
<rect x="678.6" y="904.8" width="2.6" height="2.6" fill="#3d6699"/>
<rect x="1027" y="995.8" width="5.2" height="2.6" fill="#3a72a5"/>
<rect x="681.2" y="915.2" width="5.2" height="5.2" fill="#3a72a5"/>
<rect x="741" y="787.8" width="2.6" height="2.6" fill="#347fb0"/>
<rect x="683.8" y="1076.4" width="2.6" height="5.2" fill="#3a72a5"/>
<rect x="790.4" y="865.8" width="5.2" height="2.6" fill="#3a72a5"/>
<rect x="839.8" y="855.4" width="5.2" height="2.6" fill="#3d6699"/>
<rect x="728" y="1120.6" width="5.2" height="5.2" fill="#3a72a5"/>
<rect x="699.4" y="1141.4" width="2.6" height="2.6" fill="#3a72a5"/>
<rect x="696.8" y="1125.8" width="7.8" height="5.2" fill="#3d6699"/>
<rect x="912.6" y="858" width="7.8" height="2.6" fill="#347fb0"/>
<rect x="813.8" y="871" width="5.2" height="2.6" fill="#347fb0"/>
<rect x="650" y="1047.8" width="2.6" height="2.6" fill="#3a72a5"/>
<rect x="691.6" y="1081.6" width="7.8" height="2.6" fill="#3a72a5"/>
<rect x="631.8" y="1037.4" width="5.2" height="2.6" fill="#3a72a5"/>
<rect x="956.8" y="876.2" width="5.2" height="5.2" fill="#3d6699"/>
<rect x="644.8" y="1006.2" width="7.8" height="5.2" fill="#347fb0"/>
<rect x="1011.4" y="990.6" width="2.6" height="5.2" fill="#3a72a5"/>
<rect x="904.8" y="850.2" width="7.8" height="5.2" fill="#3d6699"/>
<rect x="928.2" y="923" width="2.6" height="2.6" fill="#3d6699"/>
<rect x="756.6" y="871" width="5.2" height="5.2" fill="#347fb0"/>
<rect x="889.2" y="832" width="7.8" height="2.6" fill="#3a72a5"/>
<rect x="683.8" y="1076.4" width="2.6" height="5.2" fill="#3a72a5"/>
<rect x="985.4" y="1050.4" width="5.2" height="2.6" fill="#3a72a5"/>
<rect x="774.8" y="1125.8" width="2.6" height="2.6" fill="#347fb0"/>
<rect x="665.6" y="1060.8" width="2.6" height="2.6" fill="#3d6699"/>
<rect x="644.8" y="959.4" width="5.2" height="2.6" fill="#3d6699"/>
<rect x="756.6" y="871" width="7.8" height="5.2" fill="#3d6699"/>
<rect x="798.2" y="1102.4" width="2.6" height="5.2" fill="#3a72a5"/>
<rect x="980.2" y="1050.4" width="2.6" height="2.6" fill="#3d6699"/>
<rect x="756.6" y="1120.6" width="2.6" height="2.6" fill="#3d6699"/>
<rect x="650" y="1055.6" width="7.8" height="2.6" fill="#3d6699"/>
<rect x="699.4" y="1105" width="7.8" height="2.6" fill="#3a72a5"/>
<rect x="855.4" y="865.8" width="5.2" height="2.6" fill="#3d6699"/>
<rect x="660.4" y="951.6" width="2.6" height="5.2" fill="#3a72a5"/>
<rect x="813.8" y="1102.4" width="5.2" height="2.6" fill="#3d6699"/>
<rect x="668.2" y="946.4" width="2.6" height="5.2" fill="#3d6699"/>
<rect x="993.2" y="1055.6" width="5.2" height="5.2" fill="#3a72a5"/>
<rect x="995.8" y="967.2" width="5.2" height="2.6" fill="#3d6699"/>
<rect x="798.2" y="1084.2" width="2.6" height="5.2" fill="#3a72a5"/>
<rect x="650" y="1073.8" width="2.6" height="5.2" fill="#3a72a5"/>
<rect x="717.6" y="891.8" width="5.2" height="2.6" fill="#347fb0"/>
<rect x="748.8" y="1115.4" width="2.6" height="5.2" fill="#3a72a5"/>
<rect x="904.8" y="894.4" width="5.2" height="5.2" fill="#3d6699"/>
<rect x="733.2" y="1125.8" width="5.2" height="2.6" fill="#3a72a5"/>
<rect x="774.8" y="1123.2" width="2.6" height="2.6" fill="#3a72a5"/>
<rect x="741" y="1149.2" width="5.2" height="5.2" fill="#347fb0"/>
<rect x="681.2" y="936" width="5.2" height="2.6" fill="#3a72a5"/>
<rect x="644.8" y="1008.8" width="5.2" height="2.6" fill="#3d6699"/>
<rect x="962" y="930.8" width="5.2" height="2.6" fill="#3d6699"/>
<rect x="730.6" y="855.4" width="7.8" height="2.6" fill="#3d6699"/>
<rect x="871" y="845" width="5.2" height="5.2" fill="#3d6699"/>
<rect x="878.8" y="816.4" width="5.2" height="5.2" fill="#347fb0"/>
<rect x="993.2" y="1050.4" width="5.2" height="2.6" fill="#3d6699"/>
<rect x="670.8" y="910" width="5.2" height="5.2" fill="#3d6699"/>
<rect x="650" y="1016.6" width="5.2" height="2.6" fill="#3d6699"/>
<rect x="842.4" y="860.6" width="5.2" height="2.6" fill="#3d6699"/>
<rect x="990.6" y="962" width="7.8" height="5.2" fill="#347fb0"/>
<rect x="759.2" y="1128.4" width="7.8" height="2.6" fill="#347fb0"/>
<rect x="681.2" y="1154.4" width="5.2" height="2.6" fill="#3a72a5"/>
<rect x="829.4" y="876.2" width="5.2" height="5.2" fill="#3d6699"/>
<rect x="800.8" y="1097.2" width="7.8" height="2.6" fill="#3a72a5"/>
<rect x="774.8" y="1131" width="7.8" height="2.6" fill="#347fb0"/>
<rect x="673.4" y="923" width="2.6" height="5.2" fill="#347fb0"/>
<rect x="725.4" y="1125.8" width="7.8" height="2.6" fill="#3d6699"/>
<rect x="772.2" y="865.8" width="2.6" height="2.6" fill="#3a72a5"/>
<rect x="850.2" y="837.2" width="2.6" height="5.2" fill="#3d6699"/>
<rect x="634.4" y="930.8" width="2.6" height="2.6" fill="#3d6699"/>
<rect x="639.6" y="910" width="2.6" height="5.2" fill="#3a72a5"/>
<rect x="631.8" y="969.8" width="2.6" height="5.2" fill="#3d6699"/>
<rect x="751.4" y="871" width="7.8" height="2.6" fill="#3d6699"/>
<rect x="657.8" y="969.8" width="7.8" height="5.2" fill="#347fb0"/>
<rect x="834.6" y="850.2" width="5.2" height="2.6" fill="#347fb0"/>
<rect x="748.8" y="878.8" width="7.8" height="2.6" fill="#347fb0"/>
<rect x="936" y="925.6" width="2.6" height="2.6" fill="#3a72a5"/>
<rect x="681.2" y="1105" width="7.8" height="5.2" fill="#347fb0"/>
<rect x="1029.6" y="920.4" width="5.2" height="2.6" fill="#3a72a5"/>
<rect x="665.6" y="1042.6" width="2.6" height="5.2" fill="#347fb0"/>
<rect x="808.6" y="1107.6" width="7.8" height="5.2" fill="#347fb0"/>
<rect x="694.2" y="1110.2" width="2.6" height="2.6" fill="#347fb0"/>
<rect x="751.4" y="845" width="2.6" height="2.6" fill="#347fb0"/>
<rect x="712.4" y="912.6" width="2.6" height="2.6" fill="#3d6699"/>
<rect x="847.6" y="858" width="2.6" height="2.6" fill="#3a72a5"/>
<rect x="1011.4" y="998.4" width="5.2" height="2.6" fill="#3a72a5"/>
<rect x="1003.6" y="951.6" width="2.6" height="5.2" fill="#347fb0"/>
<rect x="1008.8" y="967.2" width="2.6" height="5.2" fill="#347fb0"/>
<rect x="652.6" y="1063.4" width="2.6" height="5.2" fill="#347fb0"/>
<rect x="894.4" y="878.8" width="7.8" height="2.6" fill="#3a72a5"/>
<rect x="699.4" y="1128.4" width="2.6" height="2.6" fill="#3a72a5"/>
<rect x="699.4" y="920.4" width="5.2" height="5.2" fill="#3a72a5"/>
<rect x="702" y="886.6" width="7.8" height="5.2" fill="#3a72a5"/>
<rect x="689" y="1115.4" width="5.2" height="2.6" fill="#3a72a5"/>
<rect x="644.8" y="868.4" width="5.2" height="2.6" fill="#3a72a5"/>
<rect x="624" y="899.6" width="5.2" height="2.6" fill="#347fb0"/>
<rect x="803.4" y="1084.2" width="2.6" height="2.6" fill="#347fb0"/>
<rect x="995.8" y="1058.2" width="2.6" height="2.6" fill="#3d6699"/>
<rect x="975" y="899.6" width="2.6" height="2.6" fill="#3d6699"/>
<rect x="678.6" y="1084.2" width="5.2" height="5.2" fill="#3d6699"/>
<rect x="681.2" y="915.2" width="2.6" height="2.6" fill="#3a72a5"/>
<rect x="769.6" y="852.8" width="5.2" height="2.6" fill="#3d6699"/>
<rect x="639.6" y="998.4" width="2.6" height="5.2" fill="#3d6699"/>
<rect x="985.4" y="1058.2" width="5.2" height="5.2" fill="#3d6699"/>
<rect x="811.2" y="1112.8" width="2.6" height="2.6" fill="#3d6699"/>
<rect x="1003.6" y="985.4" width="5.2" height="5.2" fill="#3d6699"/>
<rect x="793" y="1102.4" width="2.6" height="2.6" fill="#3d6699"/>
<rect x="660.4" y="954.2" width="2.6" height="5.2" fill="#3a72a5"/>
<rect x="720.2" y="1128.4" width="2.6" height="2.6" fill="#347fb0"/>
<rect x="795.6" y="845" width="5.2" height="2.6" fill="#3d6699"/>
<rect x="819" y="855.4" width="2.6" height="5.2" fill="#347fb0"/>
<rect x="793" y="1079" width="2.6" height="2.6" fill="#3a72a5"/>
<rect x="790.4" y="1084.2" width="5.2" height="5.2" fill="#3a72a5"/>
<rect x="748.8" y="878.8" width="5.2" height="2.6" fill="#3a72a5"/>
<rect x="816.4" y="1094.6" width="2.6" height="2.6" fill="#347fb0"/>
<rect x="793" y="1084.2" width="2.6" height="2.6" fill="#347fb0"/>
<rect x="631.8" y="967.2" width="2.6" height="5.2" fill="#3d6699"/>
<rect x="642.2" y="998.4" width="2.6" height="2.6" fill="#347fb0"/>
<rect x="631.8" y="1011.4" width="2.6" height="2.6" fill="#3d6699"/>
<rect x="899.6" y="837.2" width="2.6" height="5.2" fill="#3a72a5"/>
<rect x="704.6" y="1089.4" width="2.6" height="5.2" fill="#3a72a5"/>
<rect x="808.6" y="1110.2" width="2.6" height="2.6" fill="#347fb0"/>
<rect x="1001" y="1011.4" width="2.6" height="2.6" fill="#3d6699"/>
<rect x="756.6" y="1144" width="5.2" height="2.6" fill="#3a72a5"/>
<rect x="707.2" y="889.2" width="5.2" height="2.6" fill="#3d6699"/>
<rect x="1011.4" y="969.8" width="7.8" height="5.2" fill="#347fb0"/>
<rect x="795.6" y="1073.8" width="5.2" height="2.6" fill="#347fb0"/>
<rect x="652.6" y="1050.4" width="2.6" height="2.6" fill="#3a72a5"/>
<rect x="915.2" y="904.8" width="5.2" height="2.6" fill="#3d6699"/>
<rect x="647.4" y="1060.8" width="2.6" height="5.2" fill="#347fb0"/>
<rect x="1003.6" y="951.6" width="2.6" height="2.6" fill="#3a72a5"/>
<rect x="660.4" y="1066" width="5.2" height="2.6" fill="#3a72a5"/>
<rect x="764.4" y="1138.8" width="2.6" height="2.6" fill="#3d6699"/>
<rect x="832" y="847.6" width="2.6" height="5.2" fill="#3d6699"/>
<rect x="746.2" y="1141.4" width="2.6" height="5.2" fill="#3d6699"/>
<rect x="800.8" y="829.4" width="2.6" height="5.2" fill="#3a72a5"/>
<rect x="704.6" y="839.8" width="5.2" height="5.2" fill="#347fb0"/>
<rect x="720.2" y="876.2" width="5.2" height="2.6" fill="#3d6699"/>
<rect x="660.4" y="928.2" width="5.2" height="2.6" fill="#347fb0"/>
<rect x="912.6" y="860.6" width="5.2" height="2.6" fill="#3a72a5"/>
<rect x="655.2" y="1019.2" width="5.2" height="5.2" fill="#3a72a5"/>
<rect x="790.4" y="1094.6" width="5.2" height="2.6" fill="#3a72a5"/>
<rect x="665.6" y="946.4" width="5.2" height="2.6" fill="#347fb0"/>
<rect x="637" y="1034.8" width="2.6" height="5.2" fill="#3a72a5"/>
<rect x="720.2" y="876.2" width="7.8" height="2.6" fill="#3d6699"/>
<rect x="982.8" y="930.8" width="2.6" height="2.6" fill="#3d6699"/>
<rect x="686.4" y="1084.2" width="2.6" height="2.6" fill="#3a72a5"/>
<rect x="720.2" y="871" width="2.6" height="2.6" fill="#3d6699"/>
<rect x="637" y="1066" width="2.6" height="2.6" fill="#3a72a5"/>
<rect x="655.2" y="1073.8" width="2.6" height="2.6" fill="#3a72a5"/>
<rect x="634.4" y="917.8" width="5.2" height="2.6" fill="#3a72a5"/>
<rect x="1029.6" y="1003.6" width="2.6" height="5.2" fill="#3d6699"/>
<rect x="725.4" y="871" width="7.8" height="2.6" fill="#3d6699"/>
<rect x="777.4" y="1112.8" width="2.6" height="2.6" fill="#3a72a5"/>
<rect x="798.2" y="1094.6" width="2.6" height="2.6" fill="#3a72a5"/>
<rect x="881.4" y="813.8" width="2.6" height="5.2" fill="#3d6699"/>
<rect x="715" y="910" width="7.8" height="2.6" fill="#3a72a5"/>
<rect x="1006.2" y="1024.4" width="2.6" height="5.2" fill="#3d6699"/>
<rect x="951.6" y="907.4" width="2.6" height="2.6" fill="#3a72a5"/>
<rect x="824.2" y="863.2" width="5.2" height="2.6" fill="#3a72a5"/>
<rect x="764.4" y="1133.6" width="2.6" height="5.2" fill="#3a72a5"/>
<rect x="642.2" y="962" width="7.8" height="2.6" fill="#3a72a5"/>
<rect x="985.4" y="907.4" width="7.8" height="2.6" fill="#347fb0"/>
<rect x="949" y="928.2" width="7.8" height="5.2" fill="#3d6699"/>
<rect x="998.4" y="1001" width="2.6" height="2.6" fill="#3d6699"/>
<rect x="824.2" y="845" width="2.6" height="2.6" fill="#3a72a5"/>
<rect x="647.4" y="1019.2" width="2.6" height="5.2" fill="#3d6699"/>
<rect x="637" y="949" width="2.6" height="5.2" fill="#3a72a5"/>
<rect x="845" y="821.6" width="5.2" height="5.2" fill="#3d6699"/>
<rect x="871" y="837.2" width="2.6" height="5.2" fill="#3d6699"/>
<rect x="743.6" y="816.4" width="5.2" height="2.6" fill="#347fb0"/>
<rect x="819" y="808.6" width="5.2" height="2.6" fill="#3a72a5"/>
<rect x="798.2" y="863.2" width="5.2" height="5.2" fill="#3d6699"/>
<rect x="907.4" y="855.4" width="7.8" height="2.6" fill="#3d6699"/>
<rect x="912.6" y="878.8" width="2.6" height="5.2" fill="#3d6699"/>
<rect x="657.8" y="1073.8" width="2.6" height="2.6" fill="#347fb0"/>
<rect x="988" y="936" width="2.6" height="2.6" fill="#3d6699"/>
<rect x="639.6" y="982.8" width="2.6" height="2.6" fill="#3a72a5"/>
<rect x="629.2" y="995.8" width="2.6" height="5.2" fill="#3d6699"/>
<rect x="793" y="1107.6" width="5.2" height="2.6" fill="#3d6699"/>
<rect x="967.2" y="904.8" width="7.8" height="2.6" fill="#3d6699"/>
<rect x="767" y="1118" width="7.8" height="5.2" fill="#3d6699"/>
<rect x="790.4" y="863.2" width="7.8" height="2.6" fill="#3a72a5"/>
<rect x="772.2" y="832" width="7.8" height="2.6" fill="#3a72a5"/>
<rect x="657.8" y="1073.8" width="2.6" height="2.6" fill="#3d6699"/>
<rect x="681.2" y="1084.2" width="2.6" height="2.6" fill="#3d6699"/>
<rect x="785.2" y="865.8" width="2.6" height="2.6" fill="#3a72a5"/>
<rect x="912.6" y="834.6" width="2.6" height="5.2" fill="#3d6699"/>
<rect x="634.4" y="907.4" width="5.2" height="5.2" fill="#3a72a5"/>
<rect x="995.8" y="959.4" width="5.2" height="2.6" fill="#3a72a5"/>
<rect x="678.6" y="917.8" width="2.6" height="2.6" fill="#3a72a5"/>
<rect x="652.6" y="884" width="7.8" height="5.2" fill="#347fb0"/>
<rect x="803.4" y="860.6" width="2.6" height="2.6" fill="#3a72a5"/>
<rect x="928.2" y="912.6" width="2.6" height="2.6" fill="#3d6699"/>
<rect x="938.6" y="917.8" width="2.6" height="5.2" fill="#3a72a5"/>
<rect x="964.6" y="943.8" width="5.2" height="2.6" fill="#3d6699"/>
<rect x="696.8" y="1107.6" width="5.2" height="5.2" fill="#347fb0"/>
<rect x="647.4" y="949" width="5.2" height="2.6" fill="#347fb0"/>
<rect x="663" y="941.2" width="7.8" height="2.6" fill="#3d6699"/>
<rect x="683.8" y="902.2" width="7.8" height="2.6" fill="#347fb0"/>
<rect x="639.6" y="985.4" width="2.6" height="2.6" fill="#3a72a5"/>
<rect x="1003.6" y="995.8" width="2.6" height="2.6" fill="#3d6699"/>
<rect x="954.2" y="899.6" width="5.2" height="5.2" fill="#3a72a5"/>
<rect x="709.8" y="1123.2" width="2.6" height="2.6" fill="#3d6699"/>
<rect x="686.4" y="1092" width="2.6" height="2.6" fill="#347fb0"/>
<rect x="816.4" y="858" width="2.6" height="2.6" fill="#3a72a5"/>
<rect x="761.8" y="1138.8" width="5.2" height="2.6" fill="#3d6699"/>
<rect x="782.6" y="868.4" width="2.6" height="5.2" fill="#347fb0"/>
<rect x="699.4" y="1107.6" width="2.6" height="5.2" fill="#3a72a5"/>
<rect x="673.4" y="936" width="2.6" height="5.2" fill="#3d6699"/>
<rect x="683.8" y="1079" width="5.2" height="2.6" fill="#3d6699"/>
<rect x="631.8" y="1016.6" width="2.6" height="5.2" fill="#347fb0"/>
<rect x="686.4" y="925.6" width="7.8" height="2.6" fill="#3d6699"/>
<rect x="686.4" y="910" width="2.6" height="2.6" fill="#3a72a5"/>
<rect x="704.6" y="897" width="5.2" height="2.6" fill="#3d6699"/>
<rect x="1001" y="1008.8" width="2.6" height="2.6" fill="#3d6699"/>
<rect x="665.6" y="1086.8" width="2.6" height="2.6" fill="#3d6699"/>
<rect x="639.6" y="1008.8" width="2.6" height="2.6" fill="#3a72a5"/>
<rect x="751.4" y="1149.2" width="2.6" height="5.2" fill="#3a72a5"/>
<rect x="988" y="925.6" width="2.6" height="5.2" fill="#3d6699"/>
<rect x="639.6" y="1006.2" width="5.2" height="2.6" fill="#3d6699"/>
<rect x="676" y="899.6" width="2.6" height="5.2" fill="#3d6699"/>
<rect x="915.2" y="860.6" width="2.6" height="5.2" fill="#347fb0"/>
<rect x="655.2" y="933.4" width="2.6" height="5.2" fill="#3d6699"/>
<rect x="678.6" y="1073.8" width="5.2" height="2.6" fill="#3d6699"/>
<rect x="977.6" y="941.2" width="5.2" height="5.2" fill="#347fb0"/>
<rect x="998.4" y="995.8" width="2.6" height="2.6" fill="#3a72a5"/>
<rect x="1001" y="1011.4" width="5.2" height="2.6" fill="#3d6699"/>
<rect x="777.4" y="839.8" width="5.2" height="2.6" fill="#3a72a5"/>
<rect x="832" y="785.2" width="7.8" height="2.6" fill="#3a72a5"/>
<rect x="850.2" y="845" width="2.6" height="2.6" fill="#3a72a5"/>
<rect x="639.6" y="993.2" width="5.2" height="5.2" fill="#3d6699"/>
<rect x="774.8" y="863.2" width="5.2" height="5.2" fill="#347fb0"/>
<rect x="631.8" y="1034.8" width="5.2" height="2.6" fill="#3d6699"/>
<rect x="650" y="988" width="2.6" height="2.6" fill="#3d6699"/>
<rect x="665.6" y="990.6" width="2.6" height="2.6" fill="#1a1a1a"/>
<rect x="897" y="972.4" width="5.2" height="2.6" fill="#1a1a1a"/>
<rect x="660.4" y="1040" width="2.6" height="2.6" fill="#1a1a1a"/>
<rect x="683.8" y="985.4" width="5.2" height="2.6" fill="#1a1a1a"/>
<rect x="873.6" y="907.4" width="5.2" height="2.6" fill="#1a1a1a"/>
<rect x="644.8" y="1016.6" width="2.6" height="2.6" fill="#1a1a1a"/>
<rect x="894.4" y="982.8" width="2.6" height="2.6" fill="#1a1a1a"/>
<rect x="850.2" y="868.4" width="2.6" height="2.6" fill="#1a1a1a"/>
<rect x="696.8" y="923" width="2.6" height="2.6" fill="#1a1a1a"/>
<rect x="777.4" y="891.8" width="5.2" height="2.6" fill="#1a1a1a"/>
<rect x="860.6" y="956.8" width="2.6" height="2.6" fill="#1a1a1a"/>
<rect x="764.4" y="1099.8" width="2.6" height="2.6" fill="#1a1a1a"/>
<rect x="769.6" y="1076.4" width="2.6" height="2.6" fill="#1a1a1a"/>
<rect x="826.8" y="865.8" width="2.6" height="2.6" fill="#1a1a1a"/>
<rect x="847.6" y="910" width="2.6" height="2.6" fill="#1a1a1a"/>
<rect x="956.8" y="943.8" width="2.6" height="2.6" fill="#1a1a1a"/>
<rect x="751.4" y="1125.8" width="2.6" height="2.6" fill="#1a1a1a"/>
<rect x="790.4" y="1063.4" width="2.6" height="2.6" fill="#1a1a1a"/>
<rect x="743.6" y="1042.6" width="2.6" height="2.6" fill="#1a1a1a"/>
<rect x="748.8" y="884" width="2.6" height="2.6" fill="#1a1a1a"/>
<rect x="847.6" y="930.8" width="2.6" height="2.6" fill="#1a1a1a"/>
<rect x="720.2" y="1079" width="2.6" height="2.6" fill="#1a1a1a"/>
<rect x="988" y="1019.2" width="5.2" height="2.6" fill="#1a1a1a"/>
<rect x="787.8" y="907.4" width="2.6" height="2.6" fill="#1a1a1a"/>
<rect x="881.4" y="936" width="5.2" height="2.6" fill="#1a1a1a"/>
<rect x="894.4" y="959.4" width="2.6" height="2.6" fill="#1a1a1a"/>
<rect x="894.4" y="985.4" width="2.6" height="2.6" fill="#1a1a1a"/>
<rect x="689" y="943.8" width="2.6" height="2.6" fill="#1a1a1a"/>
<rect x="743.6" y="954.2" width="2.6" height="2.6" fill="#1a1a1a"/>
<rect x="785.2" y="925.6" width="2.6" height="2.6" fill="#1a1a1a"/>
<rect x="897" y="1032.2" width="2.6" height="2.6" fill="#1a1a1a"/>
<rect x="702" y="943.8" width="2.6" height="2.6" fill="#1a1a1a"/>
<rect x="720.2" y="894.4" width="5.2" height="2.6" fill="#1a1a1a"/>
<rect x="696.8" y="915.2" width="5.2" height="2.6" fill="#1a1a1a"/>
<rect x="735.8" y="938.6" width="5.2" height="2.6" fill="#1a1a1a"/>
<rect x="884" y="871" width="2.6" height="2.6" fill="#1a1a1a"/>
<rect x="894.4" y="962" width="2.6" height="2.6" fill="#1a1a1a"/>
<rect x="821.6" y="1102.4" width="2.6" height="2.6" fill="#1a1a1a"/>
<rect x="988" y="1008.8" width="5.2" height="2.6" fill="#1a1a1a"/>
<rect x="993.2" y="998.4" width="2.6" height="2.6" fill="#1a1a1a"/>
<rect x="873.6" y="1060.8" width="2.6" height="2.6" fill="#1a1a1a"/>
<rect x="780" y="923" width="5.2" height="2.6" fill="#1a1a1a"/>
<rect x="730.6" y="1032.2" width="5.2" height="2.6" fill="#1a1a1a"/>
<rect x="886.6" y="1050.4" width="2.6" height="2.6" fill="#1a1a1a"/>
<rect x="689" y="972.4" width="2.6" height="2.6" fill="#1a1a1a"/>
<rect x="741" y="1079" width="2.6" height="2.6" fill="#1a1a1a"/>
<rect x="800.8" y="1076.4" width="2.6" height="2.6" fill="#1a1a1a"/>
<rect x="811.2" y="1053" width="2.6" height="2.6" fill="#1a1a1a"/>
<rect x="670.8" y="1003.6" width="5.2" height="2.6" fill="#1a1a1a"/>
<rect x="832" y="899.6" width="5.2" height="2.6" fill="#1a1a1a"/>
<rect x="891.8" y="873.6" width="2.6" height="2.6" fill="#1a1a1a"/>
<rect x="785.2" y="925.6" width="2.6" height="2.6" fill="#1a1a1a"/>
<rect x="808.6" y="1050.4" width="2.6" height="2.6" fill="#1a1a1a"/>
<rect x="746.2" y="1068.6" width="5.2" height="2.6" fill="#1a1a1a"/>
<rect x="730.6" y="1047.8" width="2.6" height="2.6" fill="#1a1a1a"/>
<rect x="746.2" y="889.2" width="2.6" height="2.6" fill="#1a1a1a"/>
<rect x="746.2" y="878.8" width="2.6" height="2.6" fill="#1a1a1a"/>
<rect x="889.2" y="1011.4" width="5.2" height="2.6" fill="#1a1a1a"/>
<rect x="655.2" y="982.8" width="2.6" height="2.6" fill="#1a1a1a"/>
<rect x="894.4" y="1001" width="2.6" height="2.6" fill="#1a1a1a"/>
<rect x="741" y="1097.2" width="2.6" height="2.6" fill="#1a1a1a"/>
<rect x="860.6" y="923" width="2.6" height="2.6" fill="#1a1a1a"/>
<rect x="743.6" y="1073.8" width="2.6" height="2.6" fill="#1a1a1a"/>
<rect x="806" y="1055.6" width="2.6" height="2.6" fill="#1a1a1a"/>
<rect x="769.6" y="881.4" width="2.6" height="2.6" fill="#1a1a1a"/>
<rect x="696.8" y="936" width="5.2" height="2.6" fill="#1a1a1a"/>
<rect x="652.6" y="1001" width="5.2" height="2.6" fill="#1a1a1a"/>
<rect x="829.4" y="915.2" width="2.6" height="2.6" fill="#1a1a1a"/>
<rect x="751.4" y="951.6" width="2.6" height="2.6" fill="#1a1a1a"/>
<rect x="725.4" y="884" width="5.2" height="2.6" fill="#1a1a1a"/>
<rect x="787.8" y="886.6" width="2.6" height="2.6" fill="#1a1a1a"/>
<rect x="967.2" y="982.8" width="2.6" height="2.6" fill="#1a1a1a"/>
<rect x="808.6" y="894.4" width="2.6" height="2.6" fill="#1a1a1a"/>
<rect x="780" y="933.4" width="5.2" height="2.6" fill="#1a1a1a"/>
<rect x="847.6" y="917.8" width="2.6" height="2.6" fill="#1a1a1a"/>
<rect x="780" y="881.4" width="2.6" height="2.6" fill="#1a1a1a"/>
<rect x="725.4" y="912.6" width="2.6" height="2.6" fill="#1a1a1a"/>
<rect x="837.2" y="897" width="2.6" height="2.6" fill="#1a1a1a"/>
<rect x="972.4" y="959.4" width="2.6" height="2.6" fill="#1a1a1a"/>
<rect x="878.8" y="923" width="5.2" height="2.6" fill="#1a1a1a"/>
<rect x="733.2" y="930.8" width="5.2" height="2.6" fill="#1a1a1a"/>
<rect x="720.2" y="1112.8" width="2.6" height="2.6" fill="#1a1a1a"/>
<rect x="920.4" y="982.8" width="5.2" height="2.6" fill="#1a1a1a"/>
<rect x="715" y="967.2" width="5.2" height="2.6" fill="#1a1a1a"/>
<rect x="858" y="930.8" width="5.2" height="2.6" fill="#1a1a1a"/>
<rect x="920.4" y="956.8" width="2.6" height="2.6" fill="#1a1a1a"/>
<rect x="777.4" y="891.8" width="2.6" height="2.6" fill="#1a1a1a"/>
<rect x="761.8" y="910" width="2.6" height="2.6" fill="#1a1a1a"/>
<rect x="819" y="868.4" width="2.6" height="2.6" fill="#1a1a1a"/>
<rect x="904.8" y="982.8" width="2.6" height="2.6" fill="#1a1a1a"/>
<rect x="806" y="1042.6" width="2.6" height="2.6" fill="#1a1a1a"/>
<rect x="816.4" y="884" width="2.6" height="2.6" fill="#1a1a1a"/>
<rect x="676" y="930.8" width="2.6" height="2.6" fill="#1a1a1a"/>
<rect x="702" y="1079" width="2.6" height="2.6" fill="#1a1a1a"/>
<rect x="717.6" y="907.4" width="2.6" height="2.6" fill="#1a1a1a"/>
<rect x="858" y="1066" width="5.2" height="2.6" fill="#1a1a1a"/>
<rect x="663" y="990.6" width="5.2" height="2.6" fill="#1a1a1a"/>
<rect x="902.2" y="923" width="2.6" height="2.6" fill="#1a1a1a"/>
<rect x="782.6" y="881.4" width="2.6" height="2.6" fill="#1a1a1a"/>
<rect x="785.2" y="928.2" width="2.6" height="2.6" fill="#1a1a1a"/>
<rect x="858" y="951.6" width="2.6" height="2.6" fill="#1a1a1a"/>
<rect x="795.6" y="1037.4" width="5.2" height="2.6" fill="#1a1a1a"/>
<rect x="816.4" y="1066" width="2.6" height="2.6" fill="#1a1a1a"/>
<rect x="738.4" y="928.2" width="2.6" height="2.6" fill="#1a1a1a"/>
<rect x="720.2" y="1016.6" width="2.6" height="2.6" fill="#1a1a1a"/>
<rect x="728" y="933.4" width="5.2" height="2.6" fill="#1a1a1a"/>
<rect x="795.6" y="1042.6" width="5.2" height="2.6" fill="#1a1a1a"/>
<rect x="904.8" y="1029.6" width="2.6" height="2.6" fill="#1a1a1a"/>
<rect x="819" y="925.6" width="5.2" height="2.6" fill="#1a1a1a"/>
<rect x="759.2" y="1110.2" width="2.6" height="2.6" fill="#1a1a1a"/>
<rect x="782.6" y="1058.2" width="2.6" height="2.6" fill="#1a1a1a"/>
<rect x="759.2" y="920.4" width="5.2" height="2.6" fill="#1a1a1a"/>
<rect x="751.4" y="946.4" width="2.6" height="2.6" fill="#1a1a1a"/>
<rect x="793" y="886.6" width="2.6" height="2.6" fill="#1a1a1a"/>
<rect x="657.8" y="954.2" width="2.6" height="2.6" fill="#1a1a1a"/>
<rect x="847.6" y="891.8" width="2.6" height="2.6" fill="#1a1a1a"/>
<rect x="899.6" y="980.2" width="5.2" height="2.6" fill="#1a1a1a"/>
<rect x="761.8" y="904.8" width="2.6" height="2.6" fill="#1a1a1a"/>
<rect x="694.2" y="928.2" width="5.2" height="2.6" fill="#1a1a1a"/>
<rect x="785.2" y="1068.6" width="2.6" height="2.6" fill="#1a1a1a"/>
<rect x="936" y="936" width="5.2" height="2.6" fill="#1a1a1a"/>
<rect x="894.4" y="868.4" width="2.6" height="2.6" fill="#1a1a1a"/>
<rect x="904.8" y="946.4" width="2.6" height="2.6" fill="#1a1a1a"/>
<rect x="847.6" y="956.8" width="2.6" height="2.6" fill="#1a1a1a"/>
<rect x="712.4" y="975" width="2.6" height="2.6" fill="#1a1a1a"/>
<rect x="878.8" y="938.6" width="5.2" height="2.6" fill="#1a1a1a"/>
<rect x="819" y="912.6" width="5.2" height="2.6" fill="#1a1a1a"/>
<rect x="694.2" y="1102.4" width="2.6" height="2.6" fill="#1a1a1a"/>
<rect x="930.8" y="1014" width="5.2" height="2.6" fill="#1a1a1a"/>
<rect x="730.6" y="1053" width="5.2" height="2.6" fill="#1a1a1a"/>
<rect x="704.6" y="933.4" width="2.6" height="2.6" fill="#1a1a1a"/>
<rect x="696.8" y="967.2" width="2.6" height="2.6" fill="#1a1a1a"/>
<rect x="782.6" y="1071.2" width="2.6" height="2.6" fill="#1a1a1a"/>
<rect x="858" y="907.4" width="2.6" height="2.6" fill="#1a1a1a"/>
<rect x="977.6" y="977.6" width="5.2" height="2.6" fill="#1a1a1a"/>
<rect x="824.2" y="1071.2" width="5.2" height="2.6" fill="#1a1a1a"/>
<rect x="975" y="1037.4" width="2.6" height="2.6" fill="#1a1a1a"/>
<rect x="845" y="899.6" width="2.6" height="2.6" fill="#1a1a1a"/>
<rect x="725.4" y="1089.4" width="2.6" height="2.6" fill="#1a1a1a"/>
<rect x="722.8" y="972.4" width="2.6" height="2.6" fill="#1a1a1a"/>
<rect x="977.6" y="930.8" width="2.6" height="2.6" fill="#1a1a1a"/>
<rect x="730.6" y="967.2" width="2.6" height="2.6" fill="#1a1a1a"/>
<rect x="907.4" y="1001" width="5.2" height="2.6" fill="#1a1a1a"/>
<rect x="689" y="1071.2" width="5.2" height="2.6" fill="#1a1a1a"/>
<rect x="850.2" y="907.4" width="5.2" height="2.6" fill="#1a1a1a"/>
<rect x="792.2" y="987.5" width="4.6" height="4.6" fill="#1a1a1a"/>
<polygon points="977.2,991.4 986.6,988.3 992.9,996.1 983.4,1000.9" fill="#1a1a1a"/>
<polygon points="958.3,986.7 961.4,986.7 961.4,991.4 958.3,991.4" fill="#1a1a1a"/>
<polygon points="961.4,1054.3 970.9,1048 977.2,1054.3 970.9,1066.9 966.1,1062.1" fill="#1a1a1a"/>
<polygon points="936.3,1066.9 945.7,1063.7 955.1,1070 952,1079.4 939.4,1076.3" fill="#1a1a1a"/>
<polygon points="908,1126.6 917.4,1123.4 930,1129.7 923.7,1142.3 914.3,1148.6 904.9,1139.2" fill="#1a1a1a"/>
<polygon points="867.1,1070 886,1054.3 908,1044.9 930,1033.9 948.9,999.3 970.9,997.7 1002.3,1013.4 1000.7,1026 983.4,1035.4 961.4,1048 948.9,1070 945.7,1098.3 923.7,1117.2 901.7,1129.7 886,1132.9 867.1,1129.7 873.4,1110.9 886,1088.9" fill="#347fb0"/>
<polygon points="835.7,1156.4 848.3,1147 857.7,1140.7 860.9,1147 854.6,1154.9" fill="#2a96c6"/>
<polygon points="933.1,1140.7 939.4,1129.7 945.7,1123.4 955.1,1121.9 964.6,1125 974,1118.7 983.4,1112.4 988.9,1113.2 986.6,1123.4 980.3,1132.9 970.9,1140.7 961.4,1145.4 955.1,1140.7 945.7,1137.6 939.4,1142.3" fill="#347fb0"/>
<polygon points="942.6,1132.9 950.4,1126.6 961.4,1129.7 970.9,1126.6 980.3,1118.7 983.4,1123.4 974,1134.4 961.4,1140.7 952,1136" fill="#2a96c6"/>
<polygon points="930,1117.2 939.4,1110.9 945.7,1112.4 948.9,1117.2 944.1,1123.4 936.3,1125 931.6,1121.9" fill="#308abe"/>
<polygon points="939.4,1120.3 942.6,1115.6 945.7,1117.2 941,1123.4" fill="#45cf30"/>
<polygon points="945.7,1129.7 950.4,1126.6 952,1131.3 947.3,1134.4" fill="#45cf30"/>
<polygon points="966.1,1134.4 975.6,1126.6 977.2,1129.7 969.3,1139.2" fill="#45cf30"/>
<polygon points="848.3,1260 856.1,1242.9 867.1,1230.3 879.7,1224 887.6,1227.2 889.1,1236.6 879.7,1246 871.9,1255.4 867.1,1260" fill="#347fb0"/>
<polygon points="914.3,1186.3 923.7,1183.2 933.1,1191 928.4,1195.7 917.4,1198.9 912.7,1198.9" fill="#347fb0"/>
<polygon points="930,1019.7 939.4,1011.9 952,1000.9 961.4,996.1 970.9,999.3 978.7,1007.1 983.4,1013.4 992.9,1007.1 1002.3,1011.9 1000.7,1022.9 992.9,1029.1 983.4,1033.9 977.2,1040.1 961.4,1044.9 952,1048 942.6,1041.7 936.3,1035.4" fill="#2a96c6"/>
<polygon points="939.4,1035.4 942.6,1024.4 950.4,1019.7 952,1008.7 958.3,1000.9 964.6,999.3 970.9,1005.6 975.6,1011.9 977.2,1018.1 970.9,1026 966.1,1033.9 959.9,1038.6 955.1,1044.9 948.9,1041.7 942.6,1040.1" fill="#45cf30"/>
<polygon points="945.7,1033.9 952,1022.9 958.3,1011.9 964.6,1005.6 969.3,1010.3 966.1,1019.7 961.4,1029.1 955.1,1038.6 948.9,1038.6" fill="#2a8820"/>
<polygon points="955.1,1035.4 956.7,1024.4 959.9,1018.1 964.6,1015 970.9,1015 972.4,1021.3 967.7,1024.4 964.6,1032.3 961.4,1038.6 956.7,1038.6" fill="#e6e83a"/>
<polygon points="981.9,1027.6 985,1018.1 991.3,1011.9 999.2,1013.4 999.2,1019.7 992.9,1026 986.6,1030.7 983.4,1035.4" fill="#45cf30"/>
<polygon points="991.3,1016.6 997.6,1016.6 996,1022.9 991.3,1022.9" fill="#2a8820"/>
<polygon points="917.4,1044.9 923.7,1038.6 928.4,1037 930,1041.7 923.7,1044.9 919,1047.2" fill="#45cf30"/>
<polygon points="889.1,1079.4 898.6,1066.9 908,1057.4 917.4,1057.4 930,1066.9 939.4,1076.3 945.7,1085.7 944.1,1095.1 936.3,1099.9 923.7,1096.7 914.3,1101.4 904.9,1098.3 895.4,1088.9" fill="#2a96c6"/>
<polygon points="897,1082.6 900.1,1073.1 898.6,1065.3 904.9,1062.1 911.1,1063.7 914.3,1057.4 920.6,1062.1 928.4,1068.4 933.1,1074.7 939.4,1081 944.1,1088.9 939.4,1093.6 936.3,1098.3 928.4,1095.1 920.6,1095.1 917.4,1088.9 911.1,1084.1 903.3,1084.1" fill="#45cf30"/>
<polygon points="904.9,1070 914.3,1066.9 920.6,1070 917.4,1077.9 909.6,1081 904.9,1077.9" fill="#2a8820"/>
<polygon points="920.6,1084.1 930,1082.6 933.1,1088.9 926.9,1092 920.6,1090.4" fill="#2a8820"/>
<polygon points="908,1075.5 915.9,1075.5 915.9,1081 908.8,1081" fill="#e6e83a"/>
<polygon points="925.3,1077.1 931.6,1077.1 931.6,1080.2 925.3,1080.2" fill="#e6e83a"/>
<polygon points="931.6,1084.1 937.9,1084.1 936.3,1095.1 931.6,1095.1" fill="#e6e83a"/>
<polygon points="878.1,1057.4 887.6,1054.3 892.3,1059 886,1062.1 881.3,1060.6" fill="#45cf30"/>
<polygon points="879.7,1114 889.1,1103 901.7,1096.7 917.4,1096.7 923.7,1104.6 920.6,1114 911.1,1121.9 901.7,1128.2 895.4,1132.9 889.1,1131.3 889.1,1121.9" fill="#2a96c6"/>
<polygon points="886,1112.4 893.9,1104.6 904.9,1099.9 919,1098.3 919,1107.7 914.3,1115.6 904.9,1120.3 898.6,1128.2 890.7,1131.3 890.7,1123.4 889.1,1118.7" fill="#45cf30"/>
<polygon points="890.7,1110.9 901.7,1104.6 911.1,1101.4 914.3,1107.7 908,1114 898.6,1118.7 892.3,1117.2" fill="#2a8820"/>
<polygon points="911.1,1103.8 916.6,1103.8 915.9,1107.7 911.1,1107.7" fill="#e6e83a"/>
<polygon points="1038.5,1029.5 1049,1019.1 1065.7,1021.2 1078.3,1017 1090.9,1008.6 1099.2,1012.8 1107.6,1029.5 1116,1029.5 1124.4,1021.2 1141.2,1029.5 1157.9,1033.7 1170.5,1031.6 1187.2,1027.4 1193.5,1008.6 1195.6,987.6 1191.4,975.1 1195.6,962.5 1204,958.3 1218.7,964.6 1220.8,987.6 1216.6,1002.3 1218.7,1021.2 1237.5,1025.3 1245.9,1017 1250.1,1029.5 1248,1046.3 1241.7,1063.1 1233.3,1079.8 1212.4,1081.9 1191.4,1077.7 1170.5,1071.4 1149.5,1067.2 1128.6,1079.8 1111.8,1077.7 1103.4,1067.2 1086.7,1061 1065.7,1063.1 1049,1061 1040.6,1050.5" fill="#347fb0"/>
<polygon points="1049,1042.1 1065.7,1031.6 1086.7,1027.4 1107.6,1037.9 1128.6,1046.3 1149.5,1042.1 1170.5,1042.1 1191.4,1035.8 1204,1021.2 1201.9,979.2 1212.4,975.1 1214.5,1021.2 1233.3,1033.7 1241.7,1042.1 1233.3,1071.4 1212.4,1075.6 1191.4,1067.2 1170.5,1061 1149.5,1058.9 1128.6,1075.6 1111.8,1071.4 1099.2,1058.9 1078.3,1056.8 1057.3,1056.8" fill="#2a96c6"/>
<rect x="1120.2" y="1039" width="8.4" height="10.5" fill="#1a1a1a"/>
<polygon points="1055.2,1056.8 1059.4,1046.3 1069.9,1040 1078.3,1042.1 1086.7,1033.7 1095.1,1037.9 1099.2,1046.3 1090.9,1048.4 1084.6,1052.6 1074.1,1056.8 1061.5,1058.9" fill="#45cf30"/>
<polygon points="1063.6,1045.2 1072,1042.1 1074.1,1054.7 1065.7,1054.7" fill="#2a8820"/>
<polygon points="1067.4,1045.2 1072,1045.2 1072,1052.6 1067.4,1052.6" fill="#e6e83a"/>
<polygon points="1105.5,1050.5 1113.9,1048.4 1124.4,1056.8 1134.9,1058.9 1132.8,1071.4 1120.2,1075.6 1107.6,1069.3" fill="#45cf30"/>
<polygon points="1111.8,1056.8 1122.3,1056.8 1128.6,1063.1 1124.4,1071.4 1113.9,1069.3" fill="#2a8820"/>
<rect x="1117.7" y="1062" width="2.9" height="4.2" fill="#e6e83a"/>
<rect x="1209.3" y="1017" width="4.2" height="21" fill="#4de034"/>
<polygon points="1227.1,1048.4 1235.4,1046.3 1233.3,1061 1227.1,1063.1" fill="#37ae28"/>
<rect x="1239.6" y="1033.7" width="3.1" height="8.4" fill="#4de034"/>
<rect x="1206.1" y="1065.2" width="6.3" height="8.4" fill="#45cf30"/>
<rect x="1153.7" y="1044.2" width="3.4" height="5.2" fill="#4de034"/>
<polygon points="1169.4,929 1176.8,926.9 1177.8,939.4 1170.5,940.5" fill="#347fb0"/>
<polygon points="1124.4,1117.5 1137,1109.2 1149.5,1107.1 1162.1,1113.3 1174.7,1109.2 1181,1117.5 1187.2,1134.3 1189.3,1146.9 1181,1155.3 1170.5,1163.6 1157.9,1163.6 1145.3,1155.3 1134.9,1146.9 1128.6,1134.3" fill="#347fb0"/>
<polygon points="1132.8,1121.7 1141.2,1113.3 1162.1,1117.5 1174.7,1117.5 1181,1134.3 1178.9,1151.1 1162.1,1159.4 1147.4,1151.1 1137,1138.5" fill="#2a96c6"/>
<polygon points="1134.9,1121.7 1141.2,1113.3 1144.3,1117.5 1141.2,1130.1 1135.9,1130.1" fill="#45cf30"/>
<polygon points="1151.6,1140.6 1157.9,1125.9 1168.4,1128 1164.2,1146.9 1157.9,1155.3 1149.5,1151.1" fill="#45cf30"/>
<polygon points="1155.8,1140.6 1160,1130.1 1165.2,1132.2 1162.1,1146.9 1155.8,1151.1" fill="#2a8820"/>
<polygon points="1208.2,1130.1 1214.5,1121.7 1221.8,1123.8 1220.8,1134.3 1212.4,1138.5" fill="#347fb0"/>
<polygon points="1208.2,1157.9 1214.5,1145.3 1222.9,1149.5 1227.1,1162.1 1222.9,1170.5 1231.2,1168.4 1237.5,1176.8 1235.4,1183.1 1248,1185.2 1250.1,1191.4 1239.6,1194.6 1231.2,1197.7 1225,1191.4 1220.8,1181 1214.5,1178.9 1208.2,1170.5" fill="#308abe"/>
<polygon points="1210.3,1157.9 1219.7,1157.9 1218.7,1163.2 1211.3,1162.1" fill="#45cf30"/>
<polygon points="1208.2,1128.6 1212.4,1122.3 1219.7,1122.3 1221.8,1130.7 1218.7,1137 1210.3,1137" fill="#347fb0"/>
<polygon points="1235.4,1141.2 1243.8,1141.2 1242.8,1149.5 1247,1151.6 1243.8,1156.9 1237.5,1153.7" fill="#347fb0"/>
<polygon points="1253.2,1201.9 1260.6,1192.5 1271.1,1194.6 1281.5,1201.9 1294.1,1204 1311.9,1212.4 1310.9,1220.8 1304.6,1222.9 1303.5,1239.6 1299.3,1248 1297.2,1256.4 1289.9,1258.5 1279.4,1252.2 1269,1248 1262.7,1241.7 1264.8,1231.3 1262.7,1218.7 1258.5,1210.3" fill="#308abe"/>
<polygon points="1269,1212.4 1285.7,1208.2 1302.5,1216.6 1298.3,1245.9 1285.7,1252.2 1269,1241.7" fill="#2a96c6"/>
<polygon points="1270,1222.9 1277.3,1210.3 1283.6,1212.4 1284.7,1222.9 1296.2,1227.1 1294.1,1237.5 1289.9,1254.3 1281.5,1252.2 1285.7,1235.4 1277.3,1231.3" fill="#4de034"/>
<polygon points="1229.1,1218.7 1235.4,1217.6 1239.6,1222.9 1235.4,1228.1 1230.2,1226" fill="#347fb0"/>
<polygon points="1318.2,1220.8 1325.5,1218.7 1331.8,1221.8 1333.9,1214.5 1342.3,1213.4 1349.6,1218.7 1348.6,1233.3 1344.4,1237.5 1336,1235.4 1327.6,1231.3 1320.3,1228.1" fill="#308abe"/>
<polygon points="1352.8,1212.4 1359.1,1210.3 1365.3,1214.5 1362.2,1221.8 1354.9,1220.8" fill="#308abe"/>
<ellipse cx="1379" cy="1249.1" rx="9.6" ry="6.9" fill="#308abe"/>
<ellipse cx="1387.3" cy="1265.2" rx="6.7" ry="6.7" fill="#308abe"/>
<ellipse cx="1432" cy="1272.3" rx="8" ry="6.3" fill="#308abe"/>
<polygon points="1169.4,1329.7 1176.8,1320.3 1183,1319.3 1193.5,1327.6 1193.5,1333.9 1185.1,1339.2 1174.7,1338.1" fill="#308abe"/>
<polygon points="1170.5,1327.6 1176.8,1325.5 1174.7,1333.9 1171.5,1333.9" fill="#4de034"/>
<polygon points="1189.3,975.6 1197.7,958.9 1208.2,965.1 1219.7,965.1 1218.7,977.7 1222.9,990.3 1214.5,994.5 1216.6,1009.1 1220.8,1023.8 1239.6,1021.7 1243.8,1016.5 1250.1,1025.9 1250.1,1040.6 1243.8,1053.1 1239.6,1069.9 1229.1,1084.6 1218.7,1084.6 1201.9,1078.3 1187.2,1076.2 1176.8,1067.8 1160,1065.7 1160,1032.2 1172.6,1030.1 1183,1034.3 1189.3,1019.6 1197.7,1011.2 1192.5,1002.9 1195.6,994.5 1204,992.4 1205,979.8" fill="#347fb0"/>
<polygon points="1153.7,1035.3 1172.6,1034.3 1191.4,1032.2 1201.9,1023.8 1214.5,1028 1222.9,1036.4 1243.8,1032.2 1243.8,1049 1231.2,1074.1 1210.3,1074.1 1193.5,1067.8 1172.6,1071 1153.7,1068.9" fill="#2a96c6"/>
<polygon points="1208.6,1016.5 1212.8,1016.5 1214.1,1038.5 1209.4,1038.5" fill="#4de034"/>
<rect x="1238.6" y="1032.2" width="3.1" height="8.4" fill="#4de034"/>
<polygon points="1227.1,1049 1234.4,1045.8 1232.3,1059.4 1226,1063.6" fill="#37ae28"/>
<rect x="1207.1" y="1065.7" width="5.2" height="8.4" fill="#4de034"/>
<polygon points="1079.4,1333.1 1092.8,1316.3 1102.9,1323 1096.2,1336.4 1082.8,1339.8" fill="#308abe"/>
<polygon points="1112.9,1306.2 1123,1302.9 1133.1,1309.6 1126.3,1316.3 1116.3,1316.3" fill="#308abe"/>
<ellipse cx="1133.7" cy="1303.9" rx="4.4" ry="4.4" fill="#3ebf2c"/>
<polygon points="1169.9,1329.7 1183.3,1318 1195.1,1329.7 1190,1341.4 1180,1343.1" fill="#308abe"/>
<ellipse cx="1174" cy="1330.4" rx="3" ry="3.7" fill="#45cf30"/>
<rect x="995.6" y="1340.4" width="8.4" height="9.4" fill="#d8de36"/>
<rect x="989.6" y="1344.8" width="7.4" height="8.4" fill="#37ae28"/>
<ellipse cx="1014" cy="1339.1" rx="3.7" ry="4" fill="#3ebf2c"/>
<rect x="1016.7" y="1332.4" width="7.4" height="5.4" fill="#347fb0"/>
<polygon points="846.4,1259.3 854.8,1242.5 874.9,1229.1 885,1225.8 888.3,1235.8 878.3,1249.2 864.9,1262.7 858.1,1266" fill="#347fb0"/>
<polygon points="858.1,1252.6 868.2,1239.2 881.6,1232.5 881.6,1242.5 868.2,1255.9" fill="#2a96c6"/>
<polygon points="744.2,1175.5 752.5,1158.7 757.6,1162.1 754.2,1178.8 747.5,1185.5" fill="#347fb0"/>
<polygon points="724,1162.1 734.1,1148.7 737.5,1158.7 730.7,1168.8" fill="#3a72a5"/>
<polygon points="834.7,1155.4 848.1,1145.3 861.5,1145.3 854.8,1155.4 841.4,1158.7" fill="#347fb0"/>
<polygon points="911.8,1195.6 921.8,1185.5 931.9,1192.2 925.2,1202.3 915.1,1202.3" fill="#3a72a5"/>
<rect x="707.3" y="1209" width="7.4" height="4.7" fill="#3a72a5"/>
<rect x="724" y="1210.7" width="8.7" height="7.4" fill="#308abe"/>
<rect x="697.2" y="1220.7" width="4.7" height="4.7" fill="#347fb0"/>
<rect x="734.1" y="1220.7" width="8.7" height="7.4" fill="#347fb0"/>
<rect x="771" y="1224.1" width="8.7" height="6" fill="#308abe"/>
<rect x="710.6" y="1232.5" width="6" height="7.4" fill="#3a72a5"/>
<rect x="754.2" y="1205.7" width="8.7" height="4.7" fill="#308abe"/>
<rect x="646.9" y="1225.8" width="4.7" height="4.7" fill="#3a72a5"/>
<rect x="663.7" y="1232.5" width="4.7" height="6" fill="#347fb0"/>
<rect x="891.7" y="1209" width="6" height="4.7" fill="#347fb0"/>
<rect x="942" y="1207.3" width="4.7" height="7.4" fill="#3a72a5"/>
<rect x="948.7" y="1227.4" width="7.4" height="6" fill="#308abe"/>
<rect x="957" y="1257.6" width="4.7" height="7.4" fill="#308abe"/>
<rect x="938.6" y="1242.5" width="4.7" height="6" fill="#347fb0"/>
<rect x="952" y="1242.5" width="4.7" height="7.4" fill="#347fb0"/>
<rect x="1005.7" y="1302.9" width="6" height="4.7" fill="#347fb0"/>
<rect x="1012.4" y="1311.3" width="6" height="7.4" fill="#347fb0"/>
<rect x="1057.6" y="1302.9" width="7.4" height="7.4" fill="#347fb0"/>
<rect x="757.6" y="1299.5" width="8.7" height="4.7" fill="#308abe"/>
<rect x="764.3" y="1319.6" width="4.7" height="4.7" fill="#308abe"/>
<rect x="771" y="1323" width="8.7" height="4.7" fill="#308abe"/>
<rect x="787.7" y="1338.1" width="8.7" height="4.7" fill="#3a72a5"/>
<rect x="806.2" y="1344.8" width="7.4" height="7.4" fill="#3a72a5"/>
<rect x="600" y="1299.5" width="4.7" height="4.7" fill="#347fb0"/>
<rect x="828" y="1205.7" width="4.7" height="6" fill="#308abe"/>
<rect x="781" y="1202.3" width="8.7" height="4.7" fill="#308abe"/>
<rect x="895" y="1219.1" width="8.7" height="6" fill="#3a72a5"/>
<rect x="928.5" y="1172.1" width="8.7" height="4.7" fill="#3a72a5"/>
<rect x="935.3" y="1160.4" width="6" height="4.7" fill="#347fb0"/>
<rect x="995.6" y="1068.2" width="4.7" height="6" fill="#3a72a5"/>
<rect x="1019.1" y="1054.8" width="8.7" height="6" fill="#3a72a5"/>
<rect x="1045.9" y="967.6" width="8.7" height="7.4" fill="#3a72a5"/>
<rect x="1076.1" y="964.3" width="6" height="4.7" fill="#347fb0"/>
<rect x="1173.3" y="932.4" width="8.7" height="6" fill="#3a72a5"/>
<rect x="1169.9" y="927.4" width="4.7" height="6" fill="#308abe"/>
<ellipse cx="543.1" cy="557" rx="6" ry="6" fill="#308abe"/>
<ellipse cx="598.4" cy="561.3" rx="8.4" ry="6" fill="#347fb0"/>
<polygon points="501.2,595.5 512.9,583.8 518,590.5 506.2,598.9" fill="#308abe"/>
<ellipse cx="580" cy="588.2" rx="5" ry="6" fill="#308abe"/>
<ellipse cx="586.7" cy="600.6" rx="5" ry="5" fill="#347fb0"/>
<ellipse cx="595.1" cy="607.3" rx="6" ry="4.7" fill="#347fb0"/>
<ellipse cx="675.9" cy="517.8" rx="5" ry="5" fill="#308abe"/>
<rect x="804.9" y="742.4" width="12.7" height="6" fill="#347fb0"/>
<polygon points="886.4,763.2 892.1,763.2 888.8,778.6 883.1,778.6" fill="#3a72a5"/>
<rect x="533.1" y="1095" width="6.7" height="12.7" fill="#2a96c6"/>
<polygon points="544.8,1123.5 556.5,1123.5 559.9,1135.3 549.8,1138.6 545.8,1133.6" fill="#2a96c6"/>
<rect x="595.1" y="1295.5" width="8.4" height="7.4" fill="#347fb0"/></g>
<path class="g" d="M20.1,233.5 33.5,221.7 M192.8,221.7 244.7,255.3 M316.8,221.7 316.8,230.1 246.4,231.8 246.4,255.3 248.1,295.5 248.1,362.5 148.5,364.9 150.9,501.7 M248.1,295.5 367.1,296.5 367.1,287.1 375.5,292.1 387.2,287.1 402.3,292.1 422.4,300.5 425.8,310.6 424.1,320.6 430.8,330.7 445.9,339.1 462.7,345.8 479.4,347.5 489.5,350.8 M135.8,568.7 135.8,505 150.9,501.7 202.8,501.7 202.8,493.3 261.5,492.6 261.5,497.6 281.6,497.6 282.6,555.3 331.9,557 355.4,555.3 372.1,570.4 M378.8,625.7 388.9,639.1 378.8,649.2 M224.6,649.2 163.3,711.9 157.6,706.2 150.9,709.5 144.8,709.5 146.5,800.7 M20.1,717.9 70.4,716.2 70.4,721.9 84.8,721.9 84.8,738.7 144.8,738 M84.8,738.7 79.8,739.7 79.8,749.8 40.2,790 40.2,778.3 25.1,778.3 25.1,795 20.1,795 M79.8,749.8 124.7,793.3 119.7,799.4 M146.5,800 146.5,813.4 154.2,823.5 174.3,823.5 181,833.5 197.8,843.6 201.2,853.6 209.5,860.3 209.5,870.4 214.6,880.5 207.9,890.5 202.8,907.3 M119,800 82.1,837.5 50.3,870.4 43.6,863.7 33.5,880.5 20.1,898.9 M82.1,837.5 100.6,860.3 110.6,865.4 115.7,883.8 125.7,880.5 144.2,898.9 100.6,940.8 83.8,925.7 70.4,937.5 20.1,938.5 M144.2,898.9 176,929.1 172.7,942.5 166,944.8 M330.2,878.8 348.7,902.3 342,903.9 M234.7,925.7 291.7,920.7 335.3,914 355.4,922.4 373.8,931.4 395.6,919 419.1,915.7 445.9,917.3 462.7,922.4 479.4,927.4 499.5,917.3 516.3,917.3 519.6,900.6 502.9,898.9 M234.7,925.7 234.7,940.8 246.4,944.2 248.1,954.2 261.5,957.6 281.6,947.5 295,939.1 293.3,922.4 M246.4,955.9 239.7,967.6 236.4,989.4 214.6,997.8 194.4,1007.9 M236.4,989.4 244.7,987.7 256.5,999.5 259.8,1024.6 274.9,1021.3 276.6,1028 290,1031.3 290,1039.7 300.1,1041.4 301.7,1048.1 323.5,1048.1 321.8,1071.6 342,1071.6 343.6,1078.3 348.7,1103.4 375.5,1095 378.8,1086.6 393.9,1085 397.3,1074.9 390.6,1064.9 M479.4,927.4 492.8,945.8 476.1,969.3 462.7,977.7 459.3,987.7 445.9,997.8 429.1,1004.5 415.7,1011.2 395.6,1017.9 378.8,1031.3 348.7,1049.8 368.8,1066.5 390.6,1064.9 412.4,1058.1 434.2,1059.8 415.7,1076.6 417.4,1086.6 432.5,1088.3 435.8,1103.4 445.9,1106.8 462.7,1100.1 467.7,1121.8 M492.8,945.8 509.6,952.5 533.1,945.8 538.1,957.6 538.1,971 553.2,974.3 553.2,982.7 569.9,984.4 571.6,999.5 580,999.5 M132.4,1188.9 147.5,1192.2 177.7,1182.2 192.8,1175.5 194.4,1167.1 214.6,1155.4 234.7,1142 254.8,1126.9 278.3,1115.1 301.7,1111.8 310.1,1120.2 331.9,1115.1 348.7,1105.1 M310.1,1120.2 342,1162.1 331.9,1170.5 347,1192.9 M147.5,1403.5 164.3,1376.6 177.7,1349.8 194.4,1336.4 228,1321.3 241.4,1302.9 261.5,1282.8 271.6,1262.7 291.7,1242.5 311.8,1225.8 328.5,1210.7 347,1192.9 368.8,1180.5 395.6,1163.8 422.4,1145.3 435.8,1131.9 467.7,1121.8 509.6,1110.1 533.1,1095 553.2,1064.9 560.5,1049.8 M129.1,1215.7 135.8,1215.7 135.8,1199 132.4,1188.9 127.4,1199 122.4,1192.2 M135.8,1215.7 155.9,1229.1 182.7,1217.4 184.4,1210.7 196.1,1205.7 214.6,1239.2 216.2,1254.3 231.3,1262.7 233,1267.7 228,1272.7 241.4,1292.8 M311.8,1225.8 350.3,1276.1 321.8,1299.5 295,1323 291.7,1333.1 296.7,1349.8 281.6,1363.2 279.9,1376.6 285,1388.4 305.1,1390 316.8,1376.6 352,1403.5 M352,1403.5 357,1390 372.1,1380 392.2,1375 410.7,1359.9 412.4,1364.9 442.5,1363.2 462.7,1359.9 482.8,1353.2 509.6,1344.8 536.4,1333.1 563.2,1323 590,1319.6 620.2,1318 640,1316.3 M509.6,1110.1 556.5,1165.4 543.1,1175.5 563.2,1205.7 546.5,1222.4 556.5,1232.5 553.2,1245.9 563.2,1250.9 548.1,1261 553.2,1269.4 551.5,1282.8 538.1,1291.1 549.8,1301.2 561.6,1321.3 M549.8,1259.3 569.9,1245.9 593.4,1232.5 606.8,1215.7 615.2,1199 M626.6,922.7 625,937.3 620.8,949.9 610.3,962.5 608.2,970.9 599.8,981.3 591.4,987.6 581,998.1 577.8,999.4 M669,938.4 677.3,945.7 674.2,952 656.4,962.5 643.8,975.1 629.1,989.7 612.4,1004.4 597.7,1014.9 581,1027.4 568.4,1040 560,1048.4 M764.3,969.8 757,977.2 744.4,985.5 727.6,998.1 715.1,1008.6 710.9,1019.1 694.1,1033.7 689.9,1046.3 677.3,1063.1 664.8,1075.6 643.8,1090.3 635.4,1100.8 631.2,1117.5 622.9,1134.3 619.7,1149 626,1163.6 622.9,1180.4 616.6,1197.2 614.5,1209.7 608.2,1220 M861.7,1067.2 908.9,1098.7 920.4,1077.7 946.6,1097.6 951.8,1084 953.9,1077.7 960,1076.7 M861.7,1067.2 857.5,1084 849.2,1102.9 836.6,1119.6 819.8,1138.5 807.2,1159.4 796.8,1176.2 784.2,1195.1 769.5,1209.7 757,1220 M784.2,1195.1 801,1200.3 821.9,1203.4 838.7,1205.1 840.8,1201.4 855.4,1203.4 857.5,1220 M1110.8,929 1107.6,941.5 1118.1,949.9 1118.1,966.7 1111.8,973 1113.9,977.2 1134.9,981.3 1137,985.5 1147.4,982.4 1151.6,987.6 1155.8,993.9 1169.4,998.1 1168.4,1017 1151.6,1022.2 1151.6,1033.7 1141.2,1033.7 1132.8,1025.3 1124.4,1021.2 1120.2,1014.9 1118.1,1025.3 1111.8,1031.6 1099.2,1035.8 M1155.8,993.9 1185.2,975.1 1181,966.7 1199.8,955.1 1204,962.5 M1168.4,1017 1205.1,1022.2 1201.9,1039 1195.6,1040 1162.1,1099.7 1178.9,1102.9 1183.1,1113.3 1186.2,1134.3 1184.1,1153.2 1174.7,1157.3 M1201.9,1039 1253.3,1047.3 1266.9,1029.5 1296.2,1032.7 1296.2,1021.2 1305.6,1019.1 1304.6,991.8 M1245.9,1046.3 1258.5,1090.3 M940,1098.7 946.3,1096.6 952.6,1081.9 967.2,1071.4 977.7,1050.5 980.9,1040 998.7,1048.4 1007.1,1061 1032.2,1067.2 1046.9,1077.7 1057.3,1088.2 1076.2,1085.1 1088.8,1102.9 1084.6,1128 1103.4,1105 M1295.7,773.9 1304.1,782.3 1304.1,790.7 1312.5,799.1 1327.2,801.2 1354.4,802.2 1360.7,807.4 1367,816.9 1379.5,807.4 1390,801.2 1395.2,792.8 1394.2,778.1 1389,780.2 1395.2,775 1404.7,779.2 1415.2,780.2 1425.6,788.6 1433,800.1 1442.4,797 1434,763.4 1446.6,760.3 1450.8,775 1463.3,771.8 1461.3,766.6 1491.6,755.1 1491.6,746.7 1506.3,733.1 1499,725.7 1536.7,692.2 1545.1,685.9 1568.1,672.3 M1423.5,665 1461.3,766.6 M1478,761.3 1499,813.7 1512.6,814.8 1513.6,828.4 1507.3,845.2 1502.1,857.7 1505.3,870.3 M1327.2,801.2 1328.2,832.6 1337.6,851.4 1376.4,908 1379.5,901.7 1408.9,914.3 1414.1,901.7 1408.9,887.1 1407.8,867.2 1450.8,854.6 1444.5,837.8 1478,838.9 1471.7,853.5 1484.3,876.6 1505.3,872.4 1553.4,863 1557.6,878.7 1566,897.5 1570,918.5 M1328.2,832.6 1316.7,843.1 1316.7,874.5 1299.9,882.9 1287.3,891.3 1272.7,897.5 1268.5,908 1271.6,920.6 1258,918.5 1249.6,917.4 1239.1,910.1 1222.4,914.3 1207.7,903.8 1209.8,893.3 1199.3,880.8 M1271.6,920.6 1203.5,962.5 1199.3,955.2 1180.5,966.7 1185.7,977.2 1170,985.5 M1247.5,936.3 1258,941.5 1268.5,943.6 1270.6,952 1287.3,956.2 1279,960.4 1283.1,970.9 1276.9,973 1304.1,993.9 1304.1,1000 M1304.1,993.9 1333.4,991.8 1339.7,1000 M1376.4,908 1381.6,920.6 1379.5,935.3 1390,956.2 1398.4,975.1 1392.1,983.4 1396.3,993.9 M1469.6,612.6 1484.3,610.5 1505.3,608.4 1526.2,616.8 1543,618.9 1557.6,610.5 1570,612.6 M1471.4,491.6 1484.9,488.3 1498.3,489.9 1511.7,498.3 1528.4,488.3 1538.5,491.6 1540.2,483.2 1568.7,488.3 M1304.5,992.8 1334.7,992.8 1348.1,1014.6 1354.8,1034.7 1364.9,1041.4 M106.8,1390 130.2,1395 130.2,1403.4 146.9,1406.7 173.6,1411.7 187,1421.7 207,1436.8 233.7,1456.8 253.7,1473.5 267.1,1480.2 M146.9,1406.7 163.6,1380 M350.5,1406.7 347.2,1413.4 337.2,1423.4 330.5,1435.1 323.8,1440.1 300.5,1438.4 290.5,1446.8 287.1,1460.1 273.8,1466.8 267.1,1480.2 247.1,1493.5 233.7,1506.9 223.7,1523.6 213.7,1540.3 207,1553.6 193.6,1567 187,1587 180.3,1610.4 173.6,1627.1 160.3,1643.7 146.9,1657.1 M173.6,1627.1 190.3,1630.4 187,1653.8 M80.1,1498.5 86.8,1490.2 100.2,1486.8 106.8,1493.5 136.9,1495.2 140.2,1488.5 163.6,1493.5 187,1498.5 210.3,1505.2 200.3,1520.2 193.6,1530.2 187,1540.3 187,1546.9 197,1550.3 207,1553.6 M267.1,1480.2 283.8,1486.8 290.5,1496.8 303.8,1503.5 313.8,1520.2 327.2,1530.2 337.2,1543.6 353.9,1550.3 367.2,1563.6 380.6,1583.7 390.6,1600.3 404,1613.7 417.3,1620.4 434,1627.1 447.4,1633.7 464.1,1643.7 477.4,1653.8 487.4,1670.5 490.8,1687.1 504.1,1700.5 520.8,1707.2 530.8,1713.9 547.5,1710.5 564.2,1717.2 567.6,1700.5 574.2,1690.5 584.2,1673.8 590.9,1650.4 594.3,1613.7 587.6,1593.7 574.2,1573.6 584.2,1536.9 594.3,1520.2 599.9,1509.9 M594.3,1520.2 599.9,1524.2 M564.2,1717.2 547.5,1723.9 540.8,1733.9 547.5,1743.9 540.8,1757.3 M427.3,1757.3 444,1745.6 460.7,1743.9 477.4,1750.6 480.8,1757.3 M20,1753.9 46.7,1747.2 66.8,1740.6 86.8,1733.9 110.2,1707.2 126.9,1673.8 146.9,1657.1 M223.7,1757.3 233.7,1743.9 240.4,1713.9 230.4,1680.5 227,1660.4 187,1653.8 146.9,1657.1 M695.1,1380 695.1,1393.4 686.8,1413.4 670.1,1436.8 650.1,1456.8 630,1473.5 616.7,1480.2 610,1496.8 600,1510.2 M600,1523.6 610,1533.6 630,1540.3 653.4,1543.6 683.5,1545.3 716.8,1548.6 740.2,1540.3 763.6,1530.2 787,1531.9 790.3,1553.6 792,1580.3 787,1600.3 787,1617 793.6,1628.7 M837,1380 838.7,1400 847.1,1426.7 850.4,1446.8 863.7,1463.5 867.1,1480.2 867.1,1496.8 M930.5,1380 947.2,1385 958.9,1385 M682.1,1289.5 693.9,1312.9 697.2,1336.4 695.5,1369.9 695.2,1380.7 M600,1319.6 626.8,1318 653.6,1312.9 682.1,1289.5 734.1,1242.5 757.6,1219.1 776,1204 M781,1199 801.2,1205.7 838,1209 854.8,1210.7 856.5,1219.1 874.9,1222.4 888.3,1235.8 895,1252.6 885,1266 901.7,1264.3 921.8,1269.4 935.3,1282.8 936.9,1302.9 935.3,1323 938.6,1333.1 913.5,1356.5 921.8,1359.9 923.5,1373.3 945.3,1386.7 958.7,1385 M885,1266 881.6,1282.8 868.2,1292.8 868.2,1302.9 848.1,1312.9 846.4,1333.1 854.8,1349.8 841.4,1363.2 834.7,1373.3 836.7,1381"/>
<path d="M1488.9,295 1506.2,294.7 1510,301.6" fill="none" stroke="#c8c8c8" stroke-width="2.6" stroke-linejoin="round" stroke-linecap="round"/>
<path d="M1502.8,220.7 1492.4,232.5 1486.3,248 1487.2,263.6 1492.4,277.4 1491.5,291.2 1488.9,300.8" fill="none" stroke="#c8c8c8" stroke-width="3.2" stroke-linejoin="round" stroke-linecap="round"/>
<path d="M495.8,889.8 512.6,898.2 532.7,899.9 546.1,909.9 566.2,918.3 586.3,925 606.5,926.7 626.6,923.3 643,921.7" fill="none" stroke="#c8c8c8" stroke-width="2.5" stroke-linejoin="round" stroke-linecap="round"/>
<path class="w" d="M543.1,222.7C548.1,224.6 549.8,222.6 558.2,228.4C566.6,234.3 563.7,231.8 568.3,240.2C572.8,248.6 571.9,244.1 571.9,253.6C571.9,263.1 570,259.2 568.3,268.7C566.5,278.2 569.9,275.7 566.6,282.1C563.2,288.4 563.8,281.4 558.2,287.8C552.6,294.1 556.5,298.3 549.8,301.2C543.1,304.1 543.7,292.2 538.1,296.5C532.5,300.7 538.6,305.3 533.1,313.9C527.5,322.5 529.7,316.5 521.3,322.3C512.9,328.1 510.7,326.3 507.9,331.4C505.1,336.4 508.8,334.5 512.9,337.4C517.1,340.3 522.5,335 520.3,340.1C518.1,345.1 516,348 506.2,352.5C496.5,357 494.5,349.6 491.1,353.5C487.8,357.4 493.6,357.1 496.2,364.2C498.7,371.4 502.2,368.2 498.9,374.9C495.5,381.7 493.2,377.6 486.1,384.3C479.1,391 478.3,387.8 477.7,395.1C477.2,402.3 486.1,398.5 484.4,406.1C482.8,413.7 477.7,411.2 472.7,417.9C467.7,424.6 466,418.2 469.4,426.2C472.7,434.3 483.9,435.3 482.8,442C481.6,448.7 476.6,440.4 466,446.4C455.4,452.3 462.1,450.8 450.9,459.8C439.7,468.7 444.8,465.7 432.5,473.2C420.2,480.7 424.1,476.1 414,482.2C404,488.4 410.7,486 402.3,491.6C393.9,497.2 388.9,493.6 388.9,499C388.9,504.4 396.5,502.3 402.3,507.7C408.1,513.1 406.9,510.2 406.3,515.1C405.8,520 407,518.2 400.6,522.5C394.3,526.7 391.1,520.2 387.2,527.8C383.3,535.4 390,534.1 388.9,545.3C387.8,556.4 390,552.4 383.9,561.3C377.7,570.3 374.9,564 370.5,572.1C366,580.1 366.5,578.8 370.5,585.5C374.4,592.2 382.7,587.2 382.2,592.2C381.6,597.2 371.2,593.9 368.8,600.6C366.3,607.3 374.6,604.8 374.8,612.3C375,619.8 368.3,615.4 369.4,623C370.6,630.6 375.9,625.5 378.2,635.1C380.4,644.7 375,643.8 376.2,651.9C377.3,659.9 386.2,656.8 381.5,659.2C376.8,661.7 369.9,655 362.1,659.2C354.3,663.5 357.2,663.9 358.1,672C358.9,680 363.6,675.3 364.8,683.4C365.9,691.4 366.5,691.6 361.4,696.1C356.3,700.6 352.5,692.3 349.3,696.8C346.2,701.3 356.2,703.3 352,709.5C347.9,715.8 343.6,711.1 336.9,715.6C330.2,720 330.2,718.2 331.9,722.9C333.6,727.6 339.7,724.6 342,729.6C344.2,734.7 345.1,734.7 338.6,738C332.1,741.4 331.5,736.7 322.5,739.7C313.6,742.7 320.7,741.5 311.8,747.1C302.8,752.7 303.3,750.9 295.7,756.5C288.1,762.1 289.2,757.1 289,763.8C288.8,770.5 295,768.8 295,776.6C295,784.4 295.7,782.8 289,787.3C282.3,791.8 281.8,786.6 274.9,790C268,793.3 264.9,794.3 268.2,797.4C271.6,800.4 284.7,795.7 285,799C285.2,802.4 273.6,801.3 268.9,807.4C264.2,813.6 277.6,813 270.9,817.5C264.2,822 259.5,816.4 248.8,820.8C238,825.3 241.4,821.2 238.7,830.9C236,840.6 240,843.6 240.7,850" stroke-width="5.4"/>
<path class="w" d="M240.7,850C245.2,853.4 248.1,853.3 254.1,860.3C260.2,867.4 259.2,861.9 258.8,871.1C258.5,880.2 261.2,879.1 253.1,887.8C245.1,896.6 247.5,891 234.7,897.2C221.8,903.5 225.7,901 214.6,906.6C203.4,912.2 210.1,905.9 201.2,914C192.2,922 195.6,921.6 187.7,930.7C179.9,939.9 182.7,933.7 177.7,941.5C172.7,949.3 173.2,943.3 172.7,954.2C172.1,965.2 176.6,963.2 176,974.3C175.4,985.5 169.3,979.9 171,987.7C172.7,995.6 174.3,990.9 181,997.8C187.7,1004.7 187.2,998.5 191.1,1008.5C195,1018.6 191.7,1014.8 192.8,1028C193.9,1041.2 195.6,1034.7 194.4,1048.1C193.3,1061.5 192.8,1055.9 189.4,1068.2C186.1,1080.5 185.4,1073.8 184.4,1085C183.4,1096.1 187,1090.6 186.4,1101.7C185.8,1112.9 184.5,1106 182.7,1118.5C180.9,1131 183.8,1130.1 181,1139.3C178.2,1148.4 180.8,1139.5 174.3,1146C167.9,1152.5 168.3,1151.1 161.6,1158.7C154.9,1166.3 161.1,1164.3 154.2,1168.8C147.3,1173.2 152,1172.1 140.8,1172.1C129.6,1172.1 129.6,1166.5 120.7,1168.8C111.8,1171 116.8,1171 114,1178.8C111.2,1186.7 114.5,1184.4 112.3,1192.2C110.1,1200.1 108.4,1193.4 107.3,1202.3C106.2,1211.2 107.3,1207.9 109,1219.1C110.6,1230.2 109.5,1226.9 112.3,1235.8C115.1,1244.8 116.2,1235.8 117.3,1245.9C118.5,1255.9 114.3,1254.8 115.7,1266C117,1277.2 117.7,1270.5 121.4,1279.4C125,1288.4 127.8,1283.9 126.7,1292.8C125.6,1301.8 122.3,1296.2 118,1306.2C113.8,1316.3 116.4,1312.9 114,1323C111.5,1333.1 110.6,1327.5 110.6,1336.4C110.6,1345.3 111.1,1344.2 114,1349.8C116.9,1355.4 121.4,1344.2 119.4,1353.2C117.3,1362.1 115.3,1364.3 108,1376.6C100.6,1388.9 101.4,1381.1 97.2,1390C93.1,1399 95.5,1393.4 95.5,1403.5C95.5,1413.5 98.9,1408 97.2,1420.2C95.5,1432.4 92.8,1433.4 90.5,1440" stroke-width="5.4"/>
<path class="w" d="M106.8,1380C103.5,1384.5 99.9,1381.1 96.8,1393.4C93.7,1405.6 99.7,1402.3 97.5,1416.7C95.3,1431.2 95.4,1423.4 90.1,1436.8C84.9,1450.1 83.1,1443.4 81.8,1456.8C80.5,1470.1 88.4,1465.1 86.1,1476.8C83.9,1488.5 83.8,1482.9 75.1,1491.8C66.4,1500.7 70.7,1498.5 60.1,1503.5C49.5,1508.5 52.3,1501.3 43.4,1506.9C34.5,1512.4 38.9,1510.2 33.4,1520.2C27.8,1530.2 30.6,1528 26.7,1536.9C22.8,1545.8 23.4,1543.6 21.7,1546.9" stroke-width="5.4"/>
<path class="w" d="M20,556.8 23.6,554.5 27.9,553.5 31.7,551.6 34.9,554.5 38.3,556.9 43.1,557.8 47.1,560.4 51,560.4 54.4,557.6 58.4,556.4 62.5,556.2 65.2,553.3 68.8,552.1 71.9,547.9 75.5,544.3 79.6,543.7 83.7,545.2 85.4,549 88.7,551.8 90.8,554.7 93.6,556.9 97.9,558.8 100.2,562.9 103.7,564.2 107.4,564.9 110.8,566.3 115.4,568.6 120.6,568.5 125.7,568.6 130.7,568.1 133.7,570.1 136.8,572.5 140.8,573.4 142.3,577.3 145.3,580.2 146.9,583.9 148.9,587 152.7,588.5 154.5,591.7 158,594.8 160.4,599.1 165.9,599.8 170.8,601.3 173,605.6 174.2,610.4 177.8,613.5 181.1,617 185.9,618.2 191,618.9 193.7,622.1 197.5,624 199.3,627.8 202.3,630.8 202.6,634.3 204.5,637.4 206.5,640.4 209,643.1 212.5,644.5 216.5,643.8 219.5,641.9 222.9,640.8 225.9,643.5 227.5,647.5 228.5,652.3 229.8,657.3 234.3,658.9 237.7,662.8 240.7,665.2 245.1,664.8 247.8,667.7 251.5,669.7 255,672.1 261.4,673.8 261.8,677.7 262.7,681.1 265.3,684 267.9,687.7 271.9,690.4 274.5,693.6 278.4,695 281.2,698 282.8,701.1 286,703.2 287.7,706.4 290.8,708.4 293.5,710.9 294.8,714.4 298.9,715.6 302,718.1 305,720.9 308.2,723 312.1,723.6 315.3,725.5 316.5,729.5 319.9,731.4 321.3,734.8" stroke-width="6.6"/>
<path class="w" d="M20.1,1126.9 174.3,1123.5 175,1138.6 180.4,1142" stroke-width="4.9"/>
<path class="w" d="M253.1,887.8C258.1,885.4 256.5,885.7 268.2,880.5C279.9,875.2 274.9,873.8 288.3,872.1C301.7,870.4 295,873.5 308.4,875.4C321.8,877.3 315.1,879.2 328.5,877.8C342,876.3 336.4,874.6 348.7,871.1C361,867.5 353.1,866.7 365.4,867.1C377.7,867.4 371,871 385.5,872.1C400.1,873.2 393.4,871.5 409,870.4C424.7,869.3 418,868.2 432.5,868.7C447,869.3 442.5,871.5 452.6,872.1C462.7,872.6 453.7,869.3 462.7,870.4C471.6,871.5 469.4,871 479.4,875.4C489.5,879.9 482.8,878.2 492.8,883.8C502.9,889.4 497.3,888.8 509.6,892.2C521.9,895.5 518.5,890 529.7,893.9C540.9,897.8 531.9,897.8 543.1,903.9C554.3,910.1 549.8,907.3 563.2,912.3C576.6,917.3 569.9,916.2 583.3,919C596.8,921.8 590,921.3 603.5,920.7C616.9,920.1 611.4,919 623.6,917.3C635.8,915.7 634.5,916.2 640,915.7" stroke-width="7.4"/>
<path class="w" d="M560,905.9C564.2,907.3 563.5,906.3 572.6,910.1C581.7,913.9 577.5,914.3 587.2,917.4C597,920.6 591.4,919.2 601.9,919.5C612.4,919.9 608.9,919.5 618.7,918.5C628.4,917.4 622.9,916.9 631.2,916.4C639.6,915.8 636.8,915.4 643.8,916.8C650.8,918.2 646.6,916.5 652.2,920.6C657.8,924.6 654.3,923.4 660.6,929C666.9,934.5 662.7,932.8 671.1,937.3C679.4,941.9 675.2,939.8 685.7,942.6C696.2,945.4 693.4,945.4 702.5,945.7C711.6,946.1 704.6,945 713,943.6C721.3,942.2 718.5,942.9 727.6,941.5C736.7,940.1 733.2,941.5 740.2,939.4C747.2,937.3 743,939.4 748.6,935.2C754.2,931.1 750.7,931.4 757,926.9C763.2,922.3 760.5,923.7 767.4,921.6C774.4,919.5 771.6,919.5 777.9,920.6C784.2,921.6 780.7,920.6 786.3,924.8C791.9,929 788.4,927.6 794.7,933.1C801,938.7 798.2,936.6 805.2,941.5C812.1,946.4 808.6,945 815.6,947.8C822.6,950.6 820.5,951.3 826.1,949.9C831.7,948.5 830.3,948.5 832.4,943.6C834.5,938.7 829.6,939.1 832.4,935.2C835.2,931.4 833.8,934.2 840.8,932.1C847.8,930 846.4,931.4 853.3,929C860.3,926.5 856.8,926.5 861.7,924.8C866.6,923 863.8,922.3 868,923.7C872.2,925.1 868.7,925.8 874.3,929C879.9,932.1 879.2,928.3 884.8,933.1C890.4,938 887.6,936.6 891.1,943.6C894.6,950.6 890.4,946.4 895.3,954.1C900.1,961.8 898.7,958.3 905.7,966.7C912.7,975.1 909.2,973.7 916.2,979.2C923.2,984.8 919,982.7 926.7,983.4C934.4,984.1 933,985.5 939.3,981.3C945.5,977.2 943.1,978.5 945.5,970.9C948,963.2 944.5,966.7 946.6,958.3C948.7,949.9 947.4,954.1 951.8,945.7C956.3,937.3 957.3,937.3 960,933.1" stroke-width="6.9"/>
<path class="w" d="M560,912.2C564.2,915.3 564.2,916.6 572.6,921.6C581,926.7 576.8,924.8 585.1,927.3C593.5,929.7 588.6,929.8 597.7,929C606.8,928.1 602.6,927.6 612.4,924.8C622.2,922 616.6,922.7 627.1,920.6C637.5,918.5 638.2,919.2 643.8,918.5" stroke-width="7.4"/>
<path class="w" d="M748.6,937.3C750.7,940.8 750.7,939.4 754.9,947.8C759.1,956.2 755.6,953.4 761.2,962.5C766.7,971.6 763.2,968.4 771.6,975.1C780,981.7 777.9,979.5 786.3,982.4C794.7,985.3 789.8,985.3 796.8,983.9C803.8,982.5 799.6,978.9 807.2,978.2C814.9,977.5 812.1,980.7 819.8,981.8C827.5,982.8 823.3,983.2 830.3,981.3C837.3,979.5 835.5,981 840.8,976.1C846,971.2 845.3,973.3 846,966.7C846.7,960 846.7,961.4 842.9,956.2C839,951 838.3,948.9 834.5,951C830.6,953.1 834.8,956.4 831.3,962.5C827.9,968.6 830.6,966.3 824,969.2C817.4,972.1 819.1,969.2 811.4,971.3C803.8,973.4 807.9,972.5 801,975.5C794,978.5 797.5,981.7 790.5,980.3C783.5,978.9 786.3,977.2 780,971.3C773.7,965.3 777.9,968.2 771.6,962.5C765.3,956.8 766.7,959.7 761.2,954.1C755.6,948.5 759.1,951.3 754.9,945.7C750.7,940.1 750.7,940.1 748.6,937.3" stroke-width="9.4"/>
<path class="w" d="M940,975.1C940.7,970.9 937.9,970.2 942.1,962.5C946.3,954.8 946.3,960.4 952.6,952C958.9,943.6 958.5,947.1 961,937.3C963.4,927.6 957.8,931.1 959.9,922.7C962,914.3 959.9,917.8 967.2,912.2C974.6,906.6 972.1,912.9 981.9,905.9C991.7,898.9 986.8,899.3 996.6,891.2C1006.4,883.2 1000.8,885 1011.2,881.8C1021.7,878.7 1018.2,880.1 1028,881.8C1037.8,883.6 1032.2,883.6 1040.6,887.1C1049,890.5 1043.4,890.5 1053.1,892.3C1062.9,894 1059.4,888.4 1069.9,892.3C1080.4,896.1 1076.2,897.2 1084.6,903.8C1093,910.4 1087.4,905.9 1095.1,912.2C1102.7,918.5 1099.2,917.1 1107.6,922.7C1116,928.3 1111.8,927.6 1120.2,929C1128.6,930.4 1125.8,931.1 1132.8,926.9C1139.8,922.7 1134.9,924.1 1141.2,916.4C1147.4,908.7 1143.2,910.1 1151.6,903.8C1160,897.5 1157.9,901.7 1166.3,897.5C1174.7,893.3 1171.2,897.5 1176.8,891.2C1182.4,885 1181.7,888.4 1183.1,878.7C1184.5,868.9 1185.2,871 1181,861.9C1176.8,852.8 1174.7,858.4 1170.5,851.4C1166.3,844.4 1166.3,847.2 1168.4,841C1170.5,834.7 1171.2,836.8 1176.8,832.6C1182.4,828.4 1181.7,832.6 1185.2,828.4C1188.6,824.2 1186.6,822.8 1187.2,820" stroke-width="6.4"/>
<path class="w" d="M1040.6,887.1C1040.2,891.2 1038.8,891.9 1039.5,899.6C1040.2,907.3 1044.8,901.7 1042.7,910.1C1040.6,918.5 1034.6,915 1033.2,924.8C1031.8,934.5 1034.6,931.1 1038.5,939.4C1042.3,947.8 1038.5,942.9 1044.8,949.9C1051.1,956.9 1049,949.9 1057.3,960.4C1065.7,970.9 1060.1,963.9 1069.9,981.3C1079.7,998.8 1075.1,990.8 1086.7,1012.8C1098.2,1034.8 1099.6,1033.4 1104.5,1047.3C1109.4,1061.3 1104.1,1049.8 1101.3,1054.7C1098.5,1059.6 1096.1,1056.4 1096.1,1062C1096.1,1067.6 1100.3,1064.8 1101.3,1071.4C1102.4,1078.1 1097.8,1074.9 1099.2,1081.9C1100.6,1088.9 1104.1,1085.8 1105.5,1092.4C1106.9,1099 1101.3,1094.8 1103.4,1101.8C1105.5,1108.8 1106.2,1105.3 1111.8,1113.3C1117.4,1121.4 1115.7,1117.5 1120.2,1125.9C1124.7,1134.3 1120.5,1132.9 1125.4,1138.5C1130.3,1144.1 1129.6,1137.8 1134.9,1142.7C1140.1,1147.6 1135.6,1146.9 1141.2,1153.2C1146.7,1159.4 1145.3,1155.3 1151.6,1161.5C1157.9,1167.8 1153.7,1170.6 1160,1172C1166.3,1173.4 1165.6,1168.5 1170.5,1165.7C1175.4,1162.9 1173.3,1164.3 1174.7,1163.6" stroke-width="5.9"/>
<path class="w" d="M1386.3,994.5C1384.9,997.3 1383.2,995.9 1382.1,1002.9C1381.1,1009.8 1382.1,1007.1 1383.2,1015.4C1384.2,1023.8 1388.4,1019.6 1385.2,1028C1382.1,1036.4 1381.8,1035 1373.7,1040.6C1365.7,1046.2 1369.5,1042.7 1361.2,1044.8C1352.8,1046.9 1356.3,1047.6 1348.6,1046.9C1340.9,1046.2 1344.7,1043.4 1338.1,1042.7C1331.5,1042 1332.2,1042.3 1328.7,1044.8C1325.2,1047.2 1324.5,1045.8 1327.6,1050C1330.8,1054.2 1332.5,1050.7 1338.1,1057.3C1343.7,1064 1344.4,1064.3 1344.4,1069.9C1344.4,1075.5 1343.7,1075.5 1338.1,1074.1C1332.5,1072.7 1333.9,1067.8 1327.6,1065.7C1321.3,1063.6 1323.4,1062.2 1319.2,1067.8C1315.1,1073.4 1319.2,1076.9 1315.1,1082.5C1310.9,1088.1 1311.6,1087.4 1306.7,1084.6C1301.8,1081.8 1306,1077.6 1300.4,1074.1C1294.8,1070.6 1297.6,1069.9 1289.9,1074.1C1282.2,1078.3 1284.3,1079 1277.3,1086.7C1270.4,1094.4 1275.9,1094.4 1269,1097.2C1262,1099.9 1262,1093 1256.4,1095.1C1250.8,1097.2 1254.3,1098.5 1252.2,1103.4C1250.1,1108.3 1254.3,1106.2 1250.1,1109.7C1245.9,1113.2 1244.5,1110.4 1239.6,1113.9C1234.7,1117.4 1234.7,1115.3 1235.4,1120.2C1236.1,1125.1 1241,1122.3 1241.7,1128.6C1242.4,1134.9 1243.8,1132.8 1237.5,1139.1C1231.2,1145.3 1230.5,1141.9 1222.9,1147.4C1215.2,1153 1220.4,1155.8 1214.5,1155.8C1208.5,1155.8 1210.6,1148.8 1205,1147.4C1199.5,1146 1203,1145.3 1197.7,1151.6C1192.5,1157.9 1194.2,1157.2 1189.3,1166.3C1184.4,1175.4 1187.9,1177.5 1183,1178.9C1178.2,1180.3 1179.6,1176.8 1174.7,1170.5C1169.8,1164.2 1173.3,1162.8 1168.4,1160C1163.5,1157.2 1162.8,1161.4 1160,1162.1" stroke-width="5.9"/>
<path class="w" d="M1163.2,1172.1C1156.5,1176.6 1156.5,1178.8 1143.1,1185.5C1129.7,1192.2 1131.9,1185 1123,1192.2C1114.1,1199.5 1115.2,1204 1116.3,1207.3C1117.4,1210.7 1117.4,1199.5 1126.3,1202.3C1135.3,1205.1 1135.3,1204.5 1143.1,1215.7C1150.9,1226.9 1152.1,1219.6 1149.8,1235.8C1147.6,1252 1142,1258.7 1136.4,1264.3C1130.8,1269.9 1139.8,1259.9 1133.1,1252.6C1126.3,1245.3 1129.7,1245.9 1116.3,1242.5C1102.9,1239.2 1105.1,1239.7 1092.8,1242.5C1080.5,1245.3 1082.8,1242 1079.4,1250.9C1076.1,1259.9 1083.9,1258.7 1082.8,1269.4C1081.6,1280 1087.2,1273.8 1076.1,1282.8C1064.9,1291.7 1060.4,1287.2 1049.2,1296.2C1038.1,1305.1 1043.7,1300.6 1042.5,1309.6C1041.4,1318.5 1049.2,1315.2 1045.9,1323C1042.5,1330.8 1042.5,1325.2 1032.5,1333.1C1022.4,1340.9 1025.8,1335.3 1015.7,1346.5C1005.7,1357.6 1010.1,1354.3 1002.3,1366.6C994.5,1378.9 1003.4,1375.5 992.2,1383.3C981.1,1391.2 980,1384.5 968.8,1390C957.6,1395.6 962.1,1390 958.7,1400.1C955.4,1410.2 962.1,1409 958.7,1420.2C955.4,1431.4 955.4,1427 948.7,1433.6C942,1440.2 942,1437.9 938.6,1440" stroke-width="5.9"/>
<path class="w" d="M997.3,1380C987.3,1382.2 980,1380 967.2,1386.7C954.4,1393.4 961.7,1388.9 958.9,1400C956.1,1411.2 963.9,1407.8 958.9,1420.1C953.9,1432.3 953.9,1427.9 943.9,1436.8C933.9,1445.7 936.1,1437.9 928.8,1446.8C921.6,1455.7 923.3,1453.4 922.2,1463.5C921.1,1473.5 928.3,1469 925.5,1476.8C922.7,1484.6 925.5,1481.3 913.8,1486.8C902.1,1492.4 903.8,1487.9 890.5,1493.5C877.1,1499.1 882.7,1495.7 873.8,1503.5C864.9,1511.3 871.5,1505.8 863.7,1516.9C856,1528 854.8,1524.7 850.4,1536.9C845.9,1549.2 853.7,1541.4 850.4,1553.6C847.1,1565.8 847.1,1563.1 840.4,1573.6C833.7,1584.2 838.1,1579.8 830.4,1585.3C822.6,1590.9 823.1,1583.1 817,1590.3C810.9,1597.6 817.6,1595.9 812,1607C806.4,1618.1 810.9,1612.6 800.3,1623.7C789.7,1634.8 792.5,1629.3 780.3,1640.4C768,1651.5 772.5,1646 763.6,1657.1C754.7,1668.2 756.4,1666 753.6,1673.8C750.8,1681.6 758.6,1674.9 755.2,1680.5C751.9,1686 750.8,1682.7 743.6,1690.5C736.3,1698.3 745.8,1692.7 733.5,1703.8C721.3,1715 723.5,1716.1 706.8,1723.9C690.1,1731.7 696.8,1722.8 683.5,1727.2C670.1,1731.7 676.8,1726.1 666.8,1737.2C656.8,1748.4 657.9,1752.8 653.4,1760.6" stroke-width="5.9"/>
<path class="w" d="M1441.3,607.3C1444.6,604.5 1445.7,608.4 1451.3,598.9C1456.9,589.4 1456.9,590 1458,578.8C1459.2,567.6 1451.3,574.3 1454.7,565.4C1458,556.4 1463.1,560.9 1468.1,552C1473.1,543 1472,545.3 1469.8,538.5C1467.5,531.8 1458.6,538.5 1461.4,531.8C1464.2,525.1 1472,526.3 1478.2,518.4C1484.3,510.6 1484.3,516.2 1479.8,508.4C1475.4,500.6 1469.8,503.9 1464.7,495C1459.7,486 1462.5,491.6 1464.7,481.6C1467,471.5 1470.3,474.9 1471.4,464.8C1472.6,454.7 1470.9,459.2 1468.1,451.4C1465.3,443.6 1461.9,448 1463.1,441.3C1464.2,434.6 1464.2,434.6 1471.4,431.3C1478.7,427.9 1480.9,438 1484.9,431.3C1488.8,424.6 1480.9,426.8 1483.2,411.2C1485.4,395.5 1492.1,402.2 1491.6,384.3C1491,366.5 1486.9,372.6 1481.5,357.5C1476.1,342.4 1477.5,345.2 1475.5,339.1" stroke-width="5.9"/>
<path class="w" d="M1474.8,338.8C1473.6,337.1 1472.9,336.8 1471.3,333.6C1469.7,330.4 1468.6,332.7 1469.9,329.3C1471.2,325.8 1469.9,324.4 1475.1,323.2C1480.3,322.1 1479.7,325.5 1485.5,325.8C1491.2,326.1 1489.8,327.5 1492.4,324.1C1495,320.6 1493.8,320.6 1493.2,315.4C1492.7,310.3 1488.9,311.4 1490.7,308.5C1492.4,305.7 1493.2,308.2 1498.4,306.8C1503.6,305.4 1501.9,302.5 1506.2,304.2C1510.5,305.9 1507.9,309.4 1511.4,312C1514.9,314.6 1513.1,313.1 1516.6,312C1520,310.8 1517.7,308 1521.8,308.5C1525.8,309.1 1524.7,309.7 1528.7,313.7C1532.7,317.8 1531,315.4 1533.9,320.6C1536.8,325.8 1534.7,323.8 1537.3,329.3C1539.9,334.8 1539.3,336.5 1541.7,337.1C1544,337.6 1543.7,335.9 1544.2,331C1544.8,326.1 1541.1,326.7 1543.4,322.4C1545.7,318 1546.8,321.5 1551.2,318C1555.5,314.6 1554,316.3 1556.3,312C1558.6,307.7 1555.8,308.2 1558.1,305.1C1560.4,301.9 1558.9,302.8 1563.3,302.5C1567.6,302.2 1568.4,303.6 1571,304.2" stroke-width="5.9"/>
<path class="w" d="M1440.3,604.2C1436.1,607.7 1434.4,606.3 1427.7,614.7C1421.1,623 1420.7,620.3 1420.4,629.3C1420,638.4 1425.3,633.5 1426.7,641.9C1428.1,650.3 1429.1,645 1424.6,654.5C1420,663.9 1420.4,667.1 1413.1,670.2C1405.7,673.3 1410.3,665.7 1402.6,663.9C1394.9,662.2 1398.4,662.2 1390,665C1381.6,667.7 1382,666 1377.4,672.3C1372.9,678.6 1376.7,675.8 1376.4,683.8C1376,691.8 1379.5,688.7 1376.4,696.4C1373.2,704.1 1375.7,702.7 1367,706.9C1358.2,711.1 1360,706.2 1350.2,709C1340.4,711.8 1345.3,709.7 1337.6,715.2C1329.9,720.8 1334.1,719.4 1327.2,725.7C1320.2,732 1321.2,727.8 1316.7,734.1C1312.1,740.4 1312.1,737.6 1313.5,744.6C1314.9,751.6 1320.5,748.1 1320.9,755.1C1321.2,762 1323,761 1314.6,765.5C1306.2,770.1 1306.9,770.8 1295.7,768.7C1284.5,766.6 1288.7,762.4 1281.1,759.2C1273.4,756.1 1279,757.2 1272.7,759.2C1266.4,761.3 1270.6,762.7 1262.2,765.5C1253.8,768.3 1257.3,764.1 1247.5,767.6C1237.7,771.1 1241.2,769 1232.9,776C1224.5,783 1226.9,780.2 1222.4,788.6C1217.8,797 1220.3,793.5 1219.2,801.2C1218.2,808.8 1221.7,806 1219.2,811.6C1216.8,817.2 1217.8,817.2 1211.9,817.9C1206,818.6 1209.1,815.1 1201.4,813.7C1193.7,812.3 1194.4,810.9 1188.9,813.7C1183.3,816.5 1186.8,815.8 1184.7,822.1C1182.6,828.4 1186.1,827.7 1182.6,832.6C1179.1,837.5 1178.4,835.7 1174.2,836.8C1170,837.8 1171.4,836.1 1170,835.7" stroke-width="5.9"/>
<path class="w" d="M1570,926.9C1568,930.4 1568,931.8 1563.9,937.3C1559.8,942.9 1563.2,947.1 1557.6,943.6C1552,940.1 1554.1,933.2 1547.2,926.9C1540.2,920.6 1544.4,924.1 1536.7,924.8C1529,925.5 1530.4,925.5 1524.1,929C1517.8,932.5 1517.1,929.7 1517.8,935.3C1518.5,940.8 1527.6,940.8 1526.2,945.7C1524.8,950.6 1522,946.4 1513.6,949.9C1505.3,953.4 1508,958.3 1501.1,956.2C1494.1,954.1 1498.3,949.2 1492.7,943.6C1487.1,938 1489.2,938 1484.3,939.4C1479.4,940.8 1479.4,940.8 1478,947.8C1476.6,954.8 1483.6,953.4 1480.1,960.4C1476.6,967.4 1474.5,970.2 1467.5,968.8C1460.6,967.4 1464,959 1459.2,956.2C1454.3,953.4 1456.4,953.4 1452.9,960.4C1449.4,967.4 1455.7,969.5 1448.7,977.2C1441.7,984.8 1441,983.4 1431.9,983.4C1422.8,983.4 1426.3,983.4 1421.4,977.2C1416.6,970.9 1421.4,968.1 1417.2,964.6C1413.1,961.1 1413.8,960.4 1408.9,966.7C1404,973 1408.2,973.7 1402.6,983.4C1397,993.2 1398.4,990.5 1392.1,996C1385.8,1001.5 1386.5,998.7 1383.7,1000" stroke-width="5.9"/>
<path class="w" d="M330,881.3C336.8,879 337.9,878.1 350.2,874.6C362.5,871 354.6,870.2 366.9,870.6C379.2,870.9 372.5,874.5 387,875.6C401.6,876.7 394.9,875 410.5,873.9C426.2,872.8 419.5,871.7 434,872.2C448.5,872.8 444,875 454.1,875.6C464.2,876.1 455.2,872.8 464.2,873.9C473.1,875 470.9,874.5 480.9,878.9C491,883.4 484.3,881.7 494.3,887.3C504.4,892.9 498.8,892.3 511.1,895.7C523.4,899 520,893.5 531.2,897.4C542.4,901.3 533.4,901.3 544.6,907.4C555.8,913.6 551.3,910.8 564.7,915.8C578.1,920.8 571.4,919.7 584.8,922.5C598.3,925.3 591.5,924.8 605,924.2C618.4,923.6 612.9,922.5 625.1,920.8C637.3,919.2 636,919.7 641.5,919.2" stroke-width="4.9"/>
<circle cx="794.6" cy="989.9" r="744" fill="none" stroke="#fff" stroke-width="2.8"/>
<circle cx="95.5" cy="349.1" r="6.6" fill="#fff"/>
<circle cx="481.7" cy="442.3" r="6.6" fill="#fff"/>
<circle cx="387.9" cy="499" r="6.6" fill="#fff"/>
<circle cx="356.4" cy="773.2" r="6.6" fill="#fff"/>
<circle cx="461.6" cy="826.2" r="6.6" fill="#fff"/>
<circle cx="699.3" cy="305.5" r="6.6" fill="#fff"/>
<circle cx="914.6" cy="357.5" r="6.6" fill="#fff"/>
<circle cx="674.5" cy="425.6" r="6.6" fill="#fff"/>
<circle cx="709.4" cy="575.4" r="6.6" fill="#fff"/>
<circle cx="702.4" cy="665.6" r="6.6" fill="#fff"/>
<circle cx="738.2" cy="739.7" r="6.6" fill="#fff"/>
<circle cx="1305.5" cy="429.6" r="6.6" fill="#fff"/>
<circle cx="1498.3" cy="307.9" r="6.6" fill="#fff"/>
<circle cx="1482.5" cy="578.1" r="6.6" fill="#fff"/>
<circle cx="1282" cy="618.3" r="6.6" fill="#fff"/>
<circle cx="1195.5" cy="865.4" r="6.6" fill="#fff"/>
<circle cx="1083.7" cy="904.6" r="6.6" fill="#fff"/>
<circle cx="1326.3" cy="945.2" r="6.6" fill="#fff"/>
<circle cx="1125.1" cy="1091.7" r="6.6" fill="#fff"/>
<circle cx="1311.9" cy="1082.6" r="6.6" fill="#fff"/>
<circle cx="1518" cy="1080.3" r="6.6" fill="#fff"/>
<circle cx="1035.1" cy="1309.6" r="6.6" fill="#fff"/>
<circle cx="841.4" cy="967.6" r="6.6" fill="#fff"/>
<circle cx="694.2" cy="1303.9" r="6.6" fill="#fff"/>
<circle cx="477.4" cy="1254.6" r="6.6" fill="#fff"/>
<circle cx="185.4" cy="940.8" r="6.6" fill="#fff"/>
<circle cx="203.5" cy="1107.4" r="6.6" fill="#fff"/>
<circle cx="230.3" cy="1320.6" r="6.6" fill="#fff"/>
<circle cx="423.4" cy="1526.2" r="6.6" fill="#fff"/>
<text class="city" x="104.8" y="339.1" textLength="109.8" lengthAdjust="spacingAndGlyphs" xml:space="preserve">PIRANE</text>
<text class="city" x="491" y="432.3" textLength="164.7" lengthAdjust="spacingAndGlyphs" xml:space="preserve">VA. OLIVA</text>
<text class="city" x="397.2" y="489" textLength="128.1" lengthAdjust="spacingAndGlyphs" xml:space="preserve">FORMOSA</text>
<text class="city" x="365.7" y="763.2" textLength="164.7" lengthAdjust="spacingAndGlyphs" xml:space="preserve">ISLA UMBÚ</text>
<text class="city" x="470.9" y="816.2" textLength="164.7" lengthAdjust="spacingAndGlyphs" xml:space="preserve">VILLALBÍN</text>
<text class="city" x="708.6" y="295.5" textLength="164.7" lengthAdjust="spacingAndGlyphs" xml:space="preserve">PARAGUARÍ</text>
<text class="city" x="923.9" y="347.5" textLength="183" lengthAdjust="spacingAndGlyphs" xml:space="preserve">VILLARRICA</text>
<text class="city" x="683.8" y="415.6" textLength="128.1" lengthAdjust="spacingAndGlyphs" xml:space="preserve">QUIINDY</text>
<text class="city" x="718.7" y="565.4" textLength="201.3" lengthAdjust="spacingAndGlyphs" xml:space="preserve">VA. FLORIDA</text>
<text class="city" x="711.7" y="655.6" textLength="311.1" lengthAdjust="spacingAndGlyphs" xml:space="preserve">SAN JUAN BAUTISTA</text>
<text class="city" x="747.5" y="729.7" textLength="201.3" lengthAdjust="spacingAndGlyphs" xml:space="preserve">SAN IGNACIO</text>
<text class="city" x="1314.8" y="419.6" textLength="146.4" lengthAdjust="spacingAndGlyphs" xml:space="preserve">NARANJAL</text>
<text class="city" x="1507.6" y="297.9" textLength="237.9" lengthAdjust="spacingAndGlyphs" xml:space="preserve">PUERTO IGUAZÚ</text>
<text class="city" x="1491.8" y="568.1" textLength="146.4" lengthAdjust="spacingAndGlyphs" xml:space="preserve">ELDORADO</text>
<text class="city" x="1291.3" y="608.3" textLength="311.1" lengthAdjust="spacingAndGlyphs" xml:space="preserve">MARÍA AUXILIADORA</text>
<text class="city" x="1204.8" y="855.4" textLength="201.3" lengthAdjust="spacingAndGlyphs" xml:space="preserve">SAN IGNACIO</text>
<text class="city" x="1093" y="894.6" textLength="128.1" lengthAdjust="spacingAndGlyphs" xml:space="preserve">POSADAS</text>
<text class="city" x="1335.6" y="935.2" textLength="91.5" lengthAdjust="spacingAndGlyphs" xml:space="preserve">OBERÁ</text>
<text class="city" x="1134.4" y="1081.7" textLength="164.7" lengthAdjust="spacingAndGlyphs" xml:space="preserve">APÓSTOLES</text>
<text class="city" x="1321.2" y="1072.6" textLength="183" lengthAdjust="spacingAndGlyphs" xml:space="preserve">SAN JAVIER</text>
<text class="city" x="1527.3" y="1070.3" textLength="183" lengthAdjust="spacingAndGlyphs" xml:space="preserve">SANTA ROSA</text>
<text class="city" x="1044.4" y="1299.6" textLength="183" lengthAdjust="spacingAndGlyphs" xml:space="preserve">SANTO TOMÉ</text>
<text class="city" x="850.7" y="957.6" textLength="164.7" lengthAdjust="spacingAndGlyphs" xml:space="preserve">ITUZAINGÓ</text>
<text class="city" x="703.5" y="1293.9" textLength="329.4" lengthAdjust="spacingAndGlyphs" xml:space="preserve">COL. C. PELLEGRINI</text>
<text class="city" x="486.7" y="1244.6" textLength="183" lengthAdjust="spacingAndGlyphs" xml:space="preserve">CONCEPCIÓN</text>
<text class="city" x="194.7" y="930.8" textLength="183" lengthAdjust="spacingAndGlyphs" xml:space="preserve">CORRIENTES</text>
<text class="city" x="212.8" y="1097.4" textLength="164.7" lengthAdjust="spacingAndGlyphs" xml:space="preserve">EMPEDRADO</text>
<text class="city" x="239.6" y="1310.6" textLength="164.7" lengthAdjust="spacingAndGlyphs" xml:space="preserve">SAN ROQUE</text>
<text class="city" x="432.7" y="1516.2" textLength="146.4" lengthAdjust="spacingAndGlyphs" xml:space="preserve">MERCEDES</text>
<rect x="26.3" y="1653.4" width="332.4" height="101.2" fill="#686868" fill-opacity="0.824" stroke="#8a8a8a" stroke-opacity="0.45" stroke-width="1"/>
<rect x="40.1" y="1668" width="303.1" height="72" fill="none" stroke="#ffa500" stroke-width="5.8"/>
<text class="mono" font-size="22.2" fill="#fff" x="51.3" y="1698.1" xml:space="preserve">Avisos Meteorológicos</text>
<text class="mono" font-size="22.2" fill="#fff" x="51.3" y="1725" xml:space="preserve">a Muy Corto Plazo</text>
</g>
<g clip-path="url(#cSide)">
<g shape-rendering="crispEdges"><ellipse cx="1603.9" cy="517.8" rx="20.8" ry="5.4" fill="#308abe"/>
<ellipse cx="1603.9" cy="560.3" rx="20.8" ry="8.4" fill="#308abe"/>
<ellipse cx="1612.3" cy="557" rx="13.4" ry="6" fill="#308abe"/>
<ellipse cx="1604.9" cy="588.2" rx="15.1" ry="6" fill="#2a96c6"/>
<ellipse cx="1648.5" cy="590.5" rx="16.1" ry="8" fill="#2a96c6"/>
<ellipse cx="1599.5" cy="604.9" rx="18.4" ry="8.4" fill="#308abe"/>
<ellipse cx="1590.5" cy="745.4" rx="16.1" ry="3.4" fill="#347fb0"/>
<ellipse cx="1583.8" cy="770.5" rx="11.7" ry="6.7" fill="#3a72a5"/>
<rect x="1573" y="813" width="8.3" height="2.9" fill="#347fb0"/>
<rect x="1581" y="813" width="4.1" height="2.9" fill="#3d6699"/>
<rect x="1584.8" y="813" width="7.5" height="2.9" fill="#3d6699"/>
<rect x="1573" y="815.6" width="8.9" height="2.9" fill="#347fb0"/>
<rect x="1581.6" y="815.6" width="8.4" height="2.9" fill="#3d6699"/>
<rect x="1589.7" y="815.6" width="5.2" height="2.9" fill="#3d6699"/>
<rect x="1573" y="818.2" width="5.7" height="2.9" fill="#347fb0"/>
<rect x="1578.4" y="818.2" width="14.2" height="2.9" fill="#3d6699"/>
<rect x="1592.3" y="818.2" width="3.4" height="2.9" fill="#3d6699"/>
<rect x="1573" y="820.8" width="6" height="2.9" fill="#308abe"/>
<rect x="1578.7" y="820.8" width="15.8" height="2.9" fill="#3d6699"/>
<rect x="1594.2" y="820.8" width="4.1" height="2.9" fill="#3d6699"/>
<rect x="1573" y="823.4" width="7.8" height="2.9" fill="#347fb0"/>
<rect x="1580.5" y="823.4" width="15" height="2.9" fill="#3d6699"/>
<rect x="1595.2" y="823.4" width="4" height="2.9" fill="#3d6699"/>
<rect x="1573" y="826" width="6.2" height="2.9" fill="#347fb0"/>
<rect x="1578.9" y="826" width="15.8" height="2.9" fill="#3a72a5"/>
<rect x="1594.4" y="826" width="7.7" height="2.9" fill="#3d6699"/>
<rect x="1573" y="828.6" width="6.1" height="2.9" fill="#347fb0"/>
<rect x="1578.8" y="828.6" width="22.4" height="2.9" fill="#3a72a5"/>
<rect x="1600.9" y="828.6" width="4.2" height="2.9" fill="#3d6699"/>
<rect x="1573" y="831.2" width="9.2" height="2.9" fill="#308abe"/>
<rect x="1581.9" y="831.2" width="18.6" height="2.9" fill="#3a72a5"/>
<rect x="1600.2" y="831.2" width="4.8" height="2.9" fill="#3d6699"/>
<rect x="1573" y="833.8" width="9" height="2.9" fill="#308abe"/>
<rect x="1581.7" y="833.8" width="21.7" height="2.9" fill="#3a72a5"/>
<rect x="1603.2" y="833.8" width="3.6" height="2.9" fill="#3d6699"/>
<rect x="1573" y="836.4" width="7.6" height="2.9" fill="#308abe"/>
<rect x="1580.3" y="836.4" width="26.1" height="2.9" fill="#3a72a5"/>
<rect x="1606.1" y="836.4" width="3.6" height="2.9" fill="#3d6699"/>
<rect x="1573" y="839" width="7.2" height="2.9" fill="#308abe"/>
<rect x="1579.9" y="839" width="26.4" height="2.9" fill="#3a72a5"/>
<rect x="1606" y="839" width="4.2" height="2.9" fill="#3d6699"/>
<rect x="1573" y="841.6" width="5.5" height="2.9" fill="#347fb0"/>
<rect x="1578.2" y="841.6" width="24.1" height="2.9" fill="#3a72a5"/>
<rect x="1602.1" y="841.6" width="8" height="2.9" fill="#3d6699"/>
<rect x="1573" y="844.2" width="5.4" height="2.9" fill="#308abe"/>
<rect x="1578.1" y="844.2" width="28.5" height="2.9" fill="#3a72a5"/>
<rect x="1606.2" y="844.2" width="5.1" height="2.9" fill="#3d6699"/>
<rect x="1573" y="846.8" width="7.1" height="2.9" fill="#347fb0"/>
<rect x="1579.8" y="846.8" width="25.4" height="2.9" fill="#3d6699"/>
<rect x="1604.9" y="846.8" width="6.4" height="2.9" fill="#3d6699"/>
<rect x="1573" y="849.4" width="6.3" height="2.9" fill="#308abe"/>
<rect x="1579" y="849.4" width="23.3" height="2.9" fill="#3a72a5"/>
<rect x="1602" y="849.4" width="5" height="2.9" fill="#3d6699"/>
<rect x="1573" y="852" width="6.3" height="2.9" fill="#308abe"/>
<rect x="1579" y="852" width="29.1" height="2.9" fill="#3a72a5"/>
<rect x="1607.8" y="852" width="3.8" height="2.9" fill="#3d6699"/>
<rect x="1573" y="854.6" width="6.8" height="2.9" fill="#308abe"/>
<rect x="1579.5" y="854.6" width="28.3" height="2.9" fill="#3d6699"/>
<rect x="1607.5" y="854.6" width="3.5" height="2.9" fill="#3d6699"/>
<rect x="1573" y="857.2" width="7.4" height="2.9" fill="#308abe"/>
<rect x="1580.1" y="857.2" width="19.9" height="2.9" fill="#3a72a5"/>
<rect x="1599.7" y="857.2" width="7.9" height="2.9" fill="#3d6699"/>
<rect x="1573" y="859.8" width="8.1" height="2.9" fill="#347fb0"/>
<rect x="1580.8" y="859.8" width="22.6" height="2.9" fill="#3a72a5"/>
<rect x="1603.1" y="859.8" width="4.9" height="2.9" fill="#3d6699"/>
<rect x="1573" y="862.4" width="8.5" height="2.9" fill="#347fb0"/>
<rect x="1581.2" y="862.4" width="20.3" height="2.9" fill="#3a72a5"/>
<rect x="1601.2" y="862.4" width="6.9" height="2.9" fill="#3d6699"/>
<rect x="1573" y="865" width="5.9" height="2.9" fill="#347fb0"/>
<rect x="1578.6" y="865" width="30.2" height="2.9" fill="#3a72a5"/>
<rect x="1608.6" y="865" width="3.7" height="2.9" fill="#3d6699"/>
<rect x="1573" y="867.6" width="6.9" height="2.9" fill="#347fb0"/>
<rect x="1579.6" y="867.6" width="23.2" height="2.9" fill="#3a72a5"/>
<rect x="1602.5" y="867.6" width="7" height="2.9" fill="#3d6699"/>
<rect x="1573" y="870.2" width="7.1" height="2.9" fill="#308abe"/>
<rect x="1579.8" y="870.2" width="27.7" height="2.9" fill="#3a72a5"/>
<rect x="1607.2" y="870.2" width="4" height="2.9" fill="#3d6699"/>
<rect x="1573" y="872.8" width="7.3" height="2.9" fill="#347fb0"/>
<rect x="1580" y="872.8" width="22.9" height="2.9" fill="#3a72a5"/>
<rect x="1602.5" y="872.8" width="4" height="2.9" fill="#3d6699"/>
<rect x="1573" y="875.4" width="5.8" height="2.9" fill="#308abe"/>
<rect x="1578.5" y="875.4" width="27.6" height="2.9" fill="#3a72a5"/>
<rect x="1605.9" y="875.4" width="3.8" height="2.9" fill="#3d6699"/>
<rect x="1573" y="878" width="5.5" height="2.9" fill="#308abe"/>
<rect x="1578.2" y="878" width="25.8" height="2.9" fill="#3a72a5"/>
<rect x="1603.8" y="878" width="4.8" height="2.9" fill="#3d6699"/>
<rect x="1573" y="880.6" width="7.8" height="2.9" fill="#347fb0"/>
<rect x="1580.5" y="880.6" width="23.5" height="2.9" fill="#3a72a5"/>
<rect x="1603.7" y="880.6" width="8.2" height="2.9" fill="#3d6699"/>
<rect x="1573" y="883.2" width="8.1" height="2.9" fill="#308abe"/>
<rect x="1580.8" y="883.2" width="25.9" height="2.9" fill="#3a72a5"/>
<rect x="1606.4" y="883.2" width="5.7" height="2.9" fill="#3d6699"/>
<rect x="1573" y="885.8" width="8.9" height="2.9" fill="#347fb0"/>
<rect x="1581.6" y="885.8" width="22.6" height="2.9" fill="#3a72a5"/>
<rect x="1603.9" y="885.8" width="5.2" height="2.9" fill="#3d6699"/>
<rect x="1573" y="888.4" width="7.8" height="2.9" fill="#308abe"/>
<rect x="1580.5" y="888.4" width="24.2" height="2.9" fill="#3d6699"/>
<rect x="1604.4" y="888.4" width="7.6" height="2.9" fill="#3d6699"/>
<rect x="1573" y="891" width="6.4" height="2.9" fill="#308abe"/>
<rect x="1579.1" y="891" width="24.4" height="2.9" fill="#3a72a5"/>
<rect x="1603.2" y="891" width="3.6" height="2.9" fill="#3d6699"/>
<rect x="1573" y="893.6" width="8" height="2.9" fill="#308abe"/>
<rect x="1580.7" y="893.6" width="25" height="2.9" fill="#3a72a5"/>
<rect x="1605.4" y="893.6" width="5.1" height="2.9" fill="#3d6699"/>
<rect x="1573" y="896.2" width="8.6" height="2.9" fill="#308abe"/>
<rect x="1581.3" y="896.2" width="22.1" height="2.9" fill="#3a72a5"/>
<rect x="1603.2" y="896.2" width="7.1" height="2.9" fill="#3d6699"/>
<rect x="1573" y="898.8" width="9.1" height="2.9" fill="#308abe"/>
<rect x="1581.8" y="898.8" width="22.5" height="2.9" fill="#3a72a5"/>
<rect x="1604.1" y="898.8" width="6.5" height="2.9" fill="#3d6699"/>
<rect x="1573" y="901.4" width="7.2" height="2.9" fill="#308abe"/>
<rect x="1579.9" y="901.4" width="27.1" height="2.9" fill="#3a72a5"/>
<rect x="1606.7" y="901.4" width="4.9" height="2.9" fill="#3d6699"/>
<rect x="1573" y="904" width="8.6" height="2.9" fill="#308abe"/>
<rect x="1581.3" y="904" width="23.4" height="2.9" fill="#3a72a5"/>
<rect x="1604.4" y="904" width="5" height="2.9" fill="#3d6699"/>
<rect x="1573" y="906.6" width="9.1" height="2.9" fill="#308abe"/>
<rect x="1581.8" y="906.6" width="22.4" height="2.9" fill="#3d6699"/>
<rect x="1603.8" y="906.6" width="5.1" height="2.9" fill="#3d6699"/>
<rect x="1573" y="909.2" width="8.1" height="2.9" fill="#308abe"/>
<rect x="1580.8" y="909.2" width="23.7" height="2.9" fill="#3a72a5"/>
<rect x="1604.1" y="909.2" width="8.1" height="2.9" fill="#3d6699"/>
<rect x="1573" y="911.8" width="9.2" height="2.9" fill="#347fb0"/>
<rect x="1581.9" y="911.8" width="18.9" height="2.9" fill="#3a72a5"/>
<rect x="1600.5" y="911.8" width="7.5" height="2.9" fill="#3d6699"/>
<rect x="1573" y="914.4" width="5.6" height="2.9" fill="#308abe"/>
<rect x="1578.3" y="914.4" width="26.9" height="2.9" fill="#3a72a5"/>
<rect x="1604.9" y="914.4" width="4.2" height="2.9" fill="#3d6699"/>
<rect x="1573" y="917" width="9" height="2.9" fill="#308abe"/>
<rect x="1581.7" y="917" width="22.8" height="2.9" fill="#3a72a5"/>
<rect x="1604.2" y="917" width="6.4" height="2.9" fill="#3d6699"/>
<rect x="1573" y="919.6" width="9.3" height="2.9" fill="#347fb0"/>
<rect x="1582" y="919.6" width="23.5" height="2.9" fill="#3a72a5"/>
<rect x="1605.2" y="919.6" width="4.1" height="2.9" fill="#3d6699"/>
<rect x="1573" y="922.2" width="6" height="2.9" fill="#347fb0"/>
<rect x="1578.7" y="922.2" width="26.7" height="2.9" fill="#3d6699"/>
<rect x="1605.2" y="922.2" width="6.5" height="2.9" fill="#3d6699"/>
<rect x="1573" y="924.8" width="9.2" height="2.9" fill="#347fb0"/>
<rect x="1581.9" y="924.8" width="28.8" height="2.9" fill="#3d6699"/>
<rect x="1610.4" y="924.8" width="3.6" height="2.9" fill="#3d6699"/>
<rect x="1573" y="927.4" width="9.2" height="2.9" fill="#308abe"/>
<rect x="1581.9" y="927.4" width="23" height="2.9" fill="#3d6699"/>
<rect x="1604.6" y="927.4" width="4.3" height="2.9" fill="#3d6699"/>
<rect x="1573" y="930" width="6.7" height="2.9" fill="#347fb0"/>
<rect x="1579.4" y="930" width="25.5" height="2.9" fill="#3d6699"/>
<rect x="1604.6" y="930" width="6.3" height="2.9" fill="#3d6699"/>
<rect x="1573" y="932.6" width="6.8" height="2.9" fill="#308abe"/>
<rect x="1579.5" y="932.6" width="28.3" height="2.9" fill="#3a72a5"/>
<rect x="1607.5" y="932.6" width="5.3" height="2.9" fill="#3d6699"/>
<rect x="1573" y="935.2" width="8.8" height="2.9" fill="#308abe"/>
<rect x="1581.5" y="935.2" width="24.5" height="2.9" fill="#3a72a5"/>
<rect x="1605.6" y="935.2" width="8.1" height="2.9" fill="#3d6699"/>
<rect x="1573" y="937.8" width="5.7" height="2.9" fill="#308abe"/>
<rect x="1578.4" y="937.8" width="26.3" height="2.9" fill="#3a72a5"/>
<rect x="1604.4" y="937.8" width="8.1" height="2.9" fill="#3d6699"/>
<rect x="1573" y="940.4" width="8.6" height="2.9" fill="#308abe"/>
<rect x="1581.3" y="940.4" width="28.3" height="2.9" fill="#3a72a5"/>
<rect x="1609.3" y="940.4" width="5.3" height="2.9" fill="#3d6699"/>
<rect x="1573" y="943" width="6.8" height="2.9" fill="#347fb0"/>
<rect x="1579.5" y="943" width="29.6" height="2.9" fill="#3a72a5"/>
<rect x="1608.8" y="943" width="4.1" height="2.9" fill="#3d6699"/>
<rect x="1573" y="945.6" width="9.1" height="2.9" fill="#347fb0"/>
<rect x="1581.8" y="945.6" width="24.7" height="2.9" fill="#3a72a5"/>
<rect x="1606.2" y="945.6" width="6.3" height="2.9" fill="#3d6699"/>
<rect x="1573" y="948.2" width="7.9" height="2.9" fill="#308abe"/>
<rect x="1580.6" y="948.2" width="30" height="2.9" fill="#3a72a5"/>
<rect x="1610.4" y="948.2" width="3.8" height="2.9" fill="#3d6699"/>
<rect x="1573" y="950.8" width="7.5" height="2.9" fill="#308abe"/>
<rect x="1580.2" y="950.8" width="41.8" height="2.9" fill="#3a72a5"/>
<rect x="1621.7" y="950.8" width="6.4" height="2.9" fill="#3d6699"/>
<rect x="1573" y="953.4" width="7" height="2.9" fill="#347fb0"/>
<rect x="1579.7" y="953.4" width="56.1" height="2.9" fill="#3a72a5"/>
<rect x="1635.6" y="953.4" width="5.8" height="2.9" fill="#3d6699"/>
<rect x="1573" y="956" width="4.4" height="2.9" fill="#347fb0"/>
<rect x="1577.1" y="956" width="16.1" height="2.9" fill="#3a72a5"/>
<rect x="1593" y="956" width="12.3" height="2.9" fill="#308abe"/>
<rect x="1604.9" y="956" width="39.2" height="2.9" fill="#2a96c6"/>
<rect x="1643.9" y="956" width="9.3" height="2.9" fill="#347fb0"/>
<rect x="1573" y="958.6" width="6.3" height="2.9" fill="#308abe"/>
<rect x="1579" y="958.6" width="17.6" height="2.9" fill="#3a72a5"/>
<rect x="1596.3" y="958.6" width="6.8" height="2.9" fill="#347fb0"/>
<rect x="1602.8" y="958.6" width="36.4" height="2.9" fill="#2a96c6"/>
<rect x="1639" y="958.6" width="10.3" height="2.9" fill="#347fb0"/>
<rect x="1573" y="961.2" width="5.6" height="2.9" fill="#308abe"/>
<rect x="1578.3" y="961.2" width="9.1" height="2.9" fill="#347fb0"/>
<rect x="1587.1" y="961.2" width="16.7" height="2.9" fill="#347fb0"/>
<rect x="1603.5" y="961.2" width="34" height="2.9" fill="#2a96c6"/>
<rect x="1637.1" y="961.2" width="11.9" height="2.9" fill="#347fb0"/>
<rect x="1573" y="963.8" width="5.8" height="2.9" fill="#308abe"/>
<rect x="1578.5" y="963.8" width="11.7" height="2.9" fill="#347fb0"/>
<rect x="1589.9" y="963.8" width="17.3" height="2.9" fill="#347fb0"/>
<rect x="1606.9" y="963.8" width="37.2" height="2.9" fill="#2a96c6"/>
<rect x="1643.8" y="963.8" width="6.4" height="2.9" fill="#308abe"/>
<rect x="1573" y="966.4" width="5.4" height="2.9" fill="#308abe"/>
<rect x="1578.1" y="966.4" width="16.5" height="2.9" fill="#3a72a5"/>
<rect x="1594.3" y="966.4" width="8.7" height="2.9" fill="#308abe"/>
<rect x="1602.7" y="966.4" width="36.2" height="2.9" fill="#308abe"/>
<rect x="1638.6" y="966.4" width="10.4" height="2.9" fill="#347fb0"/>
<rect x="1573" y="969" width="4.1" height="2.9" fill="#308abe"/>
<rect x="1576.8" y="969" width="17.4" height="2.9" fill="#3a72a5"/>
<rect x="1593.9" y="969" width="12.5" height="2.9" fill="#347fb0"/>
<rect x="1606.1" y="969" width="35.3" height="2.9" fill="#2a96c6"/>
<rect x="1641.1" y="969" width="6.4" height="2.9" fill="#308abe"/>
<rect x="1573" y="971.6" width="5.8" height="2.9" fill="#308abe"/>
<rect x="1578.5" y="971.6" width="12.7" height="2.9" fill="#347fb0"/>
<rect x="1590.9" y="971.6" width="10" height="2.9" fill="#308abe"/>
<rect x="1600.6" y="971.6" width="43.1" height="2.9" fill="#2a96c6"/>
<rect x="1643.4" y="971.6" width="9.1" height="2.9" fill="#308abe"/>
<rect x="1573" y="974.2" width="5.4" height="2.9" fill="#308abe"/>
<rect x="1578.1" y="974.2" width="15" height="2.9" fill="#347fb0"/>
<rect x="1592.8" y="974.2" width="12.7" height="2.9" fill="#308abe"/>
<rect x="1605.2" y="974.2" width="39.9" height="2.9" fill="#2a96c6"/>
<rect x="1644.8" y="974.2" width="7.2" height="2.9" fill="#308abe"/>
<rect x="1573" y="976.8" width="4.9" height="2.9" fill="#308abe"/>
<rect x="1577.6" y="976.8" width="15.5" height="2.9" fill="#3a72a5"/>
<rect x="1592.9" y="976.8" width="7" height="2.9" fill="#347fb0"/>
<rect x="1599.5" y="976.8" width="43.8" height="2.9" fill="#2a96c6"/>
<rect x="1643.1" y="976.8" width="7.9" height="2.9" fill="#347fb0"/>
<rect x="1573" y="979.4" width="3.4" height="2.9" fill="#308abe"/>
<rect x="1576.1" y="979.4" width="21" height="2.9" fill="#3a72a5"/>
<rect x="1596.8" y="979.4" width="8.1" height="2.9" fill="#347fb0"/>
<rect x="1604.6" y="979.4" width="35.9" height="2.9" fill="#2a96c6"/>
<rect x="1640.3" y="979.4" width="7" height="2.9" fill="#347fb0"/>
<rect x="1573" y="982" width="5.8" height="2.9" fill="#347fb0"/>
<rect x="1578.5" y="982" width="16" height="2.9" fill="#3a72a5"/>
<rect x="1594.1" y="982" width="13.1" height="2.9" fill="#308abe"/>
<rect x="1607" y="982" width="31.3" height="2.9" fill="#308abe"/>
<rect x="1638" y="982" width="7.2" height="2.9" fill="#347fb0"/>
<rect x="1573" y="984.6" width="3.8" height="2.9" fill="#347fb0"/>
<rect x="1576.5" y="984.6" width="11.3" height="2.9" fill="#3a72a5"/>
<rect x="1587.4" y="984.6" width="17.1" height="2.9" fill="#347fb0"/>
<rect x="1604.3" y="984.6" width="30.8" height="2.9" fill="#308abe"/>
<rect x="1634.7" y="984.6" width="8" height="2.9" fill="#347fb0"/>
<rect x="1573" y="987.2" width="5.9" height="2.9" fill="#347fb0"/>
<rect x="1578.6" y="987.2" width="8.8" height="2.9" fill="#3a72a5"/>
<rect x="1587.1" y="987.2" width="14.7" height="2.9" fill="#308abe"/>
<rect x="1601.5" y="987.2" width="34.1" height="2.9" fill="#308abe"/>
<rect x="1635.3" y="987.2" width="9.2" height="2.9" fill="#308abe"/>
<rect x="1573" y="989.8" width="3.7" height="2.9" fill="#308abe"/>
<rect x="1576.4" y="989.8" width="12.4" height="2.9" fill="#347fb0"/>
<rect x="1588.5" y="989.8" width="16.2" height="2.9" fill="#308abe"/>
<rect x="1604.4" y="989.8" width="29.5" height="2.9" fill="#308abe"/>
<rect x="1633.6" y="989.8" width="11.8" height="2.9" fill="#347fb0"/>
<rect x="1573" y="992.4" width="5" height="2.9" fill="#308abe"/>
<rect x="1577.7" y="992.4" width="18" height="2.9" fill="#3a72a5"/>
<rect x="1595.3" y="992.4" width="8.1" height="2.9" fill="#347fb0"/>
<rect x="1603.1" y="992.4" width="27.3" height="2.9" fill="#2a96c6"/>
<rect x="1630.2" y="992.4" width="11.1" height="2.9" fill="#308abe"/>
<rect x="1573" y="995" width="3.8" height="2.9" fill="#347fb0"/>
<rect x="1576.5" y="995" width="17.3" height="2.9" fill="#3a72a5"/>
<rect x="1593.6" y="995" width="10.3" height="2.9" fill="#347fb0"/>
<rect x="1603.6" y="995" width="33.8" height="2.9" fill="#2a96c6"/>
<rect x="1637.1" y="995" width="6.8" height="2.9" fill="#308abe"/>
<rect x="1573" y="997.6" width="5.9" height="2.9" fill="#308abe"/>
<rect x="1578.6" y="997.6" width="18.3" height="2.9" fill="#3a72a5"/>
<rect x="1596.6" y="997.6" width="9" height="2.9" fill="#347fb0"/>
<rect x="1605.4" y="997.6" width="26.2" height="2.9" fill="#2a96c6"/>
<rect x="1631.3" y="997.6" width="9.6" height="2.9" fill="#347fb0"/>
<rect x="1573" y="1000.2" width="6.1" height="2.9" fill="#308abe"/>
<rect x="1578.8" y="1000.2" width="15.3" height="2.9" fill="#3a72a5"/>
<rect x="1593.8" y="1000.2" width="11.5" height="2.9" fill="#347fb0"/>
<rect x="1605" y="1000.2" width="28.3" height="2.9" fill="#308abe"/>
<rect x="1633" y="1000.2" width="12.1" height="2.9" fill="#308abe"/>
<rect x="1573" y="1002.8" width="3.7" height="2.9" fill="#308abe"/>
<rect x="1576.4" y="1002.8" width="14.4" height="2.9" fill="#3a72a5"/>
<rect x="1590.5" y="1002.8" width="11.1" height="2.9" fill="#308abe"/>
<rect x="1601.3" y="1002.8" width="34.2" height="2.9" fill="#2a96c6"/>
<rect x="1635.2" y="1002.8" width="11.1" height="2.9" fill="#347fb0"/>
<rect x="1573" y="1005.4" width="4.4" height="2.9" fill="#308abe"/>
<rect x="1577.1" y="1005.4" width="18.3" height="2.9" fill="#3a72a5"/>
<rect x="1595" y="1005.4" width="11.9" height="2.9" fill="#308abe"/>
<rect x="1606.7" y="1005.4" width="31.2" height="2.9" fill="#308abe"/>
<rect x="1637.6" y="1005.4" width="9.4" height="2.9" fill="#347fb0"/>
<rect x="1573" y="1008" width="4.5" height="2.9" fill="#347fb0"/>
<rect x="1577.2" y="1008" width="10.5" height="2.9" fill="#3a72a5"/>
<rect x="1587.4" y="1008" width="13.5" height="2.9" fill="#347fb0"/>
<rect x="1600.6" y="1008" width="38.8" height="2.9" fill="#2a96c6"/>
<rect x="1639.2" y="1008" width="9.2" height="2.9" fill="#308abe"/>
<rect x="1573" y="1010.6" width="4.7" height="2.9" fill="#308abe"/>
<rect x="1577.4" y="1010.6" width="13.1" height="2.9" fill="#3a72a5"/>
<rect x="1590.2" y="1010.6" width="9.9" height="2.9" fill="#347fb0"/>
<rect x="1599.8" y="1010.6" width="35.5" height="2.9" fill="#2a96c6"/>
<rect x="1635" y="1010.6" width="10.2" height="2.9" fill="#308abe"/>
<rect x="1573" y="1013.2" width="5.9" height="2.9" fill="#308abe"/>
<rect x="1578.6" y="1013.2" width="10.2" height="2.9" fill="#3a72a5"/>
<rect x="1588.5" y="1013.2" width="11.7" height="2.9" fill="#347fb0"/>
<rect x="1599.9" y="1013.2" width="41.4" height="2.9" fill="#308abe"/>
<rect x="1641" y="1013.2" width="10.8" height="2.9" fill="#347fb0"/>
<rect x="1573" y="1015.8" width="6" height="2.9" fill="#308abe"/>
<rect x="1578.7" y="1015.8" width="17.9" height="2.9" fill="#3a72a5"/>
<rect x="1596.2" y="1015.8" width="5.6" height="2.9" fill="#347fb0"/>
<rect x="1601.5" y="1015.8" width="36.4" height="2.9" fill="#308abe"/>
<rect x="1637.6" y="1015.8" width="10.4" height="2.9" fill="#308abe"/>
<rect x="1573" y="1018.4" width="6.1" height="2.9" fill="#347fb0"/>
<rect x="1578.8" y="1018.4" width="16.3" height="2.9" fill="#3a72a5"/>
<rect x="1594.9" y="1018.4" width="6.8" height="2.9" fill="#347fb0"/>
<rect x="1601.3" y="1018.4" width="40.3" height="2.9" fill="#2a96c6"/>
<rect x="1641.3" y="1018.4" width="10.7" height="2.9" fill="#347fb0"/>
<rect x="1573" y="1021" width="3.4" height="2.9" fill="#347fb0"/>
<rect x="1576.1" y="1021" width="17.8" height="2.9" fill="#347fb0"/>
<rect x="1593.6" y="1021" width="8.9" height="2.9" fill="#308abe"/>
<rect x="1602.2" y="1021" width="36.4" height="2.9" fill="#2a96c6"/>
<rect x="1638.3" y="1021" width="10.4" height="2.9" fill="#308abe"/>
<rect x="1573" y="1023.6" width="3.5" height="2.9" fill="#308abe"/>
<rect x="1576.2" y="1023.6" width="12.7" height="2.9" fill="#3a72a5"/>
<rect x="1588.6" y="1023.6" width="12.1" height="2.9" fill="#347fb0"/>
<rect x="1600.4" y="1023.6" width="35.5" height="2.9" fill="#308abe"/>
<rect x="1635.6" y="1023.6" width="11.9" height="2.9" fill="#308abe"/>
<rect x="1573" y="1026.2" width="4.1" height="2.9" fill="#308abe"/>
<rect x="1576.8" y="1026.2" width="11.1" height="2.9" fill="#347fb0"/>
<rect x="1587.6" y="1026.2" width="15" height="2.9" fill="#347fb0"/>
<rect x="1602.3" y="1026.2" width="39.2" height="2.9" fill="#308abe"/>
<rect x="1641.2" y="1026.2" width="6.5" height="2.9" fill="#308abe"/>
<rect x="1573" y="1028.8" width="5.4" height="2.9" fill="#347fb0"/>
<rect x="1578.1" y="1028.8" width="18.1" height="2.9" fill="#3a72a5"/>
<rect x="1596" y="1028.8" width="4" height="2.9" fill="#308abe"/>
<rect x="1599.7" y="1028.8" width="40.8" height="2.9" fill="#2a96c6"/>
<rect x="1640.2" y="1028.8" width="6.6" height="2.9" fill="#347fb0"/>
<rect x="1573" y="1031.4" width="5.6" height="2.9" fill="#347fb0"/>
<rect x="1578.3" y="1031.4" width="11.5" height="2.9" fill="#3a72a5"/>
<rect x="1589.6" y="1031.4" width="13.3" height="2.9" fill="#347fb0"/>
<rect x="1602.6" y="1031.4" width="28.3" height="2.9" fill="#2a96c6"/>
<rect x="1630.6" y="1031.4" width="11.6" height="2.9" fill="#347fb0"/>
<rect x="1573" y="1034" width="5.2" height="2.9" fill="#347fb0"/>
<rect x="1577.9" y="1034" width="14.7" height="2.9" fill="#3a72a5"/>
<rect x="1592.3" y="1034" width="14.4" height="2.9" fill="#347fb0"/>
<rect x="1606.4" y="1034" width="28.6" height="2.9" fill="#2a96c6"/>
<rect x="1634.7" y="1034" width="6.8" height="2.9" fill="#347fb0"/>
<rect x="1573" y="1036.6" width="3.9" height="2.9" fill="#347fb0"/>
<rect x="1576.6" y="1036.6" width="15.1" height="2.9" fill="#3a72a5"/>
<rect x="1591.4" y="1036.6" width="11.8" height="2.9" fill="#308abe"/>
<rect x="1602.9" y="1036.6" width="31.1" height="2.9" fill="#2a96c6"/>
<rect x="1633.7" y="1036.6" width="9.4" height="2.9" fill="#347fb0"/>
<rect x="1573" y="1039.2" width="4.2" height="2.9" fill="#308abe"/>
<rect x="1576.9" y="1039.2" width="19.3" height="2.9" fill="#3a72a5"/>
<rect x="1595.9" y="1039.2" width="7.8" height="2.9" fill="#347fb0"/>
<rect x="1603.4" y="1039.2" width="32.8" height="2.9" fill="#2a96c6"/>
<rect x="1635.9" y="1039.2" width="8.2" height="2.9" fill="#308abe"/>
<rect x="1573" y="1041.8" width="4.2" height="2.9" fill="#347fb0"/>
<rect x="1576.9" y="1041.8" width="15.7" height="2.9" fill="#3a72a5"/>
<rect x="1592.4" y="1041.8" width="8.9" height="2.9" fill="#347fb0"/>
<rect x="1601" y="1041.8" width="32.4" height="2.9" fill="#308abe"/>
<rect x="1633.1" y="1041.8" width="11.1" height="2.9" fill="#347fb0"/>
<rect x="1573" y="1044.4" width="4.8" height="2.9" fill="#347fb0"/>
<rect x="1577.5" y="1044.4" width="10.3" height="2.9" fill="#3a72a5"/>
<rect x="1587.5" y="1044.4" width="18.2" height="2.9" fill="#308abe"/>
<rect x="1605.4" y="1044.4" width="24.8" height="2.9" fill="#2a96c6"/>
<rect x="1629.9" y="1044.4" width="11.6" height="2.9" fill="#308abe"/>
<rect x="1573" y="1047" width="4.4" height="2.9" fill="#347fb0"/>
<rect x="1577.1" y="1047" width="19.1" height="2.9" fill="#347fb0"/>
<rect x="1596" y="1047" width="10.9" height="2.9" fill="#347fb0"/>
<rect x="1606.5" y="1047" width="29.1" height="2.9" fill="#2a96c6"/>
<rect x="1635.4" y="1047" width="9.7" height="2.9" fill="#347fb0"/>
<rect x="1573" y="1049.6" width="5.3" height="2.9" fill="#347fb0"/>
<rect x="1578" y="1049.6" width="16.6" height="2.9" fill="#347fb0"/>
<rect x="1594.3" y="1049.6" width="8.4" height="2.9" fill="#347fb0"/>
<rect x="1602.4" y="1049.6" width="32.7" height="2.9" fill="#2a96c6"/>
<rect x="1634.8" y="1049.6" width="11.2" height="2.9" fill="#347fb0"/>
<rect x="1573" y="1052.2" width="4.2" height="2.9" fill="#347fb0"/>
<rect x="1576.9" y="1052.2" width="13" height="2.9" fill="#347fb0"/>
<rect x="1589.6" y="1052.2" width="12.3" height="2.9" fill="#347fb0"/>
<rect x="1601.6" y="1052.2" width="35.7" height="2.9" fill="#308abe"/>
<rect x="1637" y="1052.2" width="6.7" height="2.9" fill="#347fb0"/>
<rect x="1573" y="1054.8" width="3.5" height="2.9" fill="#347fb0"/>
<rect x="1576.2" y="1054.8" width="19.4" height="2.9" fill="#3a72a5"/>
<rect x="1595.3" y="1054.8" width="10.9" height="2.9" fill="#347fb0"/>
<rect x="1605.9" y="1054.8" width="29.3" height="2.9" fill="#2a96c6"/>
<rect x="1634.8" y="1054.8" width="7.7" height="2.9" fill="#347fb0"/>
<rect x="1573" y="1057.4" width="4.3" height="2.9" fill="#347fb0"/>
<rect x="1577" y="1057.4" width="11.9" height="2.9" fill="#347fb0"/>
<rect x="1588.6" y="1057.4" width="17.3" height="2.9" fill="#347fb0"/>
<rect x="1605.6" y="1057.4" width="31.9" height="2.9" fill="#308abe"/>
<rect x="1637.3" y="1057.4" width="7.9" height="2.9" fill="#347fb0"/>
<rect x="1573" y="1060" width="3.7" height="2.9" fill="#308abe"/>
<rect x="1576.4" y="1060" width="18.8" height="2.9" fill="#3a72a5"/>
<rect x="1594.9" y="1060" width="7" height="2.9" fill="#308abe"/>
<rect x="1601.7" y="1060" width="33.4" height="2.9" fill="#2a96c6"/>
<rect x="1634.8" y="1060" width="11.8" height="2.9" fill="#308abe"/>
<rect x="1573" y="1062.6" width="3.4" height="2.9" fill="#347fb0"/>
<rect x="1576.1" y="1062.6" width="16.5" height="2.9" fill="#3a72a5"/>
<rect x="1592.3" y="1062.6" width="11.7" height="2.9" fill="#347fb0"/>
<rect x="1603.8" y="1062.6" width="32.2" height="2.9" fill="#2a96c6"/>
<rect x="1635.7" y="1062.6" width="7.1" height="2.9" fill="#347fb0"/>
<rect x="1573" y="1065.2" width="3.3" height="2.9" fill="#347fb0"/>
<rect x="1576" y="1065.2" width="16.1" height="2.9" fill="#3a72a5"/>
<rect x="1591.8" y="1065.2" width="10.6" height="2.9" fill="#347fb0"/>
<rect x="1602.1" y="1065.2" width="32.6" height="2.9" fill="#2a96c6"/>
<rect x="1634.4" y="1065.2" width="7.5" height="2.9" fill="#308abe"/>
<rect x="1573" y="1067.8" width="4.4" height="2.9" fill="#347fb0"/>
<rect x="1577.1" y="1067.8" width="13.9" height="2.9" fill="#3a72a5"/>
<rect x="1590.7" y="1067.8" width="15.1" height="2.9" fill="#347fb0"/>
<rect x="1605.5" y="1067.8" width="27.8" height="2.9" fill="#2a96c6"/>
<rect x="1633" y="1067.8" width="10" height="2.9" fill="#308abe"/>
<rect x="1573" y="1070.4" width="5.8" height="2.9" fill="#308abe"/>
<rect x="1578.5" y="1070.4" width="12.6" height="2.9" fill="#3a72a5"/>
<rect x="1590.8" y="1070.4" width="9.8" height="2.9" fill="#347fb0"/>
<rect x="1600.4" y="1070.4" width="28.6" height="2.9" fill="#2a96c6"/>
<rect x="1628.7" y="1070.4" width="10.8" height="2.9" fill="#347fb0"/>
<rect x="1573" y="1073" width="5.6" height="2.9" fill="#308abe"/>
<rect x="1578.3" y="1073" width="15.9" height="2.9" fill="#347fb0"/>
<rect x="1593.8" y="1073" width="10.5" height="2.9" fill="#347fb0"/>
<rect x="1604" y="1073" width="30.1" height="2.9" fill="#2a96c6"/>
<rect x="1633.8" y="1073" width="8.6" height="2.9" fill="#347fb0"/>
<rect x="1573" y="1075.6" width="5.1" height="2.9" fill="#347fb0"/>
<rect x="1577.8" y="1075.6" width="17.7" height="2.9" fill="#3a72a5"/>
<rect x="1595.1" y="1075.6" width="6.7" height="2.9" fill="#347fb0"/>
<rect x="1601.5" y="1075.6" width="28.2" height="2.9" fill="#308abe"/>
<rect x="1629.4" y="1075.6" width="10" height="2.9" fill="#308abe"/>
<rect x="1573" y="1078.2" width="4.9" height="2.9" fill="#308abe"/>
<rect x="1577.6" y="1078.2" width="14.2" height="2.9" fill="#347fb0"/>
<rect x="1591.5" y="1078.2" width="15.2" height="2.9" fill="#347fb0"/>
<rect x="1606.4" y="1078.2" width="22.3" height="2.9" fill="#2a96c6"/>
<rect x="1628.4" y="1078.2" width="9.5" height="2.9" fill="#308abe"/>
<rect x="1573" y="1080.8" width="3.4" height="2.9" fill="#347fb0"/>
<rect x="1576.1" y="1080.8" width="14.1" height="2.9" fill="#3a72a5"/>
<rect x="1589.8" y="1080.8" width="9.7" height="2.9" fill="#308abe"/>
<rect x="1599.2" y="1080.8" width="30.4" height="2.9" fill="#308abe"/>
<rect x="1629.3" y="1080.8" width="10" height="2.9" fill="#308abe"/>
<rect x="1573" y="1083.4" width="6.1" height="2.9" fill="#308abe"/>
<rect x="1578.8" y="1083.4" width="17.8" height="2.9" fill="#3a72a5"/>
<rect x="1596.3" y="1083.4" width="3.6" height="2.9" fill="#347fb0"/>
<rect x="1599.6" y="1083.4" width="24.4" height="2.9" fill="#2a96c6"/>
<rect x="1623.6" y="1083.4" width="10.3" height="2.9" fill="#308abe"/>
<rect x="1573" y="1086" width="5.8" height="2.9" fill="#347fb0"/>
<rect x="1578.5" y="1086" width="13.6" height="2.9" fill="#3a72a5"/>
<rect x="1591.8" y="1086" width="14.6" height="2.9" fill="#347fb0"/>
<rect x="1606.2" y="1086" width="20.6" height="2.9" fill="#308abe"/>
<rect x="1626.5" y="1086" width="8.4" height="2.9" fill="#308abe"/>
<rect x="1573" y="1088.6" width="3.3" height="2.9" fill="#308abe"/>
<rect x="1576" y="1088.6" width="15.1" height="2.9" fill="#347fb0"/>
<rect x="1590.8" y="1088.6" width="12.7" height="2.9" fill="#347fb0"/>
<rect x="1603.2" y="1088.6" width="17" height="2.9" fill="#308abe"/>
<rect x="1620" y="1088.6" width="11.8" height="2.9" fill="#308abe"/>
<rect x="1573" y="1091.2" width="3.6" height="2.9" fill="#308abe"/>
<rect x="1576.3" y="1091.2" width="13.5" height="2.9" fill="#3a72a5"/>
<rect x="1589.5" y="1091.2" width="11.5" height="2.9" fill="#308abe"/>
<rect x="1600.7" y="1091.2" width="20.9" height="2.9" fill="#308abe"/>
<rect x="1621.3" y="1091.2" width="11.1" height="2.9" fill="#347fb0"/>
<rect x="1573" y="1093.8" width="3.8" height="2.9" fill="#308abe"/>
<rect x="1576.5" y="1093.8" width="18.5" height="2.9" fill="#3a72a5"/>
<rect x="1594.7" y="1093.8" width="9.9" height="2.9" fill="#308abe"/>
<rect x="1604.2" y="1093.8" width="23.5" height="2.9" fill="#2a96c6"/>
<rect x="1627.4" y="1093.8" width="8.8" height="2.9" fill="#308abe"/>
<rect x="1573" y="1096.4" width="6" height="2.9" fill="#308abe"/>
<rect x="1578.7" y="1096.4" width="12.8" height="2.9" fill="#3a72a5"/>
<rect x="1591.2" y="1096.4" width="13" height="2.9" fill="#308abe"/>
<rect x="1603.8" y="1096.4" width="23.8" height="2.9" fill="#2a96c6"/>
<rect x="1627.4" y="1096.4" width="7.4" height="2.9" fill="#347fb0"/>
<rect x="1573" y="1099" width="5" height="2.9" fill="#347fb0"/>
<rect x="1577.7" y="1099" width="14" height="2.9" fill="#3a72a5"/>
<rect x="1591.3" y="1099" width="12.7" height="2.9" fill="#308abe"/>
<rect x="1603.8" y="1099" width="19" height="2.9" fill="#2a96c6"/>
<rect x="1622.4" y="1099" width="10.7" height="2.9" fill="#308abe"/>
<rect x="1573" y="1101.6" width="4.9" height="2.9" fill="#347fb0"/>
<rect x="1577.6" y="1101.6" width="12.9" height="2.9" fill="#3a72a5"/>
<rect x="1590.2" y="1101.6" width="14.3" height="2.9" fill="#347fb0"/>
<rect x="1604.2" y="1101.6" width="18.5" height="2.9" fill="#308abe"/>
<rect x="1622.3" y="1101.6" width="11.7" height="2.9" fill="#308abe"/>
<rect x="1573" y="1104.2" width="3.3" height="2.9" fill="#347fb0"/>
<rect x="1576" y="1104.2" width="12.4" height="2.9" fill="#3a72a5"/>
<rect x="1588.1" y="1104.2" width="12.4" height="2.9" fill="#347fb0"/>
<rect x="1600.2" y="1104.2" width="29.3" height="2.9" fill="#2a96c6"/>
<rect x="1629.2" y="1104.2" width="9.7" height="2.9" fill="#308abe"/>
<rect x="1573" y="1106.8" width="5.7" height="2.9" fill="#347fb0"/>
<rect x="1578.4" y="1106.8" width="12.5" height="2.9" fill="#3a72a5"/>
<rect x="1590.7" y="1106.8" width="10.2" height="2.9" fill="#308abe"/>
<rect x="1600.6" y="1106.8" width="30.8" height="2.9" fill="#2a96c6"/>
<rect x="1631.1" y="1106.8" width="8.5" height="2.9" fill="#347fb0"/>
<rect x="1573" y="1109.4" width="6.1" height="2.9" fill="#308abe"/>
<rect x="1578.8" y="1109.4" width="12.2" height="2.9" fill="#3a72a5"/>
<rect x="1590.8" y="1109.4" width="16.4" height="2.9" fill="#308abe"/>
<rect x="1606.8" y="1109.4" width="23.2" height="2.9" fill="#2a96c6"/>
<rect x="1629.8" y="1109.4" width="7.1" height="2.9" fill="#308abe"/>
<rect x="1573" y="1112" width="4.3" height="2.9" fill="#347fb0"/>
<rect x="1577" y="1112" width="15.2" height="2.9" fill="#347fb0"/>
<rect x="1591.9" y="1112" width="13.1" height="2.9" fill="#347fb0"/>
<rect x="1604.7" y="1112" width="26.6" height="2.9" fill="#2a96c6"/>
<rect x="1631" y="1112" width="7" height="2.9" fill="#308abe"/>
<rect x="1573" y="1114.6" width="3.9" height="2.9" fill="#308abe"/>
<rect x="1576.6" y="1114.6" width="14.5" height="2.9" fill="#3a72a5"/>
<rect x="1590.8" y="1114.6" width="15.7" height="2.9" fill="#347fb0"/>
<rect x="1606.2" y="1114.6" width="24.9" height="2.9" fill="#2a96c6"/>
<rect x="1630.8" y="1114.6" width="9.8" height="2.9" fill="#308abe"/>
<rect x="1573" y="1117.2" width="5.8" height="2.9" fill="#308abe"/>
<rect x="1578.5" y="1117.2" width="9.3" height="2.9" fill="#3a72a5"/>
<rect x="1587.5" y="1117.2" width="19.7" height="2.9" fill="#308abe"/>
<rect x="1606.9" y="1117.2" width="21.6" height="2.9" fill="#2a96c6"/>
<rect x="1628.2" y="1117.2" width="10.3" height="2.9" fill="#347fb0"/>
<rect x="1573" y="1119.8" width="3.6" height="2.9" fill="#308abe"/>
<rect x="1576.3" y="1119.8" width="15.3" height="2.9" fill="#3a72a5"/>
<rect x="1591.3" y="1119.8" width="12.3" height="2.9" fill="#308abe"/>
<rect x="1603.3" y="1119.8" width="23.9" height="2.9" fill="#2a96c6"/>
<rect x="1627" y="1119.8" width="11.4" height="2.9" fill="#347fb0"/>
<rect x="1573" y="1122.4" width="3.7" height="2.9" fill="#347fb0"/>
<rect x="1576.4" y="1122.4" width="11" height="2.9" fill="#3a72a5"/>
<rect x="1587.1" y="1122.4" width="15.1" height="2.9" fill="#347fb0"/>
<rect x="1601.9" y="1122.4" width="31.8" height="2.9" fill="#308abe"/>
<rect x="1633.4" y="1122.4" width="6.4" height="2.9" fill="#308abe"/>
<rect x="1573" y="1125" width="5.9" height="2.9" fill="#347fb0"/>
<rect x="1578.6" y="1125" width="9.2" height="2.9" fill="#3a72a5"/>
<rect x="1587.5" y="1125" width="13.3" height="2.9" fill="#308abe"/>
<rect x="1600.6" y="1125" width="36.6" height="2.9" fill="#308abe"/>
<rect x="1636.8" y="1125" width="6.4" height="2.9" fill="#347fb0"/>
<rect x="1573" y="1127.6" width="5.1" height="2.9" fill="#308abe"/>
<rect x="1577.8" y="1127.6" width="14.6" height="2.9" fill="#3a72a5"/>
<rect x="1592.1" y="1127.6" width="8.5" height="2.9" fill="#308abe"/>
<rect x="1600.3" y="1127.6" width="32.1" height="2.9" fill="#308abe"/>
<rect x="1632.1" y="1127.6" width="11.5" height="2.9" fill="#347fb0"/>
<rect x="1573" y="1130.2" width="4.6" height="2.9" fill="#308abe"/>
<rect x="1577.3" y="1130.2" width="18.2" height="2.9" fill="#3a72a5"/>
<rect x="1595.1" y="1130.2" width="11.5" height="2.9" fill="#308abe"/>
<rect x="1606.3" y="1130.2" width="27" height="2.9" fill="#2a96c6"/>
<rect x="1633.1" y="1130.2" width="6.4" height="2.9" fill="#308abe"/>
<rect x="1573" y="1132.8" width="5.6" height="2.9" fill="#308abe"/>
<rect x="1578.3" y="1132.8" width="17.3" height="2.9" fill="#3a72a5"/>
<rect x="1595.3" y="1132.8" width="11.9" height="2.9" fill="#347fb0"/>
<rect x="1607" y="1132.8" width="24.1" height="2.9" fill="#2a96c6"/>
<rect x="1630.7" y="1132.8" width="8.7" height="2.9" fill="#308abe"/>
<rect x="1573" y="1135.4" width="4.4" height="2.9" fill="#347fb0"/>
<rect x="1577.1" y="1135.4" width="16.9" height="2.9" fill="#3a72a5"/>
<rect x="1593.7" y="1135.4" width="11.8" height="2.9" fill="#308abe"/>
<rect x="1605.2" y="1135.4" width="28.1" height="2.9" fill="#308abe"/>
<rect x="1632.9" y="1135.4" width="6.8" height="2.9" fill="#308abe"/>
<rect x="1573" y="1138" width="4.5" height="2.9" fill="#347fb0"/>
<rect x="1577.2" y="1138" width="12" height="2.9" fill="#3a72a5"/>
<rect x="1589" y="1138" width="16.3" height="2.9" fill="#308abe"/>
<rect x="1605" y="1138" width="22.7" height="2.9" fill="#308abe"/>
<rect x="1627.4" y="1138" width="12.1" height="2.9" fill="#308abe"/>
<rect x="1573" y="1140.6" width="4" height="2.9" fill="#308abe"/>
<rect x="1576.7" y="1140.6" width="20" height="2.9" fill="#3a72a5"/>
<rect x="1596.4" y="1140.6" width="3" height="2.9" fill="#308abe"/>
<rect x="1599.1" y="1140.6" width="34.5" height="2.9" fill="#2a96c6"/>
<rect x="1633.3" y="1140.6" width="6.8" height="2.9" fill="#308abe"/>
<rect x="1573" y="1143.2" width="3.9" height="2.9" fill="#308abe"/>
<rect x="1576.6" y="1143.2" width="15.8" height="2.9" fill="#347fb0"/>
<rect x="1592.2" y="1143.2" width="11.6" height="2.9" fill="#308abe"/>
<rect x="1603.5" y="1143.2" width="31.2" height="2.9" fill="#308abe"/>
<rect x="1634.3" y="1143.2" width="7" height="2.9" fill="#308abe"/>
<rect x="1573" y="1145.8" width="4.4" height="2.9" fill="#308abe"/>
<rect x="1577.1" y="1145.8" width="15.7" height="2.9" fill="#3a72a5"/>
<rect x="1592.5" y="1145.8" width="14.6" height="2.9" fill="#347fb0"/>
<rect x="1606.7" y="1145.8" width="23" height="2.9" fill="#2a96c6"/>
<rect x="1629.5" y="1145.8" width="12.1" height="2.9" fill="#308abe"/>
<rect x="1573" y="1148.4" width="3.3" height="2.9" fill="#308abe"/>
<rect x="1576" y="1148.4" width="12.6" height="2.9" fill="#3a72a5"/>
<rect x="1588.3" y="1148.4" width="16.3" height="2.9" fill="#347fb0"/>
<rect x="1604.3" y="1148.4" width="29" height="2.9" fill="#2a96c6"/>
<rect x="1633.1" y="1148.4" width="6.3" height="2.9" fill="#308abe"/>
<rect x="1573" y="1151" width="5.4" height="2.9" fill="#347fb0"/>
<rect x="1578.1" y="1151" width="17.1" height="2.9" fill="#3a72a5"/>
<rect x="1594.9" y="1151" width="10.8" height="2.9" fill="#347fb0"/>
<rect x="1605.4" y="1151" width="29" height="2.9" fill="#2a96c6"/>
<rect x="1634.2" y="1151" width="6.5" height="2.9" fill="#308abe"/>
<rect x="1573" y="1153.6" width="5" height="2.9" fill="#308abe"/>
<rect x="1577.7" y="1153.6" width="14.1" height="2.9" fill="#347fb0"/>
<rect x="1591.5" y="1153.6" width="8.8" height="2.9" fill="#308abe"/>
<rect x="1600" y="1153.6" width="34.6" height="2.9" fill="#2a96c6"/>
<rect x="1634.2" y="1153.6" width="9.7" height="2.9" fill="#308abe"/>
<rect x="1573" y="1156.2" width="4.2" height="2.9" fill="#347fb0"/>
<rect x="1576.9" y="1156.2" width="16.3" height="2.9" fill="#347fb0"/>
<rect x="1592.9" y="1156.2" width="7" height="2.9" fill="#308abe"/>
<rect x="1599.6" y="1156.2" width="39.3" height="2.9" fill="#2a96c6"/>
<rect x="1638.6" y="1156.2" width="6.6" height="2.9" fill="#308abe"/>
<rect x="1573" y="1158.8" width="4.8" height="2.9" fill="#308abe"/>
<rect x="1577.5" y="1158.8" width="18.1" height="2.9" fill="#3a72a5"/>
<rect x="1595.3" y="1158.8" width="7.7" height="2.9" fill="#347fb0"/>
<rect x="1602.6" y="1158.8" width="28.3" height="2.9" fill="#308abe"/>
<rect x="1630.6" y="1158.8" width="9.3" height="2.9" fill="#347fb0"/>
<rect x="1573" y="1161.4" width="3.4" height="2.9" fill="#347fb0"/>
<rect x="1576.1" y="1161.4" width="12.3" height="2.9" fill="#3a72a5"/>
<rect x="1588.2" y="1161.4" width="14.1" height="2.9" fill="#308abe"/>
<rect x="1602" y="1161.4" width="33.1" height="2.9" fill="#2a96c6"/>
<rect x="1634.8" y="1161.4" width="7.9" height="2.9" fill="#308abe"/>
<rect x="1573" y="1164" width="5.5" height="2.9" fill="#308abe"/>
<rect x="1578.2" y="1164" width="11.6" height="2.9" fill="#3a72a5"/>
<rect x="1589.5" y="1164" width="14.8" height="2.9" fill="#308abe"/>
<rect x="1604" y="1164" width="33" height="2.9" fill="#2a96c6"/>
<rect x="1636.7" y="1164" width="7.3" height="2.9" fill="#308abe"/>
<rect x="1573" y="1166.6" width="5.9" height="2.9" fill="#347fb0"/>
<rect x="1578.6" y="1166.6" width="14.6" height="2.9" fill="#347fb0"/>
<rect x="1592.9" y="1166.6" width="6.8" height="2.9" fill="#308abe"/>
<rect x="1599.4" y="1166.6" width="34.1" height="2.9" fill="#2a96c6"/>
<rect x="1633.2" y="1166.6" width="9.7" height="2.9" fill="#308abe"/>
<rect x="1573" y="1169.2" width="5.8" height="2.9" fill="#308abe"/>
<rect x="1578.5" y="1169.2" width="15.6" height="2.9" fill="#347fb0"/>
<rect x="1593.7" y="1169.2" width="5.9" height="2.9" fill="#308abe"/>
<rect x="1599.3" y="1169.2" width="33.1" height="2.9" fill="#308abe"/>
<rect x="1632.2" y="1169.2" width="7" height="2.9" fill="#308abe"/>
<rect x="1573" y="1171.8" width="4" height="2.9" fill="#347fb0"/>
<rect x="1576.7" y="1171.8" width="17.7" height="2.9" fill="#347fb0"/>
<rect x="1594.1" y="1171.8" width="10.7" height="2.9" fill="#347fb0"/>
<rect x="1604.5" y="1171.8" width="29.8" height="2.9" fill="#308abe"/>
<rect x="1633.9" y="1171.8" width="6.6" height="2.9" fill="#308abe"/>
<rect x="1573" y="1174.4" width="4.9" height="2.9" fill="#347fb0"/>
<rect x="1577.6" y="1174.4" width="19.3" height="2.9" fill="#347fb0"/>
<rect x="1596.6" y="1174.4" width="9.5" height="2.9" fill="#347fb0"/>
<rect x="1605.7" y="1174.4" width="22.4" height="2.9" fill="#2a96c6"/>
<rect x="1627.8" y="1174.4" width="8.7" height="2.9" fill="#308abe"/>
<rect x="1573" y="1177" width="4.2" height="2.9" fill="#308abe"/>
<rect x="1576.9" y="1177" width="15.6" height="2.9" fill="#3a72a5"/>
<rect x="1592.2" y="1177" width="10.9" height="2.9" fill="#347fb0"/>
<rect x="1602.7" y="1177" width="22.7" height="2.9" fill="#2a96c6"/>
<rect x="1625.1" y="1177" width="10.2" height="2.9" fill="#308abe"/>
<rect x="1573.3" y="1179.6" width="3.9" height="2.9" fill="#347fb0"/>
<rect x="1576.9" y="1179.6" width="12.2" height="2.9" fill="#3a72a5"/>
<rect x="1588.8" y="1179.6" width="15.9" height="2.9" fill="#308abe"/>
<rect x="1604.4" y="1179.6" width="22.9" height="2.9" fill="#308abe"/>
<rect x="1627" y="1179.6" width="10" height="2.9" fill="#308abe"/>
<rect x="1574.2" y="1182.2" width="3.7" height="2.9" fill="#308abe"/>
<rect x="1577.6" y="1182.2" width="12.6" height="2.9" fill="#347fb0"/>
<rect x="1589.9" y="1182.2" width="14.2" height="2.9" fill="#308abe"/>
<rect x="1603.8" y="1182.2" width="17.4" height="2.9" fill="#2a96c6"/>
<rect x="1620.9" y="1182.2" width="11.8" height="2.9" fill="#308abe"/>
<rect x="1575.1" y="1184.8" width="4.8" height="2.9" fill="#347fb0"/>
<rect x="1579.6" y="1184.8" width="15.4" height="2.9" fill="#347fb0"/>
<rect x="1594.7" y="1184.8" width="8.1" height="2.9" fill="#308abe"/>
<rect x="1602.5" y="1184.8" width="20" height="2.9" fill="#2a96c6"/>
<rect x="1622.2" y="1184.8" width="11.3" height="2.9" fill="#347fb0"/>
<rect x="1576" y="1187.4" width="4.6" height="2.9" fill="#308abe"/>
<rect x="1580.3" y="1187.4" width="14.9" height="2.9" fill="#347fb0"/>
<rect x="1594.9" y="1187.4" width="12.6" height="2.9" fill="#347fb0"/>
<rect x="1607.2" y="1187.4" width="16" height="2.9" fill="#2a96c6"/>
<rect x="1622.9" y="1187.4" width="10.4" height="2.9" fill="#308abe"/>
<rect x="1583.9" y="1190" width="4.2" height="2.9" fill="#347fb0"/>
<rect x="1587.8" y="1190" width="10.9" height="2.9" fill="#347fb0"/>
<rect x="1598.4" y="1190" width="14.9" height="2.9" fill="#308abe"/>
<rect x="1613" y="1190" width="9.7" height="2.9" fill="#2a96c6"/>
<rect x="1622.4" y="1190" width="10.6" height="2.9" fill="#347fb0"/>
<rect x="1580.5" y="1192.6" width="3.6" height="2.9" fill="#347fb0"/>
<rect x="1583.8" y="1192.6" width="13.9" height="2.9" fill="#3a72a5"/>
<rect x="1597.4" y="1192.6" width="12.7" height="2.9" fill="#308abe"/>
<rect x="1609.8" y="1192.6" width="19" height="2.9" fill="#2a96c6"/>
<rect x="1628.5" y="1192.6" width="6.7" height="2.9" fill="#347fb0"/>
<rect x="1586.3" y="1195.2" width="5.7" height="2.9" fill="#308abe"/>
<rect x="1591.7" y="1195.2" width="10" height="2.9" fill="#3a72a5"/>
<rect x="1601.4" y="1195.2" width="11.8" height="2.9" fill="#308abe"/>
<rect x="1612.9" y="1195.2" width="15" height="2.9" fill="#308abe"/>
<rect x="1627.6" y="1195.2" width="6.5" height="2.9" fill="#308abe"/>
<rect x="1585.1" y="1197.8" width="4.3" height="2.9" fill="#308abe"/>
<rect x="1589.1" y="1197.8" width="19.8" height="2.9" fill="#3a72a5"/>
<rect x="1608.6" y="1197.8" width="5.9" height="2.9" fill="#347fb0"/>
<rect x="1614.2" y="1197.8" width="12.3" height="2.9" fill="#2a96c6"/>
<rect x="1626.2" y="1197.8" width="10.9" height="2.9" fill="#347fb0"/>
<rect x="1588.1" y="1200.4" width="10.6" height="2.9" fill="#347fb0"/>
<rect x="1598.4" y="1200.4" width="31.7" height="2.9" fill="#2a96c6"/>
<rect x="1629.8" y="1200.4" width="5" height="2.9" fill="#308abe"/>
<rect x="1588.3" y="1203" width="9.7" height="2.9" fill="#3a72a5"/>
<rect x="1597.7" y="1203" width="32.2" height="2.9" fill="#308abe"/>
<rect x="1629.6" y="1203" width="9.6" height="2.9" fill="#308abe"/>
<rect x="1585.8" y="1205.6" width="8.9" height="2.9" fill="#3a72a5"/>
<rect x="1594.4" y="1205.6" width="40.5" height="2.9" fill="#308abe"/>
<rect x="1634.6" y="1205.6" width="5.1" height="2.9" fill="#308abe"/>
<rect x="1586.2" y="1208.2" width="10.7" height="2.9" fill="#347fb0"/>
<rect x="1596.6" y="1208.2" width="41.8" height="2.9" fill="#2a96c6"/>
<rect x="1638.1" y="1208.2" width="6" height="2.9" fill="#308abe"/>
<rect x="1585" y="1210.8" width="12" height="2.9" fill="#3a72a5"/>
<rect x="1596.7" y="1210.8" width="42.8" height="2.9" fill="#308abe"/>
<rect x="1639.2" y="1210.8" width="5.1" height="2.9" fill="#308abe"/>
<rect x="1589.2" y="1213.4" width="9.9" height="2.9" fill="#3a72a5"/>
<rect x="1598.8" y="1213.4" width="41.3" height="2.9" fill="#308abe"/>
<rect x="1639.8" y="1213.4" width="5.1" height="2.9" fill="#308abe"/>
<rect x="1587.7" y="1216" width="10" height="2.9" fill="#3a72a5"/>
<rect x="1597.4" y="1216" width="40.2" height="2.9" fill="#2a96c6"/>
<rect x="1637.2" y="1216" width="9.1" height="2.9" fill="#308abe"/>
<rect x="1586.9" y="1218.6" width="9.2" height="2.9" fill="#3a72a5"/>
<rect x="1595.7" y="1218.6" width="40.4" height="2.9" fill="#2a96c6"/>
<rect x="1635.8" y="1218.6" width="7.6" height="2.9" fill="#308abe"/>
<rect x="1588.6" y="1221.2" width="11" height="2.9" fill="#347fb0"/>
<rect x="1599.3" y="1221.2" width="35.1" height="2.9" fill="#2a96c6"/>
<rect x="1634.1" y="1221.2" width="9.5" height="2.9" fill="#308abe"/>
<rect x="1585" y="1223.8" width="13.3" height="2.9" fill="#3a72a5"/>
<rect x="1598.1" y="1223.8" width="43.5" height="2.9" fill="#2a96c6"/>
<rect x="1641.2" y="1223.8" width="7.4" height="2.9" fill="#308abe"/>
<rect x="1601.8" y="1226.4" width="12.4" height="2.9" fill="#3a72a5"/>
<rect x="1613.8" y="1226.4" width="28" height="2.9" fill="#308abe"/>
<rect x="1641.6" y="1226.4" width="4.3" height="2.9" fill="#308abe"/>
<rect x="1590.2" y="1229" width="9.7" height="2.9" fill="#347fb0"/>
<rect x="1599.6" y="1229" width="39.9" height="2.9" fill="#2a96c6"/>
<rect x="1639.1" y="1229" width="6.3" height="2.9" fill="#308abe"/>
<rect x="1586.3" y="1231.6" width="12.6" height="2.9" fill="#3a72a5"/>
<rect x="1598.6" y="1231.6" width="43.4" height="2.9" fill="#2a96c6"/>
<rect x="1641.7" y="1231.6" width="5.3" height="2.9" fill="#308abe"/>
<rect x="1588.3" y="1234.2" width="10" height="2.9" fill="#347fb0"/>
<rect x="1598" y="1234.2" width="45.7" height="2.9" fill="#2a96c6"/>
<rect x="1643.4" y="1234.2" width="4.6" height="2.9" fill="#308abe"/>
<rect x="1592" y="1236.8" width="7.7" height="2.9" fill="#3a72a5"/>
<rect x="1599.4" y="1236.8" width="35.8" height="2.9" fill="#308abe"/>
<rect x="1634.9" y="1236.8" width="9.4" height="2.9" fill="#308abe"/>
<rect x="1596.5" y="1239.4" width="13.2" height="2.9" fill="#347fb0"/>
<rect x="1609.4" y="1239.4" width="29.6" height="2.9" fill="#308abe"/>
<rect x="1638.7" y="1239.4" width="9.8" height="2.9" fill="#308abe"/>
<rect x="1589.5" y="1242" width="10.3" height="2.9" fill="#347fb0"/>
<rect x="1599.5" y="1242" width="41.7" height="2.9" fill="#308abe"/>
<rect x="1640.9" y="1242" width="7.8" height="2.9" fill="#308abe"/>
<rect x="1588.1" y="1244.6" width="12.4" height="2.9" fill="#347fb0"/>
<rect x="1600.1" y="1244.6" width="40.5" height="2.9" fill="#2a96c6"/>
<rect x="1640.4" y="1244.6" width="9" height="2.9" fill="#308abe"/>
<rect x="1587.5" y="1247.2" width="7.5" height="2.9" fill="#3a72a5"/>
<rect x="1594.7" y="1247.2" width="44.1" height="2.9" fill="#308abe"/>
<rect x="1638.5" y="1247.2" width="7.1" height="2.9" fill="#308abe"/>
<rect x="1586.5" y="1249.8" width="9.8" height="2.9" fill="#347fb0"/>
<rect x="1596" y="1249.8" width="44.1" height="2.9" fill="#2a96c6"/>
<rect x="1639.8" y="1249.8" width="7.2" height="2.9" fill="#308abe"/>
<rect x="1592.1" y="1252.4" width="11.2" height="2.9" fill="#347fb0"/>
<rect x="1603" y="1252.4" width="23.9" height="2.9" fill="#2a96c6"/>
<rect x="1626.6" y="1252.4" width="9.3" height="2.9" fill="#308abe"/>
<rect x="1593.5" y="1255" width="7.9" height="2.9" fill="#347fb0"/>
<rect x="1601.2" y="1255" width="22" height="2.9" fill="#308abe"/>
<rect x="1622.9" y="1255" width="10.2" height="2.9" fill="#308abe"/>
<rect x="1601.9" y="1257.6" width="13.4" height="2.9" fill="#3a72a5"/>
<rect x="1615" y="1257.6" width="16.4" height="2.9" fill="#308abe"/>
<rect x="1631.1" y="1257.6" width="5.6" height="2.9" fill="#308abe"/>
<rect x="1600.1" y="1260.2" width="9.4" height="2.9" fill="#3a72a5"/>
<rect x="1609.3" y="1260.2" width="14" height="2.9" fill="#2a96c6"/>
<rect x="1623" y="1260.2" width="9.7" height="2.9" fill="#308abe"/>
<rect x="1588.2" y="1262.8" width="7.5" height="2.9" fill="#3a72a5"/>
<rect x="1595.4" y="1262.8" width="34.1" height="2.9" fill="#2a96c6"/>
<rect x="1629.1" y="1262.8" width="5.9" height="2.9" fill="#308abe"/>
<rect x="1593" y="1265.4" width="11.8" height="2.9" fill="#3a72a5"/>
<rect x="1604.4" y="1265.4" width="26.4" height="2.9" fill="#2a96c6"/>
<rect x="1630.5" y="1265.4" width="9.5" height="2.9" fill="#308abe"/>
<rect x="1591" y="1268" width="11.6" height="2.9" fill="#347fb0"/>
<rect x="1602.3" y="1268" width="31" height="2.9" fill="#308abe"/>
<rect x="1633" y="1268" width="8.7" height="2.9" fill="#308abe"/>
<rect x="1590" y="1270.6" width="12.5" height="2.9" fill="#3a72a5"/>
<rect x="1602.1" y="1270.6" width="25.3" height="2.9" fill="#308abe"/>
<rect x="1627.2" y="1270.6" width="9.2" height="2.9" fill="#308abe"/>
<rect x="1589" y="1273.2" width="9.2" height="2.9" fill="#3a72a5"/>
<rect x="1597.9" y="1273.2" width="27" height="2.9" fill="#308abe"/>
<rect x="1624.7" y="1273.2" width="8.1" height="2.9" fill="#308abe"/>
<rect x="1589.8" y="1275.8" width="7.1" height="2.9" fill="#3a72a5"/>
<rect x="1596.6" y="1275.8" width="21.9" height="2.9" fill="#2a96c6"/>
<rect x="1618.2" y="1275.8" width="8.5" height="2.9" fill="#308abe"/>
<rect x="1595.5" y="1278.4" width="13.7" height="2.9" fill="#3a72a5"/>
<rect x="1608.9" y="1278.4" width="12.6" height="2.9" fill="#2a96c6"/>
<rect x="1621.3" y="1278.4" width="7.2" height="2.9" fill="#308abe"/>
<rect x="1589.6" y="1281" width="12.4" height="2.9" fill="#347fb0"/>
<rect x="1601.7" y="1281" width="9.3" height="2.9" fill="#2a96c6"/>
<rect x="1610.7" y="1281" width="5.9" height="2.9" fill="#308abe"/>
<rect x="1596.8" y="1283.6" width="10.6" height="2.9" fill="#3a72a5"/>
<rect x="1607.1" y="1283.6" width="5.7" height="2.9" fill="#308abe"/>
<polygon points="1575.1,1050.9 1577.6,1025.7 1585.1,1008.1 1597.7,998.1 1625.4,998.1 1629.2,1010.6 1627.9,1030.7 1632.9,1050.9 1632.9,1073.5 1626.6,1086.1 1625.4,1101.2 1626.6,1126.3 1626.6,1151.4 1621.6,1162.8 1597.7,1162.8 1590.2,1151.4 1588.9,1126.3 1580.1,1113.7 1577.6,1101.2 1582.6,1083.6 1575.1,1071" fill="#45cf30"/>
<ellipse cx="1602.8" cy="1015.7" rx="15.6" ry="13.8" fill="#309e24"/>
<ellipse cx="1600.2" cy="1060.9" rx="15.6" ry="11.3" fill="#309e24"/>
<ellipse cx="1597.7" cy="1086.1" rx="15.6" ry="9.1" fill="#309e24"/>
<ellipse cx="1600.2" cy="1110" rx="18.1" ry="7" fill="#309e24"/>
<ellipse cx="1607.8" cy="1138.9" rx="13.8" ry="15.6" fill="#309e24"/>
<ellipse cx="1607.8" cy="1140.1" rx="7" ry="9.6" fill="#247218"/>
<ellipse cx="1605.3" cy="1008.1" rx="7.5" ry="5.5" fill="#2a8820"/>
<ellipse cx="1592.7" cy="1076" rx="7.5" ry="5" fill="#2a8820"/>
<polygon points="1605.3,1015.7 1616.6,1014.4 1617.8,1035.8 1606.5,1038.3" fill="#e6e83a"/>
<polygon points="1600.2,1045.8 1617.8,1044.6 1617.8,1050.9 1601.5,1052.1" fill="#e6e83a"/>
<polygon points="1600.2,1063.4 1612.8,1062.2 1612.8,1067.2 1600.2,1067.2" fill="#e6e83a"/>
<polygon points="1604,1076 1617.8,1076 1617.8,1094.9 1607.8,1096.1" fill="#e6e83a"/>
<polygon points="1597.7,1104.9 1614.8,1103.7 1614.8,1108.7 1597.7,1110" fill="#e6e83a"/>
<polygon points="1585.1,1216.8 1592.7,1209.3 1617.8,1209.3 1620.4,1224.4 1627.9,1229.4 1620.4,1236.9 1612.8,1242 1612.8,1254.5 1590.2,1255.8 1587.7,1247 1595.2,1236.9 1585.1,1231.9" fill="#4de034"/>
<polygon points="1587.7,1224.4 1615.3,1221.8 1620.4,1229.4 1610.3,1239.4 1590.2,1236.9" fill="#45cf30"/>
<polygon points="1595.2,1262.1 1632.9,1262.1 1643,1270.9 1632.9,1279.7 1617.8,1282.2 1597.7,1279.7" fill="#2a96c6"/>
<rect x="1575.1" y="1208" width="10.1" height="6.3" fill="#3a72a5"/>
<rect x="1573.8" y="1219.3" width="11.3" height="7.5" fill="#3a72a5"/>
<rect x="1575.1" y="1238.2" width="11.3" height="7.5" fill="#3a72a5"/>
<rect x="1575.1" y="1249.5" width="12.6" height="3.8" fill="#3a72a5"/>
<rect x="1576.3" y="1257" width="16.3" height="5" fill="#3a72a5"/>
<rect x="1575.1" y="1274.6" width="18.9" height="5" fill="#3a72a5"/>
<polygon points="1575.1,1297.3 1605.3,1292.2 1630.4,1293.5 1632.9,1298.5 1620.4,1304.8 1597.7,1306.1 1580.1,1304.8" fill="#3a72a5"/>
<polygon points="1577.6,1317.4 1597.7,1314.9 1610.3,1317.4 1640.5,1318.6 1643,1327.4 1640.5,1340 1600.2,1342.5 1597.7,1347.6 1580.1,1347.6 1577.6,1332.5" fill="#3a72a5"/>
<polygon points="1597.7,1322.4 1610.3,1319.4 1638,1322.4 1639.2,1338.8 1597.7,1339.5" fill="#2a96c6"/>
<rect x="1605.3" y="1326.2" width="9.6" height="10.1" fill="#4de034"/>
<ellipse cx="1676.2" cy="1098.6" rx="11.3" ry="3" fill="#347fb0"/>
<ellipse cx="1702.1" cy="1103.7" rx="11.3" ry="3" fill="#347fb0"/>
<ellipse cx="1675.7" cy="1311.1" rx="26.4" ry="4.5" fill="#347fb0"/>
<ellipse cx="1664.4" cy="1304.8" rx="15.6" ry="5" fill="#45cf30"/>
<ellipse cx="1674.4" cy="1334.5" rx="13.8" ry="3" fill="#347fb0"/>
<ellipse cx="1673.2" cy="1340" rx="13.1" ry="3.5" fill="#4de034"/>
<ellipse cx="1697.8" cy="1348.1" rx="14.6" ry="4.5" fill="#3ebf2c"/>
<ellipse cx="1697.8" cy="1345" rx="14.6" ry="4.5" fill="#d0d432"/></g>
<line x1="1620.5" y1="220" x2="1620.5" y2="1760" stroke="#fff" stroke-width="1.4"/>
<line x1="1670.6" y1="220" x2="1670.6" y2="1760" stroke="#fff" stroke-width="1.4"/>
<text class="km" transform="translate(1598.6,223.3) rotate(90)">5 km</text>
<text class="km" transform="translate(1647.9,223.3) rotate(90)">10 km</text>
<text class="km" transform="translate(1698,223.3) rotate(90)">15 km</text>
</g>
<rect x="1720.6" y="1639.1" width="37.2" height="120.8" fill="#3e406e"/>
<rect x="1720.6" y="1566.9" width="37.2" height="72.7" fill="#3e4d7a"/>
<rect x="1720.6" y="1494.8" width="37.2" height="72.7" fill="#3d5a8b"/>
<rect x="1720.6" y="1422.6" width="37.2" height="72.7" fill="#3d6699"/>
<rect x="1720.6" y="1350.5" width="37.2" height="72.7" fill="#3a72a5"/>
<rect x="1720.6" y="1302.4" width="37.2" height="48.7" fill="#347fb0"/>
<rect x="1720.6" y="1254.3" width="37.2" height="48.7" fill="#308abe"/>
<rect x="1720.6" y="1206.2" width="37.2" height="48.7" fill="#2a96c6"/>
<rect x="1720.6" y="1182.1" width="37.2" height="24.6" fill="#27a3d2"/>
<rect x="1720.6" y="1158.1" width="37.2" height="24.6" fill="#2bb0dc"/>
<rect x="1720.6" y="1134" width="37.2" height="24.6" fill="#55f13a"/>
<rect x="1720.6" y="1110" width="37.2" height="24.6" fill="#4de034"/>
<rect x="1720.6" y="1085.9" width="37.2" height="24.6" fill="#45cf30"/>
<rect x="1720.6" y="1061.9" width="37.2" height="24.6" fill="#3ebf2c"/>
<rect x="1720.6" y="1037.8" width="37.2" height="24.6" fill="#37ae28"/>
<rect x="1720.6" y="1013.8" width="37.2" height="24.6" fill="#309e24"/>
<rect x="1720.6" y="989.7" width="37.2" height="24.6" fill="#2a8820"/>
<rect x="1720.6" y="965.7" width="37.2" height="24.6" fill="#26731c"/>
<rect x="1720.6" y="941.6" width="37.2" height="24.6" fill="#f0ee3e"/>
<rect x="1720.6" y="917.6" width="37.2" height="24.6" fill="#e6e83a"/>
<rect x="1720.6" y="893.5" width="37.2" height="24.6" fill="#d8de36"/>
<rect x="1720.6" y="869.5" width="37.2" height="24.6" fill="#d0d432"/>
<rect x="1720.6" y="845.4" width="37.2" height="24.6" fill="#c4c82e"/>
<rect x="1720.6" y="821.4" width="37.2" height="24.6" fill="#d0b020"/>
<rect x="1720.6" y="797.3" width="37.2" height="24.6" fill="#d89818"/>
<rect x="1720.6" y="773.3" width="37.2" height="24.6" fill="#de8014"/>
<rect x="1720.6" y="749.2" width="37.2" height="24.6" fill="#ea0c30"/>
<rect x="1720.6" y="725.2" width="37.2" height="24.6" fill="#cc0020"/>
<rect x="1720.6" y="701.1" width="37.2" height="24.6" fill="#c00018"/>
<rect x="1720.6" y="677.1" width="37.2" height="24.6" fill="#b0000c"/>
<rect x="1720.6" y="653" width="37.2" height="24.6" fill="#9a0000"/>
<rect x="1720.6" y="629" width="37.2" height="24.6" fill="#c00060"/>
<rect x="1720.6" y="604.9" width="37.2" height="24.6" fill="#d8009c"/>
<rect x="1720.6" y="580.9" width="37.2" height="24.6" fill="#e800e8"/>
<rect x="1720.6" y="556.8" width="37.2" height="24.6" fill="#cc00cc"/>
<rect x="1720.6" y="532.8" width="37.2" height="24.6" fill="#b400b4"/>
<rect x="1720.6" y="508.7" width="37.2" height="24.6" fill="#9a009e"/>
<rect x="1720.6" y="484.7" width="37.2" height="24.6" fill="#ffffff"/>
<rect x="1720.6" y="460.7" width="37.2" height="24.6" fill="#e0f6ec"/>
<rect x="1720.6" y="436.6" width="37.2" height="24.6" fill="#c6f1e2"/>
<rect x="1720.6" y="412.6" width="37.2" height="24.6" fill="#b3edd9"/>
<rect x="1720.6" y="388.5" width="37.2" height="24.6" fill="#a6ebd2"/>
<rect x="1720.6" y="340.4" width="37.2" height="48.7" fill="#93e3c8"/>
<rect x="1720.6" y="220.2" width="37.2" height="120.8" fill="#87dfbf"/>
<g fill="none" stroke="#000">
<rect x="19.9" y="63.95" width="1548.95" height="154.25" stroke-width="2.2"/>
<rect x="19.9" y="219.6" width="1548.95" height="1540.5" stroke-width="2.2"/>
<rect x="1570.2" y="220.2" width="149.9" height="1539.9" stroke-width="2.2"/>
<rect x="1720.1" y="220.2" width="37.85" height="1539.9" stroke-width="1.9"/>
</g>
<line x1="1758.5" y1="1687.5" x2="1767.9" y2="1687.5" stroke="#000" stroke-width="2.2"/>
<text class="tick" x="1778.8" y="1698.1">−15</text>
<line x1="1758.5" y1="1607.3" x2="1767.9" y2="1607.3" stroke="#000" stroke-width="2.2"/>
<text class="tick" x="1778.8" y="1617.9">−10</text>
<line x1="1758.5" y1="1527.1" x2="1767.9" y2="1527.1" stroke="#000" stroke-width="2.2"/>
<text class="tick" x="1778.8" y="1537.7">−5</text>
<line x1="1758.5" y1="1447" x2="1767.9" y2="1447" stroke="#000" stroke-width="2.2"/>
<text class="tick" x="1778.8" y="1457.6">0</text>
<line x1="1758.5" y1="1366.8" x2="1767.9" y2="1366.8" stroke="#000" stroke-width="2.2"/>
<text class="tick" x="1778.8" y="1377.4">5</text>
<line x1="1758.5" y1="1286.7" x2="1767.9" y2="1286.7" stroke="#000" stroke-width="2.2"/>
<text class="tick" x="1778.8" y="1297.2">10</text>
<line x1="1758.5" y1="1206.5" x2="1767.9" y2="1206.5" stroke="#000" stroke-width="2.2"/>
<text class="tick" x="1778.8" y="1217.1">15</text>
<line x1="1758.5" y1="1126.3" x2="1767.9" y2="1126.3" stroke="#000" stroke-width="2.2"/>
<text class="tick" x="1778.8" y="1136.9">20</text>
<line x1="1758.5" y1="1046.2" x2="1767.9" y2="1046.2" stroke="#000" stroke-width="2.2"/>
<text class="tick" x="1778.8" y="1056.8">25</text>
<line x1="1758.5" y1="966" x2="1767.9" y2="966" stroke="#000" stroke-width="2.2"/>
<text class="tick" x="1778.8" y="976.6">30</text>
<line x1="1758.5" y1="885.8" x2="1767.9" y2="885.8" stroke="#000" stroke-width="2.2"/>
<text class="tick" x="1778.8" y="896.4">35</text>
<line x1="1758.5" y1="805.7" x2="1767.9" y2="805.7" stroke="#000" stroke-width="2.2"/>
<text class="tick" x="1778.8" y="816.3">40</text>
<line x1="1758.5" y1="725.5" x2="1767.9" y2="725.5" stroke="#000" stroke-width="2.2"/>
<text class="tick" x="1778.8" y="736.1">45</text>
<line x1="1758.5" y1="645.3" x2="1767.9" y2="645.3" stroke="#000" stroke-width="2.2"/>
<text class="tick" x="1778.8" y="655.9">50</text>
<line x1="1758.5" y1="565.2" x2="1767.9" y2="565.2" stroke="#000" stroke-width="2.2"/>
<text class="tick" x="1778.8" y="575.8">55</text>
<line x1="1758.5" y1="485" x2="1767.9" y2="485" stroke="#000" stroke-width="2.2"/>
<text class="tick" x="1778.8" y="495.6">60</text>
<line x1="1758.5" y1="404.8" x2="1767.9" y2="404.8" stroke="#000" stroke-width="2.2"/>
<text class="tick" x="1778.8" y="415.4">65</text>
<line x1="1758.5" y1="324.7" x2="1767.9" y2="324.7" stroke="#000" stroke-width="2.2"/>
<text class="tick" x="1778.8" y="335.3">70</text>
<line x1="1758.5" y1="244.5" x2="1767.9" y2="244.5" stroke="#000" stroke-width="2.2"/>
<text class="tick" x="1778.8" y="255.1">75</text>
<circle cx="105.8" cy="1833.8" r="38.35" fill="none" stroke="#fcb40f" stroke-width="18.5"/>
<path d="M124.24,1814.8 C133.16,1815.99 141.09,1815.19 148.42,1812.02 L160.91,1806.67 L160.91,1861.18 L147.43,1855.83 C141.09,1852.85 133.16,1851.67 124.24,1852.46 Z" fill="#e6e6e6"/>
<path d="M99.07,1818.76 C113.34,1813.21 127.22,1815.19 135.14,1817.57 S156.95,1821.93 166.86,1814 L166.86,1829.07 C156.95,1837 143.07,1833.03 133.16,1830.46 S113.34,1826.49 99.07,1832.64 Z" fill="#0a93d6"/>
<path d="M99.07,1838.58 C113.34,1833.03 127.22,1835.01 135.14,1837.39 S156.95,1841.75 166.86,1833.83 L166.86,1848.1 C156.95,1855.63 143.07,1851.67 133.16,1849.29 S113.34,1845.72 99.07,1853.25 Z" fill="#0a93d6"/>
<g font-family="'Liberation Sans','DejaVu Sans',sans-serif" fill="#222222" stroke="#222222" stroke-width="0.3">
<text x="177.6" y="1807.7" font-size="28.2" textLength="113" lengthAdjust="spacingAndGlyphs">Servicio</text>
<text x="177.6" y="1833.8" font-size="28.2" textLength="201.5" lengthAdjust="spacingAndGlyphs">Meteorológico</text>
<text x="177.6" y="1860.2" font-size="28.2" textLength="119" lengthAdjust="spacingAndGlyphs">Nacional</text>
<text x="179.5" y="1880.4" font-size="18.6" textLength="93.5" lengthAdjust="spacingAndGlyphs" stroke-width="0.4">Argentina</text>
</g>
<g transform="translate(532.9,1840.6) scale(0.96)" fill="none" stroke="#3a4569" stroke-linecap="round" stroke-linejoin="round">
<path d="M-6.89,-43.89 L-21.33,-39.48 M-7.09,-44.77 Q-10.35,-45.42 -13.2,-43.7 T-19.31,-42.64 M-7.19,-45.66 L-22.27,-44.94 M-7.18,-46.55 Q-10.18,-47.99 -13.36,-47.03 T-19.54,-47.5 M-7.05,-47.44 L-21.85,-50.46 M-6.82,-48.3 Q-9.37,-50.43 -12.7,-50.29 T-18.57,-52.27 M-6.48,-49.13 L-20.08,-55.71 M-6.04,-49.91 Q-7.99,-52.61 -11.25,-53.29 T-16.45,-56.66 M-5.51,-50.63 L-17.07,-60.35 M-4.89,-51.28 Q-6.12,-54.37 -9.1,-55.83 T-13.32,-60.38 M-4.2,-51.85 L-13,-64.12 M-3.44,-52.33 Q-3.87,-55.62 -6.4,-57.77 T-9.36,-63.22 M-2.63,-52.7 L-8.14,-66.76 M-1.77,-52.98 Q-1.38,-56.28 -3.3,-58.99 T-4.83,-65 M-0.89,-53.14 L-2.77,-68.13 M0,-53.2 Q1.2,-56.3 0,-59.4 T0,-65.6 M0.89,-53.14 L2.77,-68.13 M1.77,-52.98 Q3.7,-55.69 3.3,-58.99 T4.83,-65 M2.63,-52.7 L8.14,-66.76 M3.44,-52.33 Q5.97,-54.48 6.4,-57.77 T9.36,-63.22 M4.2,-51.85 L13,-64.12 M4.89,-51.28 Q7.88,-52.74 9.1,-55.83 T13.32,-60.38 M5.51,-50.63 L17.07,-60.35 M6.04,-49.91 Q9.3,-50.59 11.25,-53.29 T16.45,-56.66 M6.48,-49.13 L20.08,-55.71 M6.82,-48.3 Q10.14,-48.16 12.7,-50.29 T18.57,-52.27 M7.05,-47.44 L21.85,-50.46 M7.18,-46.55 Q10.36,-45.59 13.36,-47.03 T19.54,-47.5 M7.19,-45.66 L22.27,-44.94 M7.09,-44.77 Q9.94,-43.05 13.2,-43.7 T19.31,-42.64 M6.89,-43.89 L21.33,-39.48" stroke-width="0.95"/>
<g stroke-width="0.75"><ellipse cx="-17.16" cy="-34.21" rx="3.1" ry="1.25" transform="rotate(-75.66 -17.16 -34.21)"/><ellipse cx="-15.21" cy="-31.68" rx="3.1" ry="1.25" transform="rotate(0.34 -15.21 -31.68)"/><ellipse cx="-21.33" cy="-30.88" rx="3.1" ry="1.25" transform="rotate(-84.02 -21.33 -30.88)"/><ellipse cx="-19.02" cy="-28.65" rx="3.1" ry="1.25" transform="rotate(-8.02 -19.02 -28.65)"/><ellipse cx="-25.06" cy="-26.87" rx="3.1" ry="1.25" transform="rotate(-91.91 -25.06 -26.87)"/><ellipse cx="-22.47" cy="-24.98" rx="3.1" ry="1.25" transform="rotate(-15.91 -22.47 -24.98)"/><ellipse cx="-28.28" cy="-22.27" rx="3.1" ry="1.25" transform="rotate(-99.36 -28.28 -22.27)"/><ellipse cx="-25.47" cy="-20.74" rx="3.1" ry="1.25" transform="rotate(-23.36 -25.47 -20.74)"/><ellipse cx="-30.94" cy="-17.19" rx="3.1" ry="1.25" transform="rotate(-106.45 -30.94 -17.19)"/><ellipse cx="-27.96" cy="-16.01" rx="3.1" ry="1.25" transform="rotate(-30.45 -27.96 -16.01)"/><ellipse cx="-32.98" cy="-11.71" rx="3.1" ry="1.25" transform="rotate(-113.26 -32.98 -11.71)"/><ellipse cx="-29.89" cy="-10.9" rx="3.1" ry="1.25" transform="rotate(-37.26 -29.89 -10.9)"/><ellipse cx="-34.38" cy="-5.96" rx="3.1" ry="1.25" transform="rotate(-119.88 -34.38 -5.96)"/><ellipse cx="-31.22" cy="-5.51" rx="3.1" ry="1.25" transform="rotate(-43.88 -31.22 -5.51)"/><ellipse cx="-35.12" cy="-0.04" rx="3.1" ry="1.25" transform="rotate(-126.38 -35.12 -0.04)"/><ellipse cx="-31.92" cy="0.05" rx="3.1" ry="1.25" transform="rotate(-50.38 -31.92 0.05)"/><ellipse cx="-35.18" cy="5.93" rx="3.1" ry="1.25" transform="rotate(-132.86 -35.18 5.93)"/><ellipse cx="-31.99" cy="5.66" rx="3.1" ry="1.25" transform="rotate(-56.86 -31.99 5.66)"/><ellipse cx="-34.58" cy="11.85" rx="3.1" ry="1.25" transform="rotate(-139.41 -34.58 11.85)"/><ellipse cx="-31.44" cy="11.21" rx="3.1" ry="1.25" transform="rotate(-63.41 -31.44 11.21)"/><ellipse cx="-33.31" cy="17.6" rx="3.1" ry="1.25" transform="rotate(-146.11 -33.31 17.6)"/><ellipse cx="-30.27" cy="16.6" rx="3.1" ry="1.25" transform="rotate(-70.11 -30.27 16.6)"/><ellipse cx="-31.42" cy="23.07" rx="3.1" ry="1.25" transform="rotate(-153.05 -31.42 23.07)"/><ellipse cx="-28.52" cy="21.72" rx="3.1" ry="1.25" transform="rotate(-77.05 -28.52 21.72)"/><ellipse cx="-28.93" cy="28.17" rx="3.1" ry="1.25" transform="rotate(-160.32 -28.93 28.17)"/><ellipse cx="-26.22" cy="26.46" rx="3.1" ry="1.25" transform="rotate(-84.32 -26.22 26.46)"/><ellipse cx="-25.88" cy="32.81" rx="3.1" ry="1.25" transform="rotate(-167.98 -25.88 32.81)"/><ellipse cx="-23.43" cy="30.75" rx="3.1" ry="1.25" transform="rotate(-91.98 -23.43 30.75)"/><ellipse cx="-22.34" cy="36.9" rx="3.1" ry="1.25" transform="rotate(-176.1 -22.34 36.9)"/><ellipse cx="-20.21" cy="34.51" rx="3.1" ry="1.25" transform="rotate(-100.1 -20.21 34.51)"/><ellipse cx="-18.37" cy="40.36" rx="3.1" ry="1.25" transform="rotate(-184.71 -18.37 40.36)"/><ellipse cx="-16.61" cy="37.68" rx="3.1" ry="1.25" transform="rotate(-108.71 -16.61 37.68)"/><ellipse cx="-14.02" cy="43.12" rx="3.1" ry="1.25" transform="rotate(-193.79 -14.02 43.12)"/><ellipse cx="-12.7" cy="40.2" rx="3.1" ry="1.25" transform="rotate(-117.79 -12.7 40.2)"/><ellipse cx="-9.37" cy="45.12" rx="3.1" ry="1.25" transform="rotate(-203.29 -9.37 45.12)"/><ellipse cx="-8.56" cy="42.02" rx="3.1" ry="1.25" transform="rotate(-127.29 -8.56 42.02)"/><ellipse cx="-4.52" cy="46.32" rx="3.1" ry="1.25" transform="rotate(-213.06 -4.52 46.32)"/><ellipse cx="-4.25" cy="43.13" rx="3.1" ry="1.25" transform="rotate(-137.06 -4.25 43.13)"/><ellipse cx="15.21" cy="-31.68" rx="3.1" ry="1.25" transform="rotate(-180.34 15.21 -31.68)"/><ellipse cx="17.16" cy="-34.21" rx="3.1" ry="1.25" transform="rotate(-104.34 17.16 -34.21)"/><ellipse cx="19.02" cy="-28.65" rx="3.1" ry="1.25" transform="rotate(-171.98 19.02 -28.65)"/><ellipse cx="21.33" cy="-30.88" rx="3.1" ry="1.25" transform="rotate(-95.98 21.33 -30.88)"/><ellipse cx="22.47" cy="-24.98" rx="3.1" ry="1.25" transform="rotate(-164.09 22.47 -24.98)"/><ellipse cx="25.06" cy="-26.87" rx="3.1" ry="1.25" transform="rotate(-88.09 25.06 -26.87)"/><ellipse cx="25.47" cy="-20.74" rx="3.1" ry="1.25" transform="rotate(-156.64 25.47 -20.74)"/><ellipse cx="28.28" cy="-22.27" rx="3.1" ry="1.25" transform="rotate(-80.64 28.28 -22.27)"/><ellipse cx="27.96" cy="-16.01" rx="3.1" ry="1.25" transform="rotate(-149.55 27.96 -16.01)"/><ellipse cx="30.94" cy="-17.19" rx="3.1" ry="1.25" transform="rotate(-73.55 30.94 -17.19)"/><ellipse cx="29.89" cy="-10.9" rx="3.1" ry="1.25" transform="rotate(-142.74 29.89 -10.9)"/><ellipse cx="32.98" cy="-11.71" rx="3.1" ry="1.25" transform="rotate(-66.74 32.98 -11.71)"/><ellipse cx="31.22" cy="-5.51" rx="3.1" ry="1.25" transform="rotate(-136.12 31.22 -5.51)"/><ellipse cx="34.38" cy="-5.96" rx="3.1" ry="1.25" transform="rotate(-60.12 34.38 -5.96)"/><ellipse cx="31.92" cy="0.05" rx="3.1" ry="1.25" transform="rotate(-129.62 31.92 0.05)"/><ellipse cx="35.12" cy="-0.04" rx="3.1" ry="1.25" transform="rotate(-53.62 35.12 -0.04)"/><ellipse cx="31.99" cy="5.66" rx="3.1" ry="1.25" transform="rotate(-123.14 31.99 5.66)"/><ellipse cx="35.18" cy="5.93" rx="3.1" ry="1.25" transform="rotate(-47.14 35.18 5.93)"/><ellipse cx="31.44" cy="11.21" rx="3.1" ry="1.25" transform="rotate(-116.59 31.44 11.21)"/><ellipse cx="34.58" cy="11.85" rx="3.1" ry="1.25" transform="rotate(-40.59 34.58 11.85)"/><ellipse cx="30.27" cy="16.6" rx="3.1" ry="1.25" transform="rotate(-109.89 30.27 16.6)"/><ellipse cx="33.31" cy="17.6" rx="3.1" ry="1.25" transform="rotate(-33.89 33.31 17.6)"/><ellipse cx="28.52" cy="21.72" rx="3.1" ry="1.25" transform="rotate(-102.95 28.52 21.72)"/><ellipse cx="31.42" cy="23.07" rx="3.1" ry="1.25" transform="rotate(-26.95 31.42 23.07)"/><ellipse cx="26.22" cy="26.46" rx="3.1" ry="1.25" transform="rotate(-95.68 26.22 26.46)"/><ellipse cx="28.93" cy="28.17" rx="3.1" ry="1.25" transform="rotate(-19.68 28.93 28.17)"/><ellipse cx="23.43" cy="30.75" rx="3.1" ry="1.25" transform="rotate(-88.02 23.43 30.75)"/><ellipse cx="25.88" cy="32.81" rx="3.1" ry="1.25" transform="rotate(-12.02 25.88 32.81)"/><ellipse cx="20.21" cy="34.51" rx="3.1" ry="1.25" transform="rotate(-79.9 20.21 34.51)"/><ellipse cx="22.34" cy="36.9" rx="3.1" ry="1.25" transform="rotate(-3.9 22.34 36.9)"/><ellipse cx="16.61" cy="37.68" rx="3.1" ry="1.25" transform="rotate(-71.29 16.61 37.68)"/><ellipse cx="18.37" cy="40.36" rx="3.1" ry="1.25" transform="rotate(4.71 18.37 40.36)"/><ellipse cx="12.7" cy="40.2" rx="3.1" ry="1.25" transform="rotate(-62.21 12.7 40.2)"/><ellipse cx="14.02" cy="43.12" rx="3.1" ry="1.25" transform="rotate(13.79 14.02 43.12)"/><ellipse cx="8.56" cy="42.02" rx="3.1" ry="1.25" transform="rotate(-52.71 8.56 42.02)"/><ellipse cx="9.37" cy="45.12" rx="3.1" ry="1.25" transform="rotate(23.29 9.37 45.12)"/><ellipse cx="4.25" cy="43.13" rx="3.1" ry="1.25" transform="rotate(-42.94 4.25 43.13)"/><ellipse cx="4.52" cy="46.32" rx="3.1" ry="1.25" transform="rotate(33.06 4.52 46.32)"/></g>
<ellipse cx="0" cy="0" rx="28.6" ry="40.4" fill="#e6e6e6" stroke-width="1.25"/>
<ellipse cx="0" cy="0" rx="27.2" ry="39" stroke-width="0.6"/>
<circle cx="0" cy="-46" r="6.5" fill="#e6e6e6" stroke="none"/>
<path d="M-6.3,-44.5 A6.5,6.5 0 0 1 6.3,-44.5" stroke-width="0.8"/>
<ellipse cx="-2.6" cy="-46" rx="1.7" ry="0.9" fill="#3a4569" stroke="none"/><ellipse cx="2.6" cy="-46" rx="1.7" ry="0.9" fill="#3a4569" stroke="none"/>
<path d="M-0.9,-42.4 L0,-44.8 L0.9,-42.4" stroke-width="0.7"/>
<path d="M-8.98,-36.5 H8.98 M-16,-30.9 H16 M-20.51,-24.6 H20.51 M-23.15,-19 H23.15 M-25.04,-13 H25.04 M-26.16,-7 H26.16 M-26.58,-1.4 H26.58" stroke-width="0.85"/>
<path d="M-8.2,-13.3 C-9,-16 -9,-18.5 -7.2,-21 C-9.5,-21.5 -10,-24.5 -8.6,-25.6 C-6,-28 -2,-29 1,-28.5 C6,-27.5 9,-22 10.4,-15 C10.6,-13 9.4,-12.4 8,-12.5 C4,-13.6 -4,-13.6 -8.2,-13.3 Z" fill="#e6e6e6" stroke-width="1.05"/>
<path d="M-7,-20.8 C-3,-21.5 2,-23 5,-26 M-7.6,-17 C-2,-17.5 5,-19 8.6,-21.5" stroke-width="0.55"/>
<path d="M0,-13.2 V31.4" stroke-width="2" stroke-linecap="butt"/>
<path d="M-26.4,9.2 C-18,8.6 -9,5.2 0,5 C10,5.4 18,9 26.6,9.8" stroke-width="0.85"/>
<path d="M-23.3,20.4 C-16,18 -12,15.2 -8,14.2 M11,14.8 C15,15.6 19,18.2 23.8,19.8" stroke-width="0.85"/>
<path d="M-9.5,13.5 C-7,10.5 -4,9 -1,9.2 C1.5,7.6 5,8.4 7.6,10.6 C9.5,12 11,13.4 11,14.8 C9,17.6 5,18.8 1.5,17.6 C-1,18.6 -6,18 -9.5,13.5 Z" fill="#e6e6e6" stroke-width="0.85"/>
<path d="M-7.5,13 L-5.5,16.5 M-5.6,12 L-3.6,16.8 M-3.6,11.4 L-1.6,16.8 M3,12 L6.6,14.6 M4.2,10.8 L8.2,13.6 M-1,9.4 C1,11 3,11 5,10" stroke-width="0.55"/>
<path d="M0,9 V17.6" stroke-width="2" stroke-linecap="butt"/>
<path d="M-5.2,43 C-2,44 2,44 5.2,43 L4.4,49 C2,50 -2,50 -4.4,49 Z" fill="#3a4569" stroke-width="0.7"/>
<path d="M-3.4,49.4 L-11,54.6 L-8.4,55.4 L-7.6,53.4 M-2,49.8 L-6.4,56 M3.4,49.4 L11,54.6 L8.4,55.4 L7.6,53.4 M2,49.8 L6.4,56" stroke-width="1.3"/>
</g>
<g font-family="'Liberation Serif','DejaVu Serif',serif" fill="#232d4f">
<text x="583" y="1827.6" font-size="28" font-weight="bold" textLength="132" lengthAdjust="spacingAndGlyphs">Ministerio</text>
<text x="583" y="1853.4" font-size="28" font-weight="bold" textLength="133.3" lengthAdjust="spacingAndGlyphs">de Defensa</text>
<text x="584" y="1873" font-size="15.8" textLength="149.5" lengthAdjust="spacingAndGlyphs" fill="#343e60">República Argentina</text>
</g>
<g transform="translate(893.8,1841) scale(1)" fill="none" stroke="#3a4569" stroke-linecap="round" stroke-linejoin="round">
<path d="M-6.89,-43.89 L-21.33,-39.48 M-7.09,-44.77 Q-10.35,-45.42 -13.2,-43.7 T-19.31,-42.64 M-7.19,-45.66 L-22.27,-44.94 M-7.18,-46.55 Q-10.18,-47.99 -13.36,-47.03 T-19.54,-47.5 M-7.05,-47.44 L-21.85,-50.46 M-6.82,-48.3 Q-9.37,-50.43 -12.7,-50.29 T-18.57,-52.27 M-6.48,-49.13 L-20.08,-55.71 M-6.04,-49.91 Q-7.99,-52.61 -11.25,-53.29 T-16.45,-56.66 M-5.51,-50.63 L-17.07,-60.35 M-4.89,-51.28 Q-6.12,-54.37 -9.1,-55.83 T-13.32,-60.38 M-4.2,-51.85 L-13,-64.12 M-3.44,-52.33 Q-3.87,-55.62 -6.4,-57.77 T-9.36,-63.22 M-2.63,-52.7 L-8.14,-66.76 M-1.77,-52.98 Q-1.38,-56.28 -3.3,-58.99 T-4.83,-65 M-0.89,-53.14 L-2.77,-68.13 M0,-53.2 Q1.2,-56.3 0,-59.4 T0,-65.6 M0.89,-53.14 L2.77,-68.13 M1.77,-52.98 Q3.7,-55.69 3.3,-58.99 T4.83,-65 M2.63,-52.7 L8.14,-66.76 M3.44,-52.33 Q5.97,-54.48 6.4,-57.77 T9.36,-63.22 M4.2,-51.85 L13,-64.12 M4.89,-51.28 Q7.88,-52.74 9.1,-55.83 T13.32,-60.38 M5.51,-50.63 L17.07,-60.35 M6.04,-49.91 Q9.3,-50.59 11.25,-53.29 T16.45,-56.66 M6.48,-49.13 L20.08,-55.71 M6.82,-48.3 Q10.14,-48.16 12.7,-50.29 T18.57,-52.27 M7.05,-47.44 L21.85,-50.46 M7.18,-46.55 Q10.36,-45.59 13.36,-47.03 T19.54,-47.5 M7.19,-45.66 L22.27,-44.94 M7.09,-44.77 Q9.94,-43.05 13.2,-43.7 T19.31,-42.64 M6.89,-43.89 L21.33,-39.48" stroke-width="0.95"/>
<g stroke-width="0.75"><ellipse cx="-17.16" cy="-34.21" rx="3.1" ry="1.25" transform="rotate(-75.66 -17.16 -34.21)"/><ellipse cx="-15.21" cy="-31.68" rx="3.1" ry="1.25" transform="rotate(0.34 -15.21 -31.68)"/><ellipse cx="-21.33" cy="-30.88" rx="3.1" ry="1.25" transform="rotate(-84.02 -21.33 -30.88)"/><ellipse cx="-19.02" cy="-28.65" rx="3.1" ry="1.25" transform="rotate(-8.02 -19.02 -28.65)"/><ellipse cx="-25.06" cy="-26.87" rx="3.1" ry="1.25" transform="rotate(-91.91 -25.06 -26.87)"/><ellipse cx="-22.47" cy="-24.98" rx="3.1" ry="1.25" transform="rotate(-15.91 -22.47 -24.98)"/><ellipse cx="-28.28" cy="-22.27" rx="3.1" ry="1.25" transform="rotate(-99.36 -28.28 -22.27)"/><ellipse cx="-25.47" cy="-20.74" rx="3.1" ry="1.25" transform="rotate(-23.36 -25.47 -20.74)"/><ellipse cx="-30.94" cy="-17.19" rx="3.1" ry="1.25" transform="rotate(-106.45 -30.94 -17.19)"/><ellipse cx="-27.96" cy="-16.01" rx="3.1" ry="1.25" transform="rotate(-30.45 -27.96 -16.01)"/><ellipse cx="-32.98" cy="-11.71" rx="3.1" ry="1.25" transform="rotate(-113.26 -32.98 -11.71)"/><ellipse cx="-29.89" cy="-10.9" rx="3.1" ry="1.25" transform="rotate(-37.26 -29.89 -10.9)"/><ellipse cx="-34.38" cy="-5.96" rx="3.1" ry="1.25" transform="rotate(-119.88 -34.38 -5.96)"/><ellipse cx="-31.22" cy="-5.51" rx="3.1" ry="1.25" transform="rotate(-43.88 -31.22 -5.51)"/><ellipse cx="-35.12" cy="-0.04" rx="3.1" ry="1.25" transform="rotate(-126.38 -35.12 -0.04)"/><ellipse cx="-31.92" cy="0.05" rx="3.1" ry="1.25" transform="rotate(-50.38 -31.92 0.05)"/><ellipse cx="-35.18" cy="5.93" rx="3.1" ry="1.25" transform="rotate(-132.86 -35.18 5.93)"/><ellipse cx="-31.99" cy="5.66" rx="3.1" ry="1.25" transform="rotate(-56.86 -31.99 5.66)"/><ellipse cx="-34.58" cy="11.85" rx="3.1" ry="1.25" transform="rotate(-139.41 -34.58 11.85)"/><ellipse cx="-31.44" cy="11.21" rx="3.1" ry="1.25" transform="rotate(-63.41 -31.44 11.21)"/><ellipse cx="-33.31" cy="17.6" rx="3.1" ry="1.25" transform="rotate(-146.11 -33.31 17.6)"/><ellipse cx="-30.27" cy="16.6" rx="3.1" ry="1.25" transform="rotate(-70.11 -30.27 16.6)"/><ellipse cx="-31.42" cy="23.07" rx="3.1" ry="1.25" transform="rotate(-153.05 -31.42 23.07)"/><ellipse cx="-28.52" cy="21.72" rx="3.1" ry="1.25" transform="rotate(-77.05 -28.52 21.72)"/><ellipse cx="-28.93" cy="28.17" rx="3.1" ry="1.25" transform="rotate(-160.32 -28.93 28.17)"/><ellipse cx="-26.22" cy="26.46" rx="3.1" ry="1.25" transform="rotate(-84.32 -26.22 26.46)"/><ellipse cx="-25.88" cy="32.81" rx="3.1" ry="1.25" transform="rotate(-167.98 -25.88 32.81)"/><ellipse cx="-23.43" cy="30.75" rx="3.1" ry="1.25" transform="rotate(-91.98 -23.43 30.75)"/><ellipse cx="-22.34" cy="36.9" rx="3.1" ry="1.25" transform="rotate(-176.1 -22.34 36.9)"/><ellipse cx="-20.21" cy="34.51" rx="3.1" ry="1.25" transform="rotate(-100.1 -20.21 34.51)"/><ellipse cx="-18.37" cy="40.36" rx="3.1" ry="1.25" transform="rotate(-184.71 -18.37 40.36)"/><ellipse cx="-16.61" cy="37.68" rx="3.1" ry="1.25" transform="rotate(-108.71 -16.61 37.68)"/><ellipse cx="-14.02" cy="43.12" rx="3.1" ry="1.25" transform="rotate(-193.79 -14.02 43.12)"/><ellipse cx="-12.7" cy="40.2" rx="3.1" ry="1.25" transform="rotate(-117.79 -12.7 40.2)"/><ellipse cx="-9.37" cy="45.12" rx="3.1" ry="1.25" transform="rotate(-203.29 -9.37 45.12)"/><ellipse cx="-8.56" cy="42.02" rx="3.1" ry="1.25" transform="rotate(-127.29 -8.56 42.02)"/><ellipse cx="-4.52" cy="46.32" rx="3.1" ry="1.25" transform="rotate(-213.06 -4.52 46.32)"/><ellipse cx="-4.25" cy="43.13" rx="3.1" ry="1.25" transform="rotate(-137.06 -4.25 43.13)"/><ellipse cx="15.21" cy="-31.68" rx="3.1" ry="1.25" transform="rotate(-180.34 15.21 -31.68)"/><ellipse cx="17.16" cy="-34.21" rx="3.1" ry="1.25" transform="rotate(-104.34 17.16 -34.21)"/><ellipse cx="19.02" cy="-28.65" rx="3.1" ry="1.25" transform="rotate(-171.98 19.02 -28.65)"/><ellipse cx="21.33" cy="-30.88" rx="3.1" ry="1.25" transform="rotate(-95.98 21.33 -30.88)"/><ellipse cx="22.47" cy="-24.98" rx="3.1" ry="1.25" transform="rotate(-164.09 22.47 -24.98)"/><ellipse cx="25.06" cy="-26.87" rx="3.1" ry="1.25" transform="rotate(-88.09 25.06 -26.87)"/><ellipse cx="25.47" cy="-20.74" rx="3.1" ry="1.25" transform="rotate(-156.64 25.47 -20.74)"/><ellipse cx="28.28" cy="-22.27" rx="3.1" ry="1.25" transform="rotate(-80.64 28.28 -22.27)"/><ellipse cx="27.96" cy="-16.01" rx="3.1" ry="1.25" transform="rotate(-149.55 27.96 -16.01)"/><ellipse cx="30.94" cy="-17.19" rx="3.1" ry="1.25" transform="rotate(-73.55 30.94 -17.19)"/><ellipse cx="29.89" cy="-10.9" rx="3.1" ry="1.25" transform="rotate(-142.74 29.89 -10.9)"/><ellipse cx="32.98" cy="-11.71" rx="3.1" ry="1.25" transform="rotate(-66.74 32.98 -11.71)"/><ellipse cx="31.22" cy="-5.51" rx="3.1" ry="1.25" transform="rotate(-136.12 31.22 -5.51)"/><ellipse cx="34.38" cy="-5.96" rx="3.1" ry="1.25" transform="rotate(-60.12 34.38 -5.96)"/><ellipse cx="31.92" cy="0.05" rx="3.1" ry="1.25" transform="rotate(-129.62 31.92 0.05)"/><ellipse cx="35.12" cy="-0.04" rx="3.1" ry="1.25" transform="rotate(-53.62 35.12 -0.04)"/><ellipse cx="31.99" cy="5.66" rx="3.1" ry="1.25" transform="rotate(-123.14 31.99 5.66)"/><ellipse cx="35.18" cy="5.93" rx="3.1" ry="1.25" transform="rotate(-47.14 35.18 5.93)"/><ellipse cx="31.44" cy="11.21" rx="3.1" ry="1.25" transform="rotate(-116.59 31.44 11.21)"/><ellipse cx="34.58" cy="11.85" rx="3.1" ry="1.25" transform="rotate(-40.59 34.58 11.85)"/><ellipse cx="30.27" cy="16.6" rx="3.1" ry="1.25" transform="rotate(-109.89 30.27 16.6)"/><ellipse cx="33.31" cy="17.6" rx="3.1" ry="1.25" transform="rotate(-33.89 33.31 17.6)"/><ellipse cx="28.52" cy="21.72" rx="3.1" ry="1.25" transform="rotate(-102.95 28.52 21.72)"/><ellipse cx="31.42" cy="23.07" rx="3.1" ry="1.25" transform="rotate(-26.95 31.42 23.07)"/><ellipse cx="26.22" cy="26.46" rx="3.1" ry="1.25" transform="rotate(-95.68 26.22 26.46)"/><ellipse cx="28.93" cy="28.17" rx="3.1" ry="1.25" transform="rotate(-19.68 28.93 28.17)"/><ellipse cx="23.43" cy="30.75" rx="3.1" ry="1.25" transform="rotate(-88.02 23.43 30.75)"/><ellipse cx="25.88" cy="32.81" rx="3.1" ry="1.25" transform="rotate(-12.02 25.88 32.81)"/><ellipse cx="20.21" cy="34.51" rx="3.1" ry="1.25" transform="rotate(-79.9 20.21 34.51)"/><ellipse cx="22.34" cy="36.9" rx="3.1" ry="1.25" transform="rotate(-3.9 22.34 36.9)"/><ellipse cx="16.61" cy="37.68" rx="3.1" ry="1.25" transform="rotate(-71.29 16.61 37.68)"/><ellipse cx="18.37" cy="40.36" rx="3.1" ry="1.25" transform="rotate(4.71 18.37 40.36)"/><ellipse cx="12.7" cy="40.2" rx="3.1" ry="1.25" transform="rotate(-62.21 12.7 40.2)"/><ellipse cx="14.02" cy="43.12" rx="3.1" ry="1.25" transform="rotate(13.79 14.02 43.12)"/><ellipse cx="8.56" cy="42.02" rx="3.1" ry="1.25" transform="rotate(-52.71 8.56 42.02)"/><ellipse cx="9.37" cy="45.12" rx="3.1" ry="1.25" transform="rotate(23.29 9.37 45.12)"/><ellipse cx="4.25" cy="43.13" rx="3.1" ry="1.25" transform="rotate(-42.94 4.25 43.13)"/><ellipse cx="4.52" cy="46.32" rx="3.1" ry="1.25" transform="rotate(33.06 4.52 46.32)"/></g>
<ellipse cx="0" cy="0" rx="28.6" ry="40.4" fill="#e6e6e6" stroke-width="1.25"/>
<ellipse cx="0" cy="0" rx="27.2" ry="39" stroke-width="0.6"/>
<circle cx="0" cy="-46" r="6.5" fill="#e6e6e6" stroke="none"/>
<path d="M-6.3,-44.5 A6.5,6.5 0 0 1 6.3,-44.5" stroke-width="0.8"/>
<ellipse cx="-2.6" cy="-46" rx="1.7" ry="0.9" fill="#3a4569" stroke="none"/><ellipse cx="2.6" cy="-46" rx="1.7" ry="0.9" fill="#3a4569" stroke="none"/>
<path d="M-0.9,-42.4 L0,-44.8 L0.9,-42.4" stroke-width="0.7"/>
<path d="M-8.98,-36.5 H8.98 M-16,-30.9 H16 M-20.51,-24.6 H20.51 M-23.15,-19 H23.15 M-25.04,-13 H25.04 M-26.16,-7 H26.16 M-26.58,-1.4 H26.58" stroke-width="0.85"/>
<path d="M-8.2,-13.3 C-9,-16 -9,-18.5 -7.2,-21 C-9.5,-21.5 -10,-24.5 -8.6,-25.6 C-6,-28 -2,-29 1,-28.5 C6,-27.5 9,-22 10.4,-15 C10.6,-13 9.4,-12.4 8,-12.5 C4,-13.6 -4,-13.6 -8.2,-13.3 Z" fill="#e6e6e6" stroke-width="1.05"/>
<path d="M-7,-20.8 C-3,-21.5 2,-23 5,-26 M-7.6,-17 C-2,-17.5 5,-19 8.6,-21.5" stroke-width="0.55"/>
<path d="M0,-13.2 V31.4" stroke-width="2" stroke-linecap="butt"/>
<path d="M-26.4,9.2 C-18,8.6 -9,5.2 0,5 C10,5.4 18,9 26.6,9.8" stroke-width="0.85"/>
<path d="M-23.3,20.4 C-16,18 -12,15.2 -8,14.2 M11,14.8 C15,15.6 19,18.2 23.8,19.8" stroke-width="0.85"/>
<path d="M-9.5,13.5 C-7,10.5 -4,9 -1,9.2 C1.5,7.6 5,8.4 7.6,10.6 C9.5,12 11,13.4 11,14.8 C9,17.6 5,18.8 1.5,17.6 C-1,18.6 -6,18 -9.5,13.5 Z" fill="#e6e6e6" stroke-width="0.85"/>
<path d="M-7.5,13 L-5.5,16.5 M-5.6,12 L-3.6,16.8 M-3.6,11.4 L-1.6,16.8 M3,12 L6.6,14.6 M4.2,10.8 L8.2,13.6 M-1,9.4 C1,11 3,11 5,10" stroke-width="0.55"/>
<path d="M0,9 V17.6" stroke-width="2" stroke-linecap="butt"/>
<path d="M-5.2,43 C-2,44 2,44 5.2,43 L4.4,49 C2,50 -2,50 -4.4,49 Z" fill="#3a4569" stroke-width="0.7"/>
<path d="M-3.4,49.4 L-11,54.6 L-8.4,55.4 L-7.6,53.4 M-2,49.8 L-6.4,56 M3.4,49.4 L11,54.6 L8.4,55.4 L7.6,53.4 M2,49.8 L6.4,56" stroke-width="1.3"/>
</g>
<g font-family="'Liberation Serif','DejaVu Serif',serif" fill="#232d4f">
<text x="947" y="1826.8" font-size="28.5" font-weight="bold" textLength="134" lengthAdjust="spacingAndGlyphs">Ministerio</text>
<text x="947" y="1852.6" font-size="28.5" font-weight="bold" textLength="161.5" lengthAdjust="spacingAndGlyphs">de Economía</text>
<text x="946.5" y="1873.3" font-size="16.1" textLength="152.6" lengthAdjust="spacingAndGlyphs" fill="#343e60">República Argentina</text>
</g>
</svg></body></html>
